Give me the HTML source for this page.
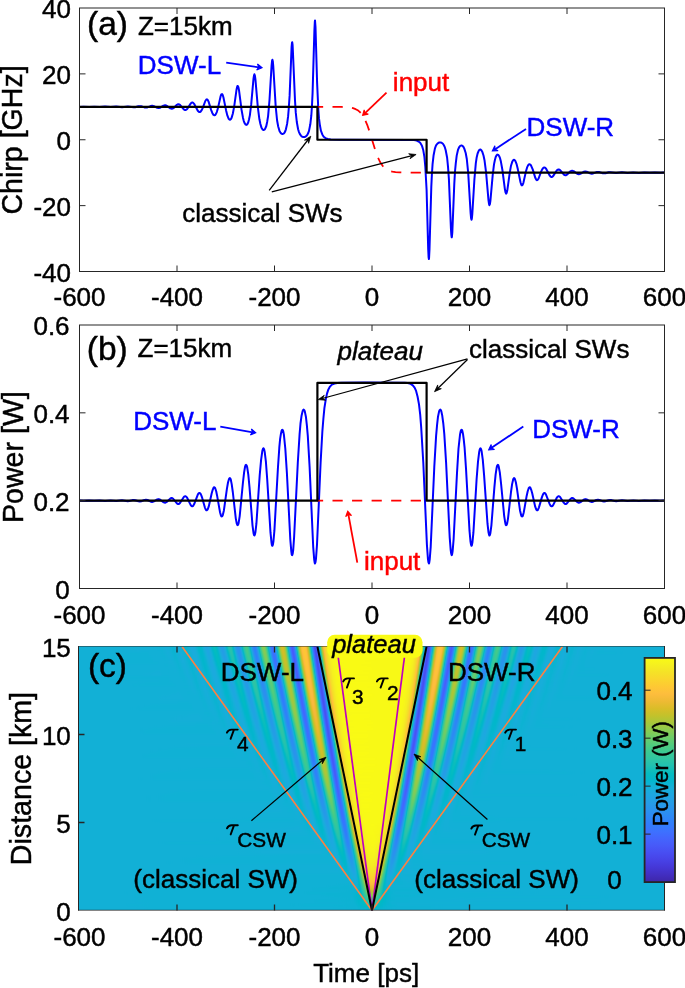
<!DOCTYPE html>
<html><head><meta charset="utf-8"><style>body{margin:0;background:#fff}
#pg{position:relative;width:685px;height:988px;overflow:hidden;background:#fff;font-family:"Liberation Sans",sans-serif}
#hmc{position:absolute;left:78px;top:646px;width:587px;height:264px;overflow:hidden}
#hm{position:absolute;left:-4px;top:-4px;width:595px;height:272px;filter:url(#pf)}
#hm i{position:absolute;left:0;width:595px;height:2px;display:block}
#sv{position:absolute;left:0;top:0}
text{font-family:"Liberation Sans",sans-serif;stroke:currentColor;stroke-width:0.45px}</style></head><body>
<svg width="0" height="0" style="position:absolute"><filter id="pf" color-interpolation-filters="sRGB" x="0" y="0" width="100%" height="100%">
<feColorMatrix type="matrix" values="0.93773 0.05861 0.00366 0 0 0.93773 0.05861 0.00366 0 0 0.93773 0.05861 0.00366 0 0 0 0 0 1 0"/>
<feComponentTransfer><feFuncR type="table" tableValues="0.242 0.244 0.246 0.248 0.250 0.252 0.254 0.256 0.258 0.259 0.261 0.263 0.265 0.266 0.268 0.269 0.270 0.272 0.273 0.274 0.275 0.276 0.277 0.277 0.278 0.279 0.279 0.280 0.280 0.281 0.281 0.281 0.281 0.281 0.281 0.281 0.281 0.281 0.281 0.280 0.280 0.279 0.278 0.278 0.277 0.275 0.274 0.273 0.271 0.269 0.267 0.265 0.262 0.259 0.256 0.252 0.247 0.242 0.237 0.231 0.225 0.219 0.213 0.207 0.201 0.195 0.190 0.187 0.185 0.183 0.182 0.181 0.179 0.178 0.178 0.177 0.177 0.176 0.175 0.174 0.172 0.169 0.165 0.161 0.157 0.154 0.151 0.149 0.147 0.146 0.145 0.143 0.141 0.138 0.135 0.132 0.129 0.125 0.122 0.118 0.115 0.112 0.108 0.105 0.101 0.096 0.091 0.086 0.079 0.071 0.063 0.053 0.043 0.033 0.023 0.015 0.009 0.005 0.002 0.001 0.002 0.005 0.009 0.016 0.025 0.037 0.050 0.064 0.077 0.090 0.102 0.114 0.125 0.135 0.145 0.153 0.161 0.168 0.174 0.180 0.185 0.191 0.195 0.200 0.206 0.212 0.218 0.224 0.232 0.240 0.249 0.259 0.270 0.281 0.293 0.305 0.318 0.330 0.342 0.355 0.367 0.380 0.392 0.405 0.418 0.432 0.446 0.461 0.475 0.490 0.504 0.519 0.533 0.547 0.561 0.575 0.589 0.602 0.616 0.630 0.643 0.657 0.670 0.683 0.696 0.709 0.722 0.734 0.747 0.759 0.771 0.783 0.794 0.806 0.817 0.828 0.839 0.850 0.860 0.870 0.880 0.890 0.900 0.909 0.918 0.927 0.936 0.944 0.952 0.961 0.969 0.977 0.984 0.990 0.995 0.997 0.997 0.997 0.997 0.997 0.997 0.996 0.996 0.995 0.994 0.992 0.991 0.989 0.986 0.984 0.981 0.978 0.975 0.972 0.969 0.967 0.965 0.963 0.962 0.961 0.960 0.960 0.960 0.960 0.960 0.961 0.962 0.963 0.964 0.966 0.967 0.969 0.971 0.973 0.975 0.977"/><feFuncG type="table" tableValues="0.150 0.153 0.157 0.161 0.165 0.169 0.173 0.177 0.181 0.185 0.189 0.193 0.197 0.201 0.205 0.209 0.214 0.218 0.223 0.228 0.233 0.238 0.243 0.249 0.254 0.260 0.265 0.271 0.276 0.282 0.287 0.293 0.298 0.304 0.309 0.315 0.320 0.326 0.331 0.337 0.342 0.347 0.353 0.358 0.364 0.369 0.375 0.380 0.386 0.392 0.397 0.403 0.409 0.414 0.420 0.426 0.432 0.438 0.444 0.450 0.456 0.462 0.468 0.474 0.480 0.486 0.492 0.497 0.503 0.508 0.514 0.519 0.524 0.530 0.535 0.540 0.545 0.550 0.555 0.560 0.566 0.571 0.576 0.581 0.585 0.590 0.595 0.600 0.604 0.609 0.614 0.618 0.623 0.627 0.632 0.636 0.641 0.645 0.650 0.654 0.658 0.663 0.667 0.671 0.675 0.679 0.683 0.686 0.690 0.694 0.697 0.701 0.704 0.707 0.710 0.713 0.716 0.719 0.722 0.725 0.728 0.730 0.733 0.735 0.738 0.740 0.742 0.745 0.747 0.749 0.751 0.753 0.755 0.757 0.759 0.761 0.763 0.766 0.768 0.770 0.772 0.774 0.776 0.779 0.781 0.783 0.785 0.787 0.789 0.790 0.792 0.794 0.795 0.796 0.797 0.798 0.799 0.800 0.801 0.802 0.802 0.803 0.803 0.803 0.803 0.803 0.802 0.802 0.801 0.800 0.799 0.798 0.797 0.796 0.794 0.793 0.791 0.790 0.788 0.786 0.784 0.782 0.780 0.777 0.775 0.773 0.770 0.768 0.765 0.763 0.760 0.758 0.755 0.753 0.750 0.748 0.746 0.744 0.741 0.739 0.737 0.735 0.734 0.732 0.731 0.730 0.729 0.729 0.728 0.729 0.729 0.730 0.733 0.737 0.741 0.746 0.751 0.757 0.763 0.768 0.774 0.780 0.786 0.791 0.797 0.803 0.809 0.816 0.822 0.828 0.834 0.840 0.847 0.853 0.859 0.865 0.872 0.878 0.884 0.890 0.896 0.902 0.908 0.914 0.920 0.926 0.932 0.938 0.944 0.949 0.955 0.961 0.967 0.972 0.978 0.984"/><feFuncB type="table" tableValues="0.660 0.673 0.685 0.696 0.707 0.718 0.729 0.739 0.750 0.761 0.772 0.783 0.794 0.804 0.815 0.825 0.835 0.844 0.853 0.861 0.869 0.877 0.884 0.891 0.897 0.903 0.909 0.915 0.920 0.925 0.930 0.935 0.940 0.944 0.948 0.952 0.956 0.960 0.964 0.967 0.970 0.973 0.976 0.979 0.982 0.984 0.986 0.988 0.990 0.991 0.992 0.994 0.995 0.996 0.997 0.997 0.998 0.999 1.000 1.000 0.999 0.997 0.995 0.993 0.991 0.989 0.987 0.984 0.982 0.979 0.977 0.974 0.971 0.968 0.964 0.960 0.956 0.952 0.947 0.943 0.939 0.936 0.932 0.929 0.925 0.922 0.918 0.915 0.911 0.908 0.905 0.902 0.900 0.897 0.895 0.893 0.891 0.889 0.886 0.883 0.880 0.877 0.873 0.870 0.865 0.861 0.856 0.851 0.846 0.841 0.836 0.830 0.824 0.818 0.812 0.806 0.800 0.794 0.788 0.781 0.775 0.769 0.762 0.756 0.749 0.743 0.736 0.729 0.722 0.716 0.709 0.702 0.695 0.688 0.681 0.674 0.667 0.660 0.653 0.645 0.638 0.630 0.623 0.615 0.607 0.598 0.590 0.581 0.573 0.564 0.555 0.545 0.536 0.527 0.517 0.507 0.497 0.488 0.477 0.467 0.456 0.445 0.434 0.423 0.412 0.401 0.390 0.380 0.369 0.359 0.348 0.337 0.327 0.316 0.305 0.294 0.283 0.273 0.262 0.252 0.242 0.233 0.224 0.215 0.207 0.200 0.192 0.185 0.178 0.172 0.166 0.161 0.157 0.155 0.153 0.154 0.155 0.156 0.159 0.162 0.165 0.170 0.175 0.181 0.189 0.197 0.206 0.215 0.224 0.231 0.237 0.242 0.245 0.243 0.239 0.235 0.231 0.227 0.222 0.218 0.214 0.209 0.205 0.201 0.197 0.194 0.191 0.188 0.185 0.182 0.179 0.176 0.173 0.170 0.167 0.164 0.161 0.158 0.156 0.153 0.151 0.148 0.145 0.142 0.138 0.134 0.130 0.126 0.122 0.117 0.112 0.106 0.100 0.094 0.087 0.081"/></feComponentTransfer><feGaussianBlur stdDeviation="0.6 0.8"/>
</filter></svg>
<div id="pg">
<div id="hmc"><div id="hm">
<i style="top:0px;background:linear-gradient(90deg,#6d7 0,#6ce 64px,#6d6 75px,#6d8 81px,#6ef 86px,#6b6 92px,#70c 98px,#699 105px,#731 111px,#6f2 114px,#668 118px,#6ba 121px,#771 125px,#751 127px,#622 132px,#637 134px,#7c4 139px,#7d9 141px,#74a 143px,#5f5 146px,#5af 147px,#59d 148px,#5c5 149px,#6a7 151px,#843 154px,#88a 155px,#899 156px,#86b 157px,#769 159px,#55f 162px,#501 163px,#4f4 164px,#53f 165px,#5d7 166px,#857 169px,#905 170px,#977 171px,#9a3 172px,#980 173px,#90e 174px,#856 175px,#55d 178px,#494 179px,#42b 180px,#43a 181px,#4c0 182px,#5a8 183px,#912 186px,#9f7 187px,#a96 188px,#ae5 189px,#adf 190px,#a81 191px,#9cd 192px,#8ca 193px,#4e5 196px,#3e3 197px,#35f 198px,#375 199px,#424 200px,#54b 201px,#98b 204px,#aaf 205px,#b8c 206px,#c1b 207px,#c5c 208px,#c4d 209px,#bec 210px,#b38 211px,#a31 212px,#8dd 213px,#42f 216px,#315 217px,#29c 218px,#2de 219px,#3ce 220px,#53d 221px,#89b 223px,#a22 224px,#b6b 225px,#c6d 226px,#d29 227px,#da5 228px,#de5 229px,#ded 230px,#dbd 231px,#d51 232px,#ca2 233px,#baa 234px,#a64 235px,#8d3 236px,#534 238px,#38e 239px,#264 240px,#1f4 241px,#258 242px,#37c 243px,#521 244px,#8d3 246px,#a76 247px,#bd4 248px,#cec 249px,#dc3 250px,#edb 252px,#f9e 255px,#ffe 261px,#fef 337px,#f99 341px,#ecf 344px,#dac 346px,#cce 347px,#bae 348px,#a47 349px,#6c3 351px,#4e9 352px,#350 353px,#241 354px,#1f6 355px,#27f 356px,#3bc 357px,#907 360px,#a8f 361px,#bcc 362px,#cbb 363px,#d61 364px,#dc6 365px,#def 366px,#de0 367px,#d99 368px,#d16 369px,#c51 370px,#b47 371px,#9f6 372px,#50c 375px,#3a9 376px,#2cc 377px,#2a1 378px,#330 379px,#459 380px,#909 383px,#a55 384px,#b53 385px,#bfc 386px,#c53 387px,#c58 388px,#c0e 389px,#b75 390px,#a90 391px,#964 392px,#523 395px,#408 396px,#36a 397px,#367 398px,#3fd 399px,#50a 400px,#8ed 403px,#9e7 404px,#a91 405px,#ae4 406px,#ae0 407px,#a87 408px,#9df 409px,#7d6 411px,#589 413px,#4aa 414px,#431 415px,#432 416px,#4a8 417px,#57a 418px,#870 421px,#920 422px,#988 423px,#9a1 424px,#96d 425px,#8f3 426px,#768 428px,#5c1 430px,#531 431px,#4f1 432px,#508 433px,#56f 434px,#812 438px,#874 439px,#89b 440px,#884 441px,#7be 443px,#615 446px,#5bd 447px,#59c 448px,#5b5 449px,#66e 451px,#7ac 454px,#7e1 456px,#779 458px,#632 462px,#625 464px,#756 469px,#76f 471px,#66c 477px,#69f 480px,#72e 484px,#707 487px,#698 491px,#70a 499px,#6b1 505px,#6f0 513px,#6c4 519px,#6e4 526px,#6dd 534px,#6d8 595px)"></i>
<i style="top:2px;background:linear-gradient(90deg,#6d7 0,#6ce 64px,#6d6 75px,#6d8 81px,#6ef 86px,#6b6 92px,#70c 98px,#699 105px,#731 111px,#6f2 114px,#668 118px,#6ba 121px,#771 125px,#751 127px,#622 132px,#637 134px,#7c4 139px,#7d9 141px,#74a 143px,#5f5 146px,#5af 147px,#59d 148px,#5c5 149px,#6a7 151px,#843 154px,#88a 155px,#899 156px,#86b 157px,#769 159px,#55f 162px,#501 163px,#4f4 164px,#53f 165px,#5d7 166px,#857 169px,#905 170px,#977 171px,#9a3 172px,#980 173px,#90e 174px,#856 175px,#55d 178px,#494 179px,#42b 180px,#43a 181px,#4c0 182px,#5a8 183px,#912 186px,#9f7 187px,#a96 188px,#ae5 189px,#adf 190px,#a81 191px,#9cd 192px,#8ca 193px,#4e5 196px,#3e3 197px,#35f 198px,#375 199px,#424 200px,#54b 201px,#98b 204px,#aaf 205px,#b8c 206px,#c1b 207px,#c5c 208px,#c4d 209px,#bec 210px,#b38 211px,#a31 212px,#8dd 213px,#42f 216px,#315 217px,#29c 218px,#2de 219px,#3ce 220px,#53d 221px,#89b 223px,#a22 224px,#b6b 225px,#c6d 226px,#d29 227px,#da5 228px,#de5 229px,#ded 230px,#dbd 231px,#d51 232px,#ca2 233px,#baa 234px,#a64 235px,#8d3 236px,#534 238px,#38e 239px,#264 240px,#1f4 241px,#258 242px,#37c 243px,#521 244px,#8d3 246px,#a76 247px,#bd4 248px,#cec 249px,#dc3 250px,#edb 252px,#f9e 255px,#ffe 261px,#fef 337px,#f99 341px,#ecf 344px,#dac 346px,#cce 347px,#bae 348px,#a47 349px,#6c3 351px,#4e9 352px,#350 353px,#241 354px,#1f6 355px,#27f 356px,#3bc 357px,#907 360px,#a8f 361px,#bcc 362px,#cbb 363px,#d61 364px,#dc6 365px,#def 366px,#de0 367px,#d99 368px,#d16 369px,#c51 370px,#b47 371px,#9f6 372px,#50c 375px,#3a9 376px,#2cc 377px,#2a1 378px,#330 379px,#459 380px,#909 383px,#a55 384px,#b53 385px,#bfc 386px,#c53 387px,#c58 388px,#c0e 389px,#b75 390px,#a90 391px,#964 392px,#523 395px,#408 396px,#36a 397px,#367 398px,#3fd 399px,#50a 400px,#8ed 403px,#9e7 404px,#a91 405px,#ae4 406px,#ae0 407px,#a87 408px,#9df 409px,#7d6 411px,#589 413px,#4aa 414px,#431 415px,#432 416px,#4a8 417px,#57a 418px,#870 421px,#920 422px,#988 423px,#9a1 424px,#96d 425px,#8f3 426px,#768 428px,#5c1 430px,#531 431px,#4f1 432px,#508 433px,#56f 434px,#812 438px,#874 439px,#89b 440px,#884 441px,#7be 443px,#615 446px,#5bd 447px,#59c 448px,#5b5 449px,#66e 451px,#7ac 454px,#7e1 456px,#779 458px,#632 462px,#625 464px,#756 469px,#76f 471px,#66c 477px,#69f 480px,#72e 484px,#707 487px,#698 491px,#70a 499px,#6b1 505px,#6f0 513px,#6c4 519px,#6e4 526px,#6dd 534px,#6d8 595px)"></i>
<i style="top:4px;background:linear-gradient(90deg,#6d7 0,#6cf 64px,#6d8 75px,#6d5 81px,#6f1 86px,#6b5 92px,#70c 98px,#698 105px,#730 111px,#6f7 114px,#66a 118px,#6b3 121px,#76d 125px,#756 127px,#627 132px,#632 134px,#7bc 139px,#7da 141px,#756 143px,#602 146px,#5b7 147px,#59e 148px,#5be 149px,#696 151px,#835 154px,#882 155px,#898 156px,#872 157px,#810 158px,#570 162px,#50a 163px,#4f3 164px,#534 165px,#5c3 166px,#83f 169px,#8f2 170px,#96b 171px,#99f 172px,#985 173px,#91c 174px,#86c 175px,#577 178px,#4a7 179px,#433 180px,#434 181px,#4ae 182px,#58d 183px,#8f6 186px,#9e0 187px,#a87 188px,#ade 189px,#ae1 190px,#a8c 191px,#9e0 192px,#8e6 193px,#503 196px,#3f9 197px,#367 198px,#36d 199px,#40e 200px,#52b 201px,#96b 204px,#a95 205px,#b79 206px,#c10 207px,#c57 208px,#c50 209px,#bf7 210px,#b4a 211px,#a4a 212px,#8fc 213px,#44d 216px,#329 217px,#2a0 218px,#2d1 219px,#3b4 220px,#51b 221px,#a03 224px,#b51 225px,#c59 226px,#d1b 227px,#d9c 228px,#de1 229px,#dee 230px,#dc2 231px,#d5a 232px,#cb1 233px,#bbf 234px,#a7f 235px,#8f3 236px,#3ab 239px,#275 240px,#1f5 241px,#24a 242px,#361 243px,#4fe 244px,#8b1 246px,#a59 247px,#bbd 248px,#cd9 249px,#db4 250px,#ed3 252px,#f9b 255px,#ffe 261px,#fee 337px,#f96 341px,#ec7 344px,#d9d 346px,#cba 347px,#b95 348px,#a29 349px,#69f 351px,#4c8 352px,#336 353px,#234 354px,#1f9 355px,#291 356px,#3da 357px,#927 360px,#aaa 361px,#be0 362px,#cc9 363px,#d6a 364px,#dca 365px,#def 366px,#ddc 367px,#d8f 368px,#d07 369px,#c3d 370px,#b2c 371px,#9d6 372px,#4eb 375px,#391 376px,#2c1 377px,#2a7 378px,#345 379px,#478 380px,#928 383px,#a6d 384px,#b64 385px,#c06 386px,#c55 387px,#c53 388px,#c02 389px,#b61 390px,#a75 391px,#943 392px,#504 395px,#3f3 396px,#364 397px,#370 398px,#413 399px,#529 400px,#908 403px,#9fa 404px,#a9b 405px,#ae5 406px,#ad8 407px,#a77 408px,#9c7 409px,#7b5 411px,#56e 413px,#49a 414px,#42d 415px,#43b 416px,#4bc 417px,#69a 419px,#884 421px,#92d 422px,#98c 423px,#99d 424px,#960 425px,#8df 426px,#5af 430px,#527 431px,#4f1 432px,#512 433px,#581 434px,#790 437px,#81f 438px,#87a 439px,#899 440px,#87b 441px,#7ab 443px,#608 446px,#5b7 447px,#59e 448px,#60e 450px,#7b3 454px,#7dd 456px,#76d 458px,#664 461px,#61a 463px,#65a 465px,#75a 469px,#76b 471px,#66b 477px,#6a5 480px,#72f 484px,#6e0 488px,#699 492px,#70c 498px,#6b1 505px,#6f6 512px,#6c5 519px,#6e3 526px,#6de 534px,#6d8 595px)"></i>
<i style="top:6px;background:linear-gradient(90deg,#6d7 0,#6ce 65px,#6d5 76px,#6da 82px,#6ec 87px,#6b9 93px,#708 99px,#699 105px,#72e 112px,#6ba 116px,#66c 119px,#6cb 122px,#75d 125px,#763 127px,#621 133px,#64e 135px,#7cb 140px,#7c2 142px,#71f 144px,#5dd 147px,#5aa 148px,#5ad 149px,#655 151px,#7f8 154px,#85a 155px,#88b 156px,#882 157px,#83d 158px,#71d 160px,#5ba 162px,#538 163px,#4fb 164px,#512 165px,#57e 166px,#701 168px,#89f 170px,#932 171px,#986 172px,#98f 173px,#94a 174px,#8b9 175px,#6ec 177px,#4fc 179px,#45e 180px,#42b 181px,#472 182px,#528 183px,#97e 187px,#a42 188px,#aba 189px,#ae0 190px,#aaf 191px,#a27 192px,#94b 193px,#6d9 195px,#458 197px,#393 198px,#35d 199px,#3c3 200px,#4b4 201px,#8e6 204px,#a26 205px,#b25 206px,#bd9 207px,#c3e 208px,#c54 209px,#c19 210px,#b8b 211px,#aa9 212px,#976 213px,#4cd 216px,#381 217px,#2bd 218px,#2ae 219px,#356 220px,#496 221px,#97f 224px,#ae4 225px,#c04 226px,#cdd 227px,#d74 228px,#dcc 229px,#deb 230px,#dd2 231px,#d7d 232px,#ce9 233px,#c0e 234px,#ae6 235px,#971 236px,#423 239px,#2c2 240px,#206 241px,#21b 242px,#2fc 243px,#479 244px,#9e0 247px,#b59 248px,#c8b 249px,#d79 250px,#eb3 252px,#f5b 254px,#fdf 258px,#fff 275px,#feb 337px,#f89 341px,#f0a 343px,#e1a 345px,#d5f 346px,#c6a 347px,#b30 348px,#9ae 349px,#445 352px,#2d8 353px,#20d 354px,#212 355px,#2e5 356px,#455 357px,#9a2 360px,#b0e 361px,#c2d 362px,#cff 363px,#d8b 364px,#dd8 365px,#dea 366px,#dc4 367px,#d65 368px,#cc7 369px,#be5 370px,#abd 371px,#950 372px,#469 375px,#339 376px,#2a5 377px,#2cc 378px,#3a3 379px,#4fb 380px,#82f 382px,#99f 383px,#ac8 384px,#ba1 385px,#c25 386px,#c56 387px,#c36 388px,#bc7 389px,#b0a 390px,#a03 391px,#74b 393px,#491 395px,#3af 396px,#35b 397px,#3a4 398px,#478 399px,#84f 402px,#96a 403px,#a3c 404px,#ab9 405px,#ae0 406px,#ab0 407px,#a2e 408px,#962 409px,#50d 413px,#463 414px,#42b 415px,#46c 416px,#515 417px,#804 420px,#8ce 421px,#956 422px,#992 423px,#980 424px,#924 425px,#7c2 427px,#614 429px,#56d 430px,#50b 431px,#4fe 432px,#544 433px,#67c 435px,#7d3 437px,#849 438px,#887 439px,#888 440px,#7e9 442px,#646 445px,#5df 446px,#5aa 447px,#5ae 448px,#646 450px,#78b 453px,#7db 455px,#78e 457px,#647 461px,#623 463px,#6c6 466px,#766 469px,#731 472px,#676 476px,#696 479px,#727 483px,#70d 486px,#699 491px,#70a 498px,#6b5 505px,#6f0 512px,#6cc 519px,#6dc 526px,#6d7 595px)"></i>
<i style="top:8px;background:linear-gradient(90deg,#6d8 0,#6cd 66px,#6dc 76px,#6d1 82px,#6e7 88px,#6bf 94px,#703 100px,#69b 106px,#72a 113px,#672 119px,#6af 122px,#763 126px,#751 128px,#632 133px,#639 135px,#7ae 140px,#7cd 142px,#751 144px,#60c 147px,#5ac 149px,#5cb 150px,#69a 152px,#828 155px,#871 156px,#884 157px,#85d 158px,#76b 160px,#573 163px,#515 164px,#504 165px,#549 166px,#5d9 167px,#844 170px,#8ed 171px,#95e 172px,#989 173px,#967 174px,#8f9 175px,#844 176px,#55d 179px,#49c 180px,#439 181px,#44c 182px,#4d3 183px,#5b9 184px,#912 187px,#9f0 188px,#a88 189px,#ad0 190px,#ac3 191px,#a5f 192px,#9a5 193px,#89e 194px,#4c6 197px,#3d5 198px,#364 199px,#38e 200px,#44c 201px,#57b 202px,#9ae 205px,#ac7 206px,#b97 207px,#c1a 208px,#c4d 209px,#c30 210px,#bc1 211px,#afd 212px,#9e6 213px,#886 214px,#555 216px,#3e9 217px,#2f1 218px,#2a0 219px,#30b 220px,#41c 221px,#74d 223px,#a6f 225px,#ba7 226px,#c98 227px,#d44 228px,#db1 229px,#de2 230px,#ddb 231px,#d9a 232px,#d1b 233px,#c56 234px,#b46 235px,#9e8 236px,#671 238px,#4a3 239px,#31e 240px,#22b 241px,#1ff 242px,#2a7 243px,#3fb 244px,#962 247px,#af0 248px,#c37 249px,#d38 250px,#dfc 251px,#efa 253px,#fa9 256px,#fff 262px,#fe7 337px,#f7b 341px,#eef 343px,#de7 345px,#d1c 346px,#c13 347px,#ac3 348px,#92d 349px,#3cb 352px,#288 353px,#1f9 354px,#23e 355px,#347 356px,#4d9 357px,#879 359px,#a16 360px,#b6b 361px,#c72 362px,#d2e 363px,#da5 364px,#ddf 365px,#ddf 366px,#da7 367px,#d33 368px,#c7f 369px,#b85 370px,#a45 371px,#719 373px,#56a 374px,#3f3 375px,#2f5 376px,#2a0 377px,#307 378px,#410 379px,#8b4 382px,#a0c 383px,#b19 384px,#bd2 385px,#c38 386px,#c4c 387px,#c0e 388px,#b82 389px,#aa8 390px,#988 391px,#552 394px,#42e 395px,#380 396px,#36a 397px,#3ec 398px,#4e9 399px,#8c1 402px,#9bf 403px,#a6f 404px,#ac9 405px,#acc 406px,#a7a 407px,#9d8 408px,#7dd 410px,#59a 412px,#4bd 413px,#443 414px,#43f 415px,#4af 416px,#579 417px,#85d 420px,#90a 421px,#970 422px,#988 423px,#954 424px,#8dc 425px,#75b 427px,#5c4 429px,#53c 430px,#502 431px,#51c 432px,#583 433px,#80a 437px,#865 438px,#885 439px,#86b 440px,#7a4 442px,#612 445px,#5c4 446px,#5ac 447px,#617 449px,#7a9 453px,#7cf 455px,#762 457px,#666 460px,#624 462px,#665 464px,#755 468px,#761 470px,#671 476px,#6ae 479px,#72a 483px,#69b 490px,#709 497px,#6b5 504px,#6f2 511px,#6c9 518px,#6df 525px,#6d7 595px)"></i>
<i style="top:10px;background:linear-gradient(90deg,#6d8 0,#6e1 72px,#6d5 83px,#6e2 89px,#6b9 94px,#707 100px,#6a0 107px,#728 113px,#6c2 117px,#672 120px,#6c5 123px,#764 127px,#707 130px,#62d 134px,#652 136px,#7bc 141px,#7b7 143px,#71d 145px,#5e9 148px,#5b8 149px,#5bb 150px,#65b 152px,#7ed 155px,#879 157px,#86e 158px,#829 159px,#70f 161px,#5ba 163px,#53f 164px,#509 165px,#526 166px,#593 167px,#70f 169px,#89e 171px,#929 172px,#974 173px,#975 174px,#929 175px,#893 176px,#6c7 178px,#4eb 180px,#45d 181px,#43c 182px,#492 183px,#551 184px,#89e 187px,#992 188px,#a48 189px,#ab2 190px,#ac8 191px,#a88 192px,#9f1 193px,#908 194px,#68c 196px,#53f 197px,#42a 198px,#384 199px,#370 200px,#3f6 201px,#4fe 202px,#92d 205px,#a5e 206px,#b4a 207px,#beb 208px,#c3c 209px,#c3c 210px,#beb 211px,#b46 212px,#a4d 213px,#905 214px,#45f 217px,#339 218px,#2aa 219px,#2d4 220px,#3af 221px,#510 222px,#9f2 225px,#b42 226px,#c4b 227px,#d0e 228px,#d8f 229px,#dd4 230px,#ddf 231px,#db1 232px,#d45 233px,#c97 234px,#b9f 235px,#a58 236px,#8c7 237px,#52a 239px,#388 240px,#262 241px,#1f7 242px,#261 243px,#387 244px,#52e 245px,#8de 247px,#a7f 248px,#bdc 249px,#cf1 250px,#dc7 251px,#edd 253px,#f9e 256px,#ffe 262px,#fef 336px,#f9a 340px,#ed1 343px,#db0 345px,#cd3 346px,#bb6 347px,#a50 348px,#6d0 350px,#4f7 351px,#35c 352px,#249 353px,#1f9 354px,#27c 355px,#3b5 356px,#8fb 359px,#a84 360px,#bc1 361px,#cb0 362px,#d56 363px,#dba 364px,#de1 365px,#dcf 366px,#d83 367px,#cfa 368px,#c2f 369px,#b1d 370px,#9c5 371px,#4e0 374px,#38d 375px,#2c5 376px,#2b2 377px,#355 378px,#48b 379px,#931 382px,#a6f 383px,#b5e 384px,#bf9 385px,#c41 386px,#c36 387px,#bdb 388px,#b32 389px,#a3c 390px,#79e 392px,#4d8 394px,#3df 395px,#36a 396px,#390 397px,#447 398px,#565 399px,#805 401px,#928 402px,#a07 403px,#a94 404px,#aca 405px,#aaa 406px,#a36 407px,#978 408px,#75c 410px,#536 412px,#481 413px,#43a 414px,#469 415px,#503 416px,#7dd 419px,#8a9 420px,#936 421px,#979 422px,#96f 423px,#91b 424px,#7ca 426px,#628 428px,#582 429px,#51e 430px,#50c 431px,#54b 432px,#674 434px,#7c1 436px,#834 437px,#872 438px,#876 439px,#7df 441px,#64d 444px,#5b8 446px,#5bb 447px,#64e 449px,#783 452px,#7cd 454px,#781 456px,#64c 460px,#62f 462px,#75f 468px,#726 471px,#679 475px,#69f 478px,#724 482px,#6e6 486px,#69e 490px,#705 497px,#6ba 504px,#6f3 510px,#6c8 517px,#6e1 524px,#6d8 595px)"></i>
<i style="top:12px;background:linear-gradient(90deg,#6d9 0,#6e3 73px,#6ce 83px,#6ea 89px,#6bd 95px,#703 101px,#69f 107px,#725 114px,#67a 120px,#6ac 123px,#758 127px,#724 130px,#63e 134px,#63f 136px,#79f 141px,#7c1 143px,#74c 145px,#616 148px,#5ba 150px,#5d7 151px,#69d 153px,#81a 156px,#860 157px,#871 158px,#849 159px,#75c 161px,#578 164px,#521 165px,#516 166px,#55d 167px,#6ac 169px,#846 171px,#8e7 172px,#950 173px,#972 174px,#94a 175px,#8d5 176px,#81d 177px,#548 180px,#495 181px,#443 182px,#466 183px,#4f9 184px,#700 186px,#92a 188px,#9fb 189px,#a85 190px,#abf 191px,#aa2 192px,#a2f 193px,#967 194px,#856 195px,#490 198px,#3ba 199px,#36a 200px,#3b5 201px,#48d 202px,#739 204px,#9eb 206px,#af2 207px,#bb0 208px,#c1f 209px,#c3d 210px,#c0a 211px,#b84 212px,#aa9 213px,#97d 214px,#673 216px,#4e0 217px,#393 218px,#2cb 219px,#2b3 220px,#354 221px,#48c 222px,#96e 225px,#ad4 226px,#bf5 227px,#ccf 228px,#d66 229px,#dbf 230px,#ddd 231px,#dc1 232px,#d6a 233px,#cd1 234px,#bf0 235px,#ac2 236px,#946 237px,#3fd 240px,#2aa 241px,#202 242px,#22c 243px,#31f 244px,#4a6 245px,#a09 248px,#b7a 249px,#ca5 250px,#d8c 251px,#ebd 253px,#f92 256px,#ff6 261px,#fec 336px,#f8d 340px,#f12 342px,#e29 344px,#d74 345px,#c84 346px,#b52 347px,#9d7 348px,#472 351px,#2f8 352px,#21c 353px,#20b 354px,#2cb 355px,#42e 356px,#978 359px,#aea 360px,#c10 361px,#ce7 362px,#d78 363px,#dc8 364px,#ddc 365px,#db7 366px,#d57 367px,#cb9 368px,#bd6 369px,#aac 370px,#93f 371px,#460 374px,#337 375px,#2ac 376px,#2da 377px,#3b5 378px,#50f 379px,#83c 381px,#9a5 382px,#ac8 383px,#b99 384px,#c15 385px,#c3e 386px,#c15 387px,#b9d 388px,#ad6 389px,#9c7 390px,#5a1 393px,#46d 394px,#3a4 395px,#36c 396px,#3cd 397px,#4b1 398px,#87a 401px,#983 402px,#a41 403px,#aaa 404px,#abc 405px,#a79 406px,#9e6 407px,#90d 408px,#5c4 411px,#4e2 412px,#45b 413px,#447 414px,#4a6 415px,#562 416px,#837 419px,#8e7 420px,#953 421px,#972 422px,#947 423px,#8d7 424px,#766 426px,#5d8 428px,#550 429px,#513 430px,#528 431px,#587 432px,#7f7 436px,#851 437px,#872 438px,#85a 439px,#79c 441px,#61b 444px,#5d1 445px,#5ba 446px,#621 448px,#79f 452px,#7c0 454px,#703 457px,#63b 460px,#642 462px,#751 467px,#737 470px,#685 474px,#693 477px,#726 482px,#69f 489px,#705 496px,#6b9 503px,#6ee 510px,#6ce 517px,#6db 524px,#6d8 595px)"></i>
<i style="top:14px;background:linear-gradient(90deg,#6da 0,#6e4 74px,#6d2 84px,#6e6 90px,#6c2 96px,#6fe 102px,#6a2 108px,#722 114px,#6c9 118px,#679 121px,#6c0 124px,#75a 128px,#709 131px,#638 135px,#656 137px,#7ae 142px,#7ac 144px,#71b 146px,#5f5 149px,#5c6 150px,#5c8 151px,#661 153px,#7e1 156px,#866 158px,#85a 159px,#816 160px,#703 162px,#5bb 164px,#549 165px,#519 166px,#539 167px,#5a7 168px,#89b 172px,#91e 173px,#961 174px,#95a 175px,#908 176px,#86f 177px,#4df 181px,#460 182px,#44f 183px,#4b3 184px,#57a 185px,#8ba 188px,#9a3 189px,#a4b 190px,#aa6 191px,#aae 192px,#a5e 193px,#9b9 194px,#8c5 195px,#502 198px,#404 199px,#37d 200px,#38b 201px,#42e 202px,#548 203px,#96f 206px,#a90 207px,#b6a 208px,#bf6 209px,#c33 210px,#c1f 211px,#bb7 212px,#afb 213px,#9ec 214px,#892 215px,#569 217px,#3fd 218px,#301 219px,#2a9 220px,#30b 221px,#414 222px,#58f 223px,#8e3 225px,#a5e 226px,#b97 227px,#c89 228px,#d36 229px,#da3 230px,#dd4 231px,#dcc 232px,#d88 233px,#d04 234px,#c3a 235px,#b24 236px,#9c0 237px,#47b 240px,#302 241px,#220 242px,#20a 243px,#2c4 244px,#426 245px,#98c 248px,#b13 249px,#c52 250px,#d4d 251px,#e9a 253px,#f4e 255px,#fdc 259px,#fff 272px,#fe8 336px,#f7f 340px,#ef8 342px,#df8 344px,#d32 345px,#c2f 346px,#ae7 347px,#958 348px,#3f4 351px,#2a4 352px,#202 353px,#231 354px,#328 355px,#4af 356px,#84d 358px,#9ef 359px,#b4a 360px,#c57 361px,#d18 362px,#d93 363px,#dd0 364px,#dd2 365px,#d99 366px,#d25 367px,#c70 368px,#b75 369px,#a33 370px,#708 372px,#55d 373px,#3ed 374px,#2f6 375px,#2aa 376px,#317 377px,#424 378px,#8bf 381px,#a11 382px,#b16 383px,#bc8 384px,#c25 385px,#c30 386px,#be9 387px,#b53 388px,#a70 389px,#949 390px,#521 393px,#413 394px,#381 395px,#385 396px,#41d 397px,#526 398px,#8e6 401px,#9d1 402px,#a6c 403px,#ab1 404px,#aa0 405px,#a3b 406px,#98a 407px,#782 409px,#55d 411px,#4a1 412px,#44b 413px,#46a 414px,#4f4 415px,#885 419px,#916 420px,#95f 421px,#95c 422px,#911 423px,#7d0 425px,#63a 427px,#596 428px,#531 429px,#51b 430px,#553 431px,#66d 433px,#7b0 435px,#821 436px,#85f 437px,#863 438px,#7d4 440px,#653 443px,#5c5 445px,#5fe 447px,#77b 451px,#7c0 453px,#774 455px,#651 459px,#63a 461px,#758 467px,#71c 470px,#67d 474px,#6a8 477px,#721 481px,#6df 485px,#6a3 489px,#704 495px,#6bf 503px,#6ef 509px,#6cc 516px,#6d5 524px,#6d9 595px)"></i>
<i style="top:16px;background:linear-gradient(90deg,#6da 0,#6e5 75px,#6d5 85px,#6e1 91px,#6c8 97px,#701 102px,#6a7 109px,#721 115px,#67c 122px,#705 126px,#757 129px,#6ee 132px,#649 135px,#646 137px,#791 142px,#7b4 144px,#748 146px,#5df 150px,#5c7 151px,#62e 153px,#80c 157px,#84e 158px,#85d 159px,#835 160px,#74e 162px,#57e 165px,#52e 166px,#528 167px,#571 168px,#6bb 170px,#846 172px,#8df 173px,#940 174px,#95b 175px,#92c 176px,#8b2 177px,#711 179px,#536 181px,#492 182px,#450 183px,#481 184px,#51e 185px,#726 187px,#93f 189px,#a03 190px,#a7f 191px,#aaa 192px,#a7f 193px,#9fd 194px,#928 195px,#6c9 197px,#460 199px,#3a6 200px,#378 201px,#3e2 202px,#4d1 203px,#8ec 206px,#a23 207px,#b18 208px,#bc2 209px,#c1d 210px,#c27 211px,#bdf 212px,#b42 213px,#a50 214px,#910 215px,#475 218px,#34b 219px,#2b6 220px,#2d7 221px,#3aa 222px,#503 223px,#9e0 226px,#b30 227px,#c3b 228px,#cff 229px,#d81 230px,#dc6 231px,#dd0 232px,#d9f 233px,#d30 234px,#c7d 235px,#b7f 236px,#a32 237px,#89c 238px,#500 240px,#367 241px,#252 242px,#1fc 243px,#279 244px,#3ae 245px,#73a 247px,#909 248px,#aa4 249px,#bf9 250px,#d08 251px,#dd8 252px,#ee6 254px,#fa2 257px,#fff 263px,#ff0 335px,#f9d 339px,#eda 342px,#dc2 344px,#ceb 345px,#bd4 346px,#a76 347px,#8d4 348px,#525 350px,#381 351px,#25f 352px,#1fb 353px,#26a 354px,#393 355px,#70b 357px,#8d0 358px,#a5e 359px,#ba2 360px,#c97 361px,#d41 362px,#da8 363px,#dd2 364px,#dc1 365px,#d75 366px,#ceb 367px,#c1f 368px,#b0b 369px,#9b3 370px,#4d4 373px,#388 374px,#2c9 375px,#2be 376px,#368 377px,#4a0 378px,#93a 381px,#a72 382px,#b59 383px,#bec 384px,#c2a 385px,#c17 386px,#bb2 387px,#afe 388px,#a00 389px,#75c 391px,#4af 393px,#3ce 394px,#376 395px,#3b6 396px,#47f 397px,#834 400px,#946 401px,#a11 402px,#a89 403px,#aa9 404px,#a74 405px,#9ef 406px,#923 407px,#5ed 410px,#506 411px,#475 412px,#452 413px,#4a1 414px,#54e 415px,#812 418px,#8c5 419px,#935 420px,#95c 421px,#938 422px,#8d0 423px,#76e 425px,#5eb 427px,#564 428px,#524 429px,#534 430px,#58c 431px,#7e5 435px,#83d 436px,#85e 437px,#849 438px,#794 440px,#623 443px,#5c7 445px,#62b 447px,#795 451px,#7b2 453px,#6fb 456px,#642 459px,#64d 461px,#74c 466px,#72c 469px,#687 473px,#69c 476px,#71a 480px,#6ea 484px,#6a3 488px,#701 495px,#6bd 502px,#6e9 509px,#6d2 516px,#6da 595px)"></i>
<i style="top:18px;background:linear-gradient(90deg,#6d9 0,#6e1 75px,#6d9 86px,#6dd 92px,#6c0 97px,#6fe 103px,#6a5 109px,#71c 116px,#680 122px,#6bb 125px,#751 129px,#70b 132px,#643 136px,#65a 138px,#7a0 143px,#7a1 145px,#71a 147px,#601 150px,#5d5 152px,#665 154px,#7d5 157px,#853 159px,#847 160px,#790 162px,#5bf 165px,#553 166px,#529 167px,#54c 168px,#5ba 169px,#896 173px,#911 174px,#94c 175px,#93f 176px,#8e8 177px,#84b 178px,#597 181px,#4d5 182px,#467 183px,#465 184px,#4d4 185px,#5a1 186px,#8d3 189px,#9af 190px,#a4a 191px,#a97 192px,#a90 193px,#a32 194px,#97f 195px,#881 196px,#4cb 199px,#3e6 200px,#37e 201px,#3ac 202px,#46a 203px,#594 204px,#9ac 207px,#abc 208px,#b83 209px,#bfc 210px,#c24 211px,#bfb 212px,#b7d 213px,#aaa 214px,#986 215px,#687 217px,#4f6 218px,#3a7 219px,#2d9 220px,#2b9 221px,#351 222px,#481 223px,#95a 226px,#ac1 227px,#be4 228px,#cc0 229px,#d58 230px,#db1 231px,#dce 232px,#db0 233px,#d56 234px,#cb9 235px,#bd2 236px,#a9e 237px,#91d 238px,#3d9 241px,#294 242px,#201 243px,#23f 244px,#342 245px,#4d3 246px,#882 248px,#a2f 249px,#b9a 250px,#cbd 251px,#d9f 252px,#ec7 254px,#f96 257px,#ffd 263px,#fed 335px,#f91 339px,#eba 342px,#d87 344px,#c9e 345px,#b72 346px,#9fe 347px,#49d 350px,#31a 351px,#22c 352px,#207 353px,#2b3 354px,#409 355px,#94f 358px,#ac7 359px,#bf2 360px,#ccf 361px,#d64 362px,#db7 363px,#dcd 364px,#da9 365px,#d49 366px,#ca9 367px,#bc5 368px,#a99 369px,#92b 370px,#456 373px,#336 374px,#2b3 375px,#2e9 376px,#3ca 377px,#525 378px,#84a 380px,#9ad 381px,#ac8 382px,#b91 383px,#c04 384px,#c24 385px,#bf2 386px,#b6f 387px,#a9f 388px,#987 389px,#56c 392px,#44c 393px,#39e 394px,#383 395px,#3fc 396px,#4ed 397px,#8a4 400px,#999 401px,#a42 402px,#a96 403px,#a92 404px,#a3b 405px,#998 406px,#7a5 408px,#584 410px,#4c1 411px,#45f 412px,#46f 413px,#4e9 414px,#6a3 416px,#861 418px,#8f6 419px,#945 420px,#949 421px,#905 422px,#7d4 424px,#5a9 427px,#544 428px,#52a 429px,#55d 430px,#668 432px,#7a0 434px,#80e 435px,#84b 436px,#851 437px,#7c8 439px,#658 442px,#5d2 444px,#60a 446px,#774 450px,#7b2 452px,#767 454px,#655 458px,#645 460px,#73c 465px,#738 468px,#681 473px,#6d5 477px,#71b 481px,#6a5 487px,#701 494px,#6bc 501px,#6eb 508px,#6d0 515px,#6d3 523px,#6da 595px)"></i>
<i style="top:20px;background:linear-gradient(90deg,#6d9 0,#6e6 77px,#6dc 87px,#6d8 93px,#6c5 98px,#6f9 104px,#6a9 110px,#71c 116px,#682 123px,#6fc 127px,#74f 130px,#6f2 133px,#655 136px,#64c 138px,#7a7 144px,#786 146px,#5ec 151px,#5ee 153px,#6a1 155px,#7fe 158px,#84a 160px,#823 161px,#741 163px,#586 166px,#53c 167px,#539 168px,#584 169px,#6c7 171px,#844 173px,#8d6 174px,#92f 175px,#943 176px,#90d 177px,#890 178px,#6f0 180px,#527 182px,#492 183px,#460 184px,#49d 185px,#542 186px,#950 190px,#a08 191px,#a76 192px,#a92 193px,#a58 194px,#9c9 195px,#8e9 196px,#541 199px,#438 200px,#39c 201px,#38d 202px,#414 203px,#517 204px,#92d 207px,#a55 208px,#b38 209px,#bcf 210px,#c16 211px,#c0b 212px,#bad 213px,#af9 214px,#9f2 215px,#89f 216px,#413 219px,#312 220px,#2b2 221px,#30b 222px,#40b 223px,#57f 224px,#8ce 226px,#a4a 227px,#b85 228px,#c79 229px,#d27 230px,#d95 231px,#dc6 232px,#dbb 233px,#d75 234px,#ced 235px,#c1e 236px,#b02 237px,#998 238px,#454 241px,#2e7 242px,#219 243px,#217 244px,#2e2 245px,#450 246px,#9b4 249px,#b34 250px,#c6c 251px,#d61 252px,#ea5 254px,#f54 256px,#fdd 260px,#fff 274px,#fe9 335px,#f84 339px,#f00 341px,#e07 343px,#d47 344px,#c4a 345px,#b09 346px,#981 347px,#41d 350px,#2c0 351px,#20c 352px,#228 353px,#30c 354px,#488 355px,#821 357px,#9c8 358px,#b29 359px,#c3b 360px,#d01 361px,#d81 362px,#dc0 363px,#dc3 364px,#d8b 365px,#d16 366px,#c5f 367px,#b62 368px,#a1f 369px,#6f4 371px,#54e 372px,#3e4 373px,#2f7 374px,#2b4 375px,#32a 376px,#43b 377px,#8cb 380px,#a16 381px,#b13 382px,#bbd 383px,#c11 384px,#c12 385px,#bc1 386px,#b20 387px,#a34 388px,#7a8 390px,#4f3 392px,#3fc 393px,#387 394px,#3a7 395px,#454 396px,#566 397px,#7ee 399px,#908 400px,#9df 401px,#a64 402px,#a93 403px,#a6d 404px,#9f5 405px,#936 406px,#614 409px,#52a 410px,#490 411px,#460 412px,#49f 413px,#53e 414px,#7ef 417px,#8a3 418px,#918 419px,#944 420px,#927 421px,#8c7 422px,#775 424px,#5fc 426px,#577 427px,#536 428px,#541 429px,#593 430px,#7d4 434px,#82a 435px,#84c 436px,#7f3 438px,#62b 442px,#5d5 444px,#636 446px,#78c 450px,#7a4 452px,#649 458px,#659 460px,#747 465px,#721 468px,#68a 472px,#6a5 475px,#718 479px,#6e3 483px,#6a8 487px,#6fc 494px,#6c2 501px,#6e5 508px,#6d6 515px,#6d9 595px)"></i>
<i style="top:22px;background:linear-gradient(90deg,#6d8 0,#6d3 82px,#6e1 93px,#6ca 99px,#6f4 105px,#6ae 111px,#719 117px,#687 124px,#747 130px,#70e 133px,#64d 137px,#65e 139px,#792 144px,#797 146px,#6bb 149px,#60e 151px,#5e1 153px,#66a 155px,#7c9 158px,#841 160px,#834 161px,#782 163px,#5c3 166px,#55e 167px,#539 168px,#55f 169px,#5cc 170px,#890 174px,#903 175px,#937 176px,#924 177px,#8c8 178px,#829 179px,#584 182px,#4d0 183px,#470 184px,#47c 185px,#4f5 186px,#5c7 187px,#8e7 190px,#9b8 191px,#a46 192px,#a85 193px,#a70 194px,#a04 195px,#945 196px,#83e 197px,#49b 200px,#3d0 201px,#387 202px,#3d3 203px,#4a8 204px,#744 206px,#9e3 208px,#ae2 209px,#b96 210px,#bfc 211px,#c10 212px,#bd1 213px,#b3d 214px,#a54 215px,#91b 216px,#48c 219px,#35f 220px,#2c3 221px,#2db 222px,#3a3 223px,#4f4 224px,#9ca 227px,#b1c 228px,#c29 229px,#cef 230px,#d72 231px,#db7 232px,#dc0 233px,#d8d 234px,#d1b 235px,#c63 236px,#b5f 237px,#a0d 238px,#6a6 240px,#4d8 241px,#349 242px,#244 243px,#202 244px,#292 245px,#3d5 246px,#933 249px,#ac7 250px,#c15 251px,#d1e 252px,#de8 253px,#eef 255px,#fa5 258px,#fff 264px,#fe6 335px,#f75 339px,#ee3 341px,#dd2 343px,#d01 344px,#bf1 345px,#a9a 346px,#8fe 347px,#552 349px,#3a7 350px,#276 351px,#1ff 352px,#25a 353px,#373 354px,#50e 355px,#8a7 357px,#a3a 358px,#b83 359px,#c7d 360px,#d2c 361px,#d96 362px,#dc2 363px,#db2 364px,#d65 365px,#cda 366px,#c0c 367px,#af7 368px,#99d 369px,#4c6 372px,#383 373px,#2ce 374px,#2cc 375px,#37d 376px,#4b7 377px,#945 380px,#a74 381px,#b53 382px,#bdd 383px,#c12 384px,#bf4 385px,#b85 386px,#ac7 387px,#9c0 388px,#5b6 391px,#488 392px,#3c2 393px,#388 394px,#3e2 395px,#4bb 396px,#861 399px,#960 400px,#a15 401px,#a77 402px,#a82 403px,#a39 404px,#9a2 405px,#7c5 407px,#5aa 409px,#4e1 410px,#474 411px,#476 412px,#4e2 413px,#686 415px,#83f 417px,#8d7 418px,#92a 419px,#934 420px,#8f8 421px,#7d6 423px,#5bb 426px,#556 427px,#53a 428px,#567 429px,#665 431px,#791 433px,#838 435px,#83f 436px,#7bc 438px,#65d 441px,#5df 443px,#616 445px,#76e 449px,#7a5 451px,#75a 453px,#65a 457px,#650 459px,#739 464px,#72e 467px,#686 472px,#719 479px,#6a8 486px,#6fd 493px,#6c0 500px,#6e7 507px,#6d4 514px,#6d9 595px)"></i>
<i style="top:24px;background:linear-gradient(90deg,#6d8 0,#6d1 83px,#6dd 94px,#6cf 100px,#6f9 105px,#6ab 111px,#714 118px,#688 124px,#6c9 127px,#747 131px,#6f6 134px,#64c 138px,#675 140px,#799 145px,#77e 147px,#5f9 152px,#5f9 154px,#6a1 156px,#7ef 159px,#838 161px,#811 162px,#736 164px,#58f 167px,#54a 168px,#54b 169px,#596 170px,#6d2 172px,#841 174px,#8cb 175px,#91c 176px,#92a 177px,#8f0 178px,#870 179px,#6d2 181px,#51c 183px,#495 184px,#471 185px,#4ba 186px,#566 187px,#95e 191px,#a08 192px,#a69 193px,#a77 194px,#a30 195px,#994 196px,#8aa 197px,#50b 200px,#418 201px,#398 202px,#3a8 203px,#44a 204px,#55e 205px,#969 208px,#a81 209px,#b52 210px,#bd6 211px,#c09 212px,#be9 213px,#b75 214px,#aab 215px,#98f 216px,#69d 218px,#50f 219px,#3be 220px,#2ea 221px,#2c0 222px,#34d 223px,#474 224px,#944 227px,#aac 228px,#bd1 229px,#cae 230px,#d48 231px,#da1 232px,#dbe 233px,#d9f 234px,#d41 235px,#ca0 236px,#bb4 237px,#a7a 238px,#8f4 239px,#3b7 242px,#282 243px,#201 244px,#252 245px,#365 246px,#4ff 247px,#8ac 249px,#a53 250px,#bb7 251px,#cd4 252px,#db0 253px,#ed1 255px,#f99 258px,#ffe 264px,#fee 334px,#f95 338px,#ec4 341px,#d99 343px,#cb5 344px,#b90 345px,#a24 346px,#69d 348px,#4c9 349px,#33b 350px,#23e 351px,#206 352px,#29f 353px,#3e6 354px,#927 357px,#aa4 358px,#bd5 359px,#cb7 360px,#d50 361px,#da6 362px,#dbe 363px,#d9a 364px,#d39 365px,#c97 366px,#bb1 367px,#a84 368px,#775 370px,#44a 372px,#333 373px,#2bc 374px,#2fb 375px,#3e1 376px,#53d 377px,#85a 379px,#9b5 380px,#ac8 381px,#b87 382px,#bf1 383px,#c07 384px,#bca 385px,#b3d 386px,#a62 387px,#943 388px,#538 391px,#42f 392px,#39f 393px,#3a0 394px,#430 395px,#52e 396px,#8ca 399px,#9ab 400px,#a3d 401px,#a7a 402px,#a62 403px,#9f7 404px,#945 405px,#54d 409px,#4ac 410px,#46f 411px,#4a1 412px,#532 413px,#7cd 416px,#882 417px,#8fb 418px,#92c 419px,#916 420px,#8bd 421px,#77a 423px,#60c 425px,#589 426px,#547 427px,#54f 428px,#59b 429px,#7c5 433px,#818 434px,#839 435px,#7e5 437px,#632 441px,#5e3 443px,#641 445px,#784 449px,#796 451px,#650 457px,#664 459px,#742 464px,#717 467px,#68c 471px,#6ce 475px,#716 479px,#6ad 486px,#6f7 493px,#6bf 499px,#6e9 506px,#6da 514px,#6d8 595px)"></i>
<i style="top:26px;background:linear-gradient(90deg,#6d8 0,#6cf 84px,#6d9 95px,#6d4 101px,#6f5 106px,#6af 112px,#715 118px,#68b 125px,#73e 131px,#70f 134px,#658 138px,#662 140px,#784 145px,#78d 147px,#6c0 150px,#61b 152px,#5ee 154px,#66d 156px,#7bc 159px,#82f 161px,#822 162px,#775 164px,#5c9 167px,#56a 168px,#54a 169px,#571 170px,#5dc 171px,#888 175px,#8f3 176px,#921 177px,#908 178px,#8a8 179px,#737 181px,#575 183px,#4cd 184px,#47c 185px,#494 186px,#516 187px,#6f1 189px,#8f9 191px,#9be 192px,#a3e 193px,#a70 194px,#a4d 195px,#9d4 196px,#90a 197px,#6c2 199px,#472 201px,#3c1 202px,#396 203px,#3ff 204px,#4e8 205px,#8e7 208px,#a15 209px,#b02 210px,#ba4 211px,#bf6 212px,#bf5 213px,#ba1 214px,#af7 215px,#9f9 216px,#8ae 217px,#42c 220px,#326 221px,#2bd 222px,#30b 223px,#400 224px,#56d 225px,#8b7 227px,#a33 228px,#b70 229px,#c66 230px,#d16 231px,#d85 232px,#db6 233px,#daa 234px,#d61 235px,#cd6 236px,#c02 237px,#ae1 238px,#971 239px,#430 242px,#2d0 243px,#214 244px,#225 245px,#301 246px,#479 247px,#9da 250px,#b53 251px,#c85 252px,#d74 253px,#eaf 255px,#f59 257px,#fdf 261px,#fff 277px,#fea 334px,#f87 338px,#f08 340px,#e16 342px,#d5a 343px,#c64 344px,#b29 345px,#9a8 346px,#446 349px,#2dd 350px,#217 351px,#220 352px,#2f4 353px,#463 354px,#9a1 357px,#b08 358px,#c20 359px,#cea 360px,#d6d 361px,#daf 362px,#db3 363px,#d7b 364px,#d05 365px,#c4c 366px,#b4d 367px,#a08 368px,#53c 371px,#3db 372px,#2f8 373px,#2c0 374px,#33e 375px,#454 376px,#8da 379px,#a1c 380px,#b10 381px,#bb0 382px,#bfa 383px,#bf0 384px,#b95 385px,#ae9 386px,#9f4 387px,#762 389px,#4c7 391px,#3eb 392px,#393 393px,#3cf 394px,#48f 395px,#820 398px,#927 399px,#9e7 400px,#a56 401px,#a6e 402px,#a33 403px,#9a9 404px,#7e1 406px,#5ce 408px,#501 409px,#48b 410px,#480 411px,#4de 412px,#66c 414px,#81e 416px,#8b8 417px,#90f 418px,#91f 419px,#8e9 420px,#7d7 422px,#5cc 425px,#568 426px,#54a 427px,#573 428px,#664 430px,#784 432px,#826 434px,#803 436px,#612 441px,#5f2 443px,#6cb 446px,#767 448px,#798 450px,#70b 453px,#65f 456px,#65b 458px,#736 463px,#723 466px,#68b 471px,#715 478px,#6ac 485px,#6f9 492px,#6c4 499px,#6e3 506px,#6df 514px,#6d8 595px)"></i>
<i style="top:28px;background:linear-gradient(90deg,#6d8 0,#6ce 85px,#6e0 95px,#6cb 101px,#6f0 107px,#6b3 113px,#711 119px,#68e 125px,#6c3 128px,#73f 132px,#6fa 135px,#655 139px,#677 141px,#78c 146px,#777 148px,#607 153px,#603 155px,#6a2 157px,#7e0 160px,#826 162px,#7a9 164px,#598 168px,#559 169px,#55d 170px,#5a7 171px,#6db 173px,#83c 175px,#8be 176px,#909 177px,#911 178px,#8d2 179px,#850 180px,#6b7 182px,#515 184px,#49b 185px,#484 186px,#4d8 187px,#589 188px,#88c 191px,#967 192px,#a06 193px,#a59 194px,#a5a 195px,#a06 196px,#95e 197px,#86b 198px,#4da 201px,#3ff 202px,#39b 203px,#3ca 204px,#482 205px,#5a4 206px,#9a0 209px,#aa7 210px,#b66 211px,#bd7 212px,#bf6 213px,#bc1 214px,#b37 215px,#a58 216px,#928 217px,#4a6 220px,#376 221px,#2d2 222px,#2de 223px,#39c 224px,#4e4 225px,#9b2 228px,#b06 229px,#c15 230px,#cdd 231px,#d61 232px,#da6 233px,#daf 234px,#d7a 235px,#d05 236px,#c49 237px,#b40 238px,#9e8 239px,#67c 241px,#4b2 242px,#32e 243px,#23a 244px,#20a 245px,#2ac 246px,#3fc 247px,#95a 250px,#ae8 251px,#c2f 252px,#d32 253px,#df7 254px,#ef7 256px,#fa8 259px,#fff 265px,#fe7 334px,#f79 338px,#eec 340px,#de2 342px,#d16 343px,#c0c 344px,#abb 345px,#926 346px,#3cc 349px,#28e 350px,#205 351px,#24d 352px,#357 353px,#4e7 354px,#87e 356px,#a15 357px,#b64 358px,#c63 359px,#d17 360px,#d84 361px,#db1 362px,#da1 363px,#d55 364px,#cc8 365px,#bf8 366px,#ae0 367px,#985 368px,#4b7 371px,#37c 372px,#2d3 373px,#2dc 374px,#394 375px,#4d2 376px,#951 379px,#a77 380px,#b4c 381px,#bcc 382px,#bf7 383px,#bcd 384px,#b53 385px,#a8b 386px,#97c 387px,#57d 390px,#466 391px,#3bc 392px,#3a0 393px,#413 394px,#4fb 395px,#88c 398px,#976 399px,#a14 400px,#a5f 401px,#a53 402px,#9f6 403px,#950 404px,#768 406px,#570 408px,#4c8 409px,#481 410px,#4a5 411px,#529 412px,#7ae 415px,#863 416px,#8dd 417px,#914 418px,#903 419px,#8b1 420px,#77d 422px,#61b 424px,#59b 425px,#559 426px,#55d 427px,#5a4 428px,#7b6 432px,#827 434px,#7d6 436px,#638 440px,#5f0 442px,#64c 444px,#77c 448px,#789 450px,#672 455px,#657 457px,#73c 463px,#70d 466px,#690 470px,#6d5 474px,#710 478px,#6ad 484px,#6f9 491px,#6c3 498px,#6e5 505px,#6dd 513px,#6d8 595px)"></i>
<i style="top:30px;background:linear-gradient(90deg,#6d9 0,#6cd 86px,#6dd 96px,#6d0 102px,#6eb 108px,#6b0 113px,#70c 120px,#690 126px,#73c 133px,#6e4 136px,#663 139px,#667 141px,#777 146px,#784 148px,#6c5 151px,#5fc 154px,#622 156px,#7fa 161px,#810 163px,#76a 165px,#5d1 168px,#577 169px,#55a 170px,#582 171px,#686 173px,#87e 176px,#8e3 177px,#90a 178px,#8ed 179px,#88a 180px,#71b 182px,#569 184px,#4ce 185px,#48a 186px,#4ad 187px,#536 188px,#710 190px,#907 192px,#9c0 193px,#a34 194px,#a58 195px,#a28 196px,#9a3 197px,#8cf 198px,#54e 201px,#44f 202px,#3b9 203px,#3ac 204px,#42f 205px,#52a 206px,#922 209px,#a41 210px,#b1d 211px,#bac 212px,#bea 213px,#bd5 214px,#b6c 215px,#aac 216px,#999 217px,#6b6 219px,#52a 220px,#3d7 221px,#2fc 222px,#2c8 223px,#349 224px,#466 225px,#92a 228px,#a94 229px,#bbb 230px,#c9b 231px,#d36 232px,#d90 233px,#dad 234px,#d8d 235px,#d2c 236px,#c87 237px,#b97 238px,#a57 239px,#8cd 240px,#53a 242px,#399 243px,#272 244px,#203 245px,#268 246px,#388 247px,#52a 248px,#8d5 250px,#a76 251px,#bd3 252px,#cea 253px,#dc1 254px,#ed9 256px,#f9d 259px,#ffe 265px,#fef 333px,#f98 337px,#ecd 340px,#daa 342px,#ccc 343px,#bad 344px,#a47 345px,#6c9 347px,#4f3 348px,#35d 349px,#251 350px,#206 351px,#28d 352px,#3c6 353px,#900 356px,#a82 357px,#bb8 358px,#c9f 359px,#d3c 360px,#d94 361px,#dad 362px,#d89 363px,#d27 364px,#c84 365px,#b9b 366px,#a6b 367px,#75c 369px,#43d 371px,#331 372px,#2c5 373px,#30e 374px,#3fb 375px,#6e6 377px,#86c 378px,#9bf 379px,#ac8 380px,#b7d 381px,#bdc 382px,#be7 383px,#b9f 384px,#b06 385px,#a22 386px,#7a8 388px,#506 390px,#418 391px,#3a5 392px,#3c4 393px,#46a 394px,#6a9 396px,#8ed 398px,#9b7 399px,#a32 400px,#a58 401px,#a2a 402px,#9ad 403px,#8ec 404px,#5f0 407px,#521 408px,#4a4 409px,#48c 410px,#4dd 411px,#580 412px,#7ff 415px,#899 416px,#8f4 417px,#909 418px,#8da 419px,#7d5 421px,#5dc 424px,#57a 425px,#55a 426px,#57f 427px,#663 429px,#778 431px,#814 433px,#7f3 435px,#61b 440px,#600 442px,#6cf 445px,#786 448px,#773 450px,#664 455px,#688 458px,#732 462px,#719 465px,#697 469px,#6c9 473px,#710 477px,#6b1 484px,#6f4 491px,#6c9 498px,#6de 505px,#6d8 595px)"></i>
<i style="top:32px;background:linear-gradient(90deg,#6d9 0,#6cc 87px,#6da 97px,#6d4 103px,#6f1 108px,#6b4 114px,#70e 120px,#694 127px,#737 133px,#6fe 136px,#65f 140px,#6a8 143px,#77f 147px,#76f 149px,#614 154px,#60d 156px,#6a2 158px,#7d1 161px,#814 163px,#79c 165px,#5a3 169px,#568 170px,#56e 171px,#5b8 172px,#6e2 174px,#835 176px,#8b0 177px,#8f5 178px,#8f8 179px,#8b5 180px,#831 181px,#510 185px,#4a4 186px,#499 187px,#4f5 188px,#5ab 189px,#89e 192px,#96e 193px,#a00 194px,#a46 195px,#a3b 196px,#9da 197px,#927 198px,#82d 199px,#4b0 202px,#3ec 203px,#3a6 204px,#3ef 205px,#4bd 206px,#744 208px,#9d1 210px,#ac8 211px,#b75 212px,#bd2 213px,#bdd 214px,#b94 215px,#af4 216px,#a00 217px,#8be 218px,#447 221px,#33c 222px,#2ca 223px,#30b 224px,#3f5 225px,#558 226px,#89c 228px,#a19 229px,#b58 230px,#c51 231px,#d03 232px,#d73 233px,#da5 234px,#d98 235px,#d4d 236px,#cbf 237px,#be6 238px,#ac0 239px,#94b 240px,#40f 243px,#2bc 244px,#211 245px,#235 246px,#321 247px,#4a2 248px,#9fe 251px,#b70 252px,#c9c 253px,#d85 254px,#eb9 256px,#f90 259px,#ff6 264px,#feb 333px,#f8b 337px,#f0f 339px,#e23 341px,#d6c 342px,#c7c 343px,#b47 344px,#9cc 345px,#46e 348px,#2fb 349px,#225 350px,#21b 351px,#2dd 352px,#440 353px,#97c 356px,#ae7 357px,#c05 358px,#cd3 359px,#d5a 360px,#d9d 361px,#da2 362px,#d69 363px,#cf1 364px,#c37 365px,#b35 366px,#9ee 367px,#529 370px,#3d1 371px,#2fa 372px,#2ce 373px,#355 374px,#46f 375px,#8e9 378px,#a22 379px,#b0c 380px,#ba1 381px,#be1 382px,#bcb 383px,#b64 384px,#aae 385px,#9af 386px,#5c2 389px,#49e 390px,#3df 391px,#3a7 392px,#3fe 393px,#4cf 394px,#84e 397px,#941 398px,#9ea 399px,#a41 400px,#a42 401px,#9f2 402px,#958 403px,#784 405px,#591 407px,#4e5 408px,#495 409px,#4ac 410px,#523 411px,#844 415px,#8c1 416px,#8fb 417px,#8f0 418px,#8a4 419px,#77e 421px,#629 423px,#5ac 424px,#56a 425px,#56c 426px,#620 428px,#7a9 431px,#815 433px,#7c8 435px,#63f 439px,#5fd 441px,#657 443px,#774 447px,#77c 449px,#674 454px,#67a 457px,#737 462px,#6de 466px,#693 469px,#70e 476px,#6b1 483px,#6f5 490px,#6c7 497px,#6e1 504px,#6d9 595px)"></i>
<i style="top:34px;background:linear-gradient(90deg,#6d9 0,#6e3 93px,#6cd 103px,#6ed 109px,#6b8 115px,#70a 121px,#695 127px,#6f1 131px,#735 134px,#6ea 137px,#660 141px,#6c3 144px,#76a 147px,#77a 149px,#6ca 152px,#60a 155px,#62a 157px,#7e9 162px,#7ff 164px,#760 166px,#5d9 169px,#585 170px,#56b 171px,#593 172px,#690 174px,#873 177px,#8d1 178px,#8f3 179px,#8d1 180px,#86c 181px,#701 183px,#560 185px,#4d1 186px,#499 187px,#4c7 188px,#556 189px,#72d 191px,#911 193px,#9bf 194px,#a26 195px,#a3e 196px,#a01 197px,#971 198px,#894 199px,#51e 202px,#434 203px,#3b8 204px,#3c7 205px,#461 206px,#56b 207px,#958 210px,#a68 211px,#b32 212px,#bae 213px,#bd9 214px,#bb0 215px,#b31 216px,#a5c 217px,#936 218px,#4c3 221px,#38f 222px,#2e2 223px,#2e3 224px,#394 225px,#4d2 226px,#997 229px,#aed 230px,#bfe 231px,#cc9 232px,#d4f 233px,#d95 234px,#d9d 235px,#d67 236px,#cee 237px,#c2e 238px,#b20 239px,#9c3 240px,#654 242px,#48e 243px,#315 244px,#231 245px,#215 246px,#2c7 247px,#422 248px,#97f 251px,#b07 252px,#c48 253px,#d44 254px,#e95 256px,#f4b 258px,#fdb 262px,#fff 274px,#fe8 333px,#f7d 337px,#ef3 339px,#df1 341px,#d29 342px,#c25 343px,#adb 344px,#94c 345px,#3f1 348px,#2a8 349px,#20d 350px,#243 351px,#33c 352px,#4c3 353px,#856 355px,#9f1 356px,#b45 357px,#c49 358px,#d01 359px,#d71 360px,#da0 361px,#d90 362px,#d42 363px,#cb4 364px,#be1 365px,#ac7 366px,#969 367px,#4a6 370px,#376 371px,#2d9 372px,#2ee 373px,#3ae 374px,#4ef 375px,#7fc 377px,#95d 378px,#a7a 379px,#b45 380px,#bb9 381px,#bd8 382px,#ba3 383px,#b1d 384px,#a4a 385px,#933 386px,#547 389px,#448 390px,#3be 391px,#3c0 392px,#44b 393px,#53f 394px,#8b3 397px,#987 398px,#a0d 399px,#a3f 400px,#a1d 401px,#9ad 402px,#8f8 403px,#611 406px,#540 407px,#4bc 408px,#49b 409px,#4de 410px,#576 411px,#7e2 414px,#87c 415px,#8d9 416px,#8f2 417px,#8c9 418px,#7d2 420px,#5eb 423px,#58b 424px,#56b 425px,#58c 426px,#665 428px,#7ce 431px,#809 433px,#796 435px,#623 439px,#60d 441px,#75c 446px,#77f 448px,#6bc 452px,#660 455px,#72f 461px,#70f 464px,#699 468px,#6d1 472px,#70b 476px,#6b6 483px,#6ef 490px,#6ce 497px,#6da 504px,#6d9 595px)"></i>
<i style="top:36px;background:linear-gradient(90deg,#6d9 0,#6e5 94px,#6d0 104px,#6e8 110px,#6be 116px,#705 122px,#698 128px,#731 135px,#668 141px,#6a5 144px,#772 148px,#768 150px,#621 155px,#617 157px,#6a1 159px,#7c2 162px,#803 164px,#791 166px,#5af 170px,#578 171px,#57f 172px,#5c8 173px,#6e8 175px,#82d 177px,#8a1 178px,#8e0 179px,#8de 180px,#899 181px,#814 182px,#50f 186px,#4af 187px,#4ae 188px,#512 189px,#5cb 190px,#8ac 193px,#971 194px,#9f7 195px,#a31 196px,#a19 197px,#9ac 198px,#8f0 199px,#6c5 201px,#48c 203px,#3e1 204px,#3b6 205px,#419 206px,#4f9 207px,#8d7 210px,#9fd 211px,#ae3 212px,#b7e 213px,#bc8 214px,#bbf 215px,#b61 216px,#aac 217px,#9a4 218px,#6d1 220px,#548 221px,#3f3 222px,#311 223px,#2d1 224px,#345 225px,#456 226px,#774 228px,#a79 230px,#ba3 231px,#c85 232px,#d23 233px,#d7e 234px,#d9b 235px,#d7a 236px,#d17 237px,#c6e 238px,#b79 239px,#a35 240px,#8a6 241px,#515 243px,#37d 244px,#265 245px,#208 246px,#27e 247px,#3ab 248px,#553 249px,#8fb 251px,#a96 252px,#bed 253px,#cfe 254px,#dd0 255px,#ee1 257px,#f9f 260px,#ffe 266px,#fef 332px,#f9b 336px,#ed5 339px,#db9 341px,#ce1 342px,#bc8 343px,#a68 344px,#6f3 346px,#51c 347px,#37f 348px,#265 349px,#208 350px,#27d 351px,#3a9 352px,#71b 354px,#8da 355px,#a60 356px,#b9b 357px,#c87 358px,#d27 359px,#d81 360px,#d9b 361px,#d77 362px,#d13 363px,#c6e 364px,#b82 365px,#a50 366px,#741 368px,#59e 369px,#42e 370px,#32e 371px,#2cf 372px,#324 373px,#418 374px,#700 376px,#87e 377px,#9c8 378px,#ac7 379px,#b71 380px,#bc5 381px,#bc4 382px,#b6f 383px,#acb 384px,#9dd 385px,#75d 387px,#4d8 389px,#406 390px,#3b4 391px,#3ef 392px,#4a8 393px,#812 396px,#90b 397px,#9be 398px,#a20 399px,#a2e 400px,#9eb 401px,#95c 402px,#79c 404px,#5b1 406px,#501 407px,#4a9 408px,#4b6 409px,#520 410px,#827 414px,#8a5 415px,#8e2 416px,#8dc 417px,#896 418px,#77e 420px,#635 422px,#5bc 423px,#57b 424px,#57b 425px,#625 427px,#79c 430px,#804 432px,#7b9 434px,#644 438px,#60a 440px,#662 442px,#76c 446px,#76f 448px,#677 453px,#685 456px,#724 460px,#719 463px,#698 468px,#70a 475px,#6b5 482px,#6f1 489px,#6cb 496px,#6dd 503px,#6d9 595px)"></i>
<i style="top:38px;background:linear-gradient(90deg,#6d9 0,#6df 94px,#6d4 105px,#6e3 111px,#6b8 116px,#708 122px,#69d 129px,#72e 135px,#6ef 138px,#668 142px,#6be 145px,#775 149px,#752 151px,#617 156px,#631 158px,#7d9 163px,#7ef 165px,#757 167px,#5e2 170px,#593 171px,#57b 172px,#5a4 173px,#698 175px,#867 178px,#8bf 179px,#8dc 180px,#8b6 181px,#850 182px,#6e9 184px,#55a 186px,#4d7 187px,#4ab 188px,#4e1 189px,#575 190px,#918 194px,#9ba 195px,#a16 196px,#a21 197px,#9d9 198px,#93e 199px,#85a 200px,#4f3 203px,#41f 204px,#3bd 205px,#3e7 206px,#496 207px,#5ac 208px,#989 211px,#a89 212px,#b41 213px,#bab 214px,#bc2 215px,#b85 216px,#af1 217px,#a07 218px,#8d0 219px,#466 222px,#355 223px,#2d7 224px,#30c 225px,#3e9 226px,#542 227px,#9fc 230px,#b3e 231px,#c3a 232px,#cef 233px,#d60 234px,#d92 235px,#d86 236px,#d39 237px,#ca7 238px,#bca 239px,#a9f 240px,#926 241px,#3f0 244px,#2aa 245px,#210 246px,#246 247px,#340 248px,#4ca 249px,#872 251px,#a20 252px,#b8c 253px,#cb1 254px,#d95 255px,#ec2 257px,#f93 260px,#ff6 265px,#fec 332px,#f8e 336px,#eb4 339px,#d7d 341px,#c92 342px,#b64 343px,#9ef 344px,#495 347px,#319 348px,#234 349px,#218 350px,#2c9 351px,#420 352px,#957 355px,#ac7 356px,#be9 357px,#cbc 358px,#d45 359px,#d8a 360px,#d90 361px,#d56 362px,#cdc 363px,#c1f 364px,#b1b 365px,#9d1 366px,#514 369px,#3c6 370px,#2fc 371px,#2dd 372px,#36f 373px,#48e 374px,#8f9 377px,#a28 378px,#b07 379px,#b91 380px,#bc4 381px,#ba3 382px,#b2f 383px,#a6d 384px,#966 385px,#587 388px,#47b 389px,#3da 390px,#3c2 391px,#433 392px,#512 393px,#879 396px,#955 397px,#9e6 398px,#a24 399px,#a0f 400px,#9aa 401px,#901 402px,#55f 406px,#4d5 407px,#4ab 408px,#4e3 409px,#56e 410px,#7c6 413px,#85f 414px,#8be 415px,#8dc 416px,#8b7 417px,#7ce 419px,#5f9 422px,#59c 423px,#57b 424px,#59a 425px,#667 427px,#7c0 430px,#7f8 432px,#789 434px,#62b 438px,#61a 440px,#757 445px,#773 447px,#66e 453px,#69d 456px,#72b 460px,#6e5 464px,#69b 468px,#708 474px,#6bb 482px,#6f2 488px,#6ca 495px,#6d7 503px,#6d9 595px)"></i>
<i style="top:40px;background:linear-gradient(90deg,#6d8 0,#6e1 95px,#6d8 106px,#6de 112px,#6bd 117px,#704 123px,#69c 129px,#72b 136px,#66c 143px,#6d7 146px,#766 149px,#762 151px,#62e 156px,#621 158px,#6a0 160px,#7b3 163px,#7f2 165px,#786 167px,#5bb 171px,#587 172px,#590 173px,#5d6 174px,#6ec 176px,#823 178px,#892 179px,#8cb 180px,#8c5 181px,#87d 182px,#744 184px,#5af 186px,#510 187px,#4bc 188px,#4c5 189px,#52f 190px,#5e9 191px,#8b7 194px,#971 195px,#9eb 196px,#a19 197px,#9f5 198px,#97e 199px,#8b9 200px,#564 203px,#46f 204px,#3dc 205px,#3cc 206px,#446 207px,#536 208px,#90c 211px,#a23 212px,#af9 213px,#b81 214px,#bb9 215px,#b9c 216px,#b29 217px,#a60 218px,#944 219px,#4e3 222px,#3ab 223px,#2f5 224px,#2e8 225px,#38c 226px,#4be 227px,#978 230px,#ad1 231px,#be5 232px,#cb2 233px,#d3b 234px,#d82 235px,#d8a 236px,#d53 237px,#cd8 238px,#c14 239px,#b01 240px,#9a0 241px,#46d 244px,#2ff 245px,#22b 246px,#220 247px,#2e2 248px,#447 249px,#9a3 252px,#b24 253px,#c5f 254px,#d56 255px,#e9e 257px,#f50 259px,#fdc 263px,#fff 276px,#fe9 332px,#f80 336px,#efb 338px,#dfe 340px,#d3b 341px,#c3c 342px,#af9 343px,#970 344px,#415 347px,#2c1 348px,#216 349px,#23b 350px,#325 351px,#4a1 352px,#830 354px,#9cf 355px,#b27 356px,#c30 357px,#cea 358px,#d5d 359px,#d8d 360px,#d7d 361px,#d2e 362px,#c9d 363px,#bc7 364px,#aaa 365px,#94b 366px,#493 369px,#36f 370px,#2e0 371px,#302 372px,#3cb 373px,#50f 374px,#813 376px,#96a 377px,#a7c 378px,#b3b 379px,#ba4 380px,#bb6 381px,#b75 382px,#ae3 383px,#a05 384px,#79d 386px,#514 388px,#430 389px,#3c6 390px,#3e7 391px,#488 392px,#6b0 394px,#8d5 396px,#991 397px,#9fe 398px,#a18 399px,#9e0 400px,#95e 401px,#7b1 403px,#5cf 405px,#51d 406px,#4be 407px,#4c1 408px,#520 409px,#690 411px,#80c 413px,#889 414px,#8c9 415px,#8c7 416px,#887 417px,#77d 419px,#640 421px,#5cb 422px,#58c 423px,#58b 424px,#62b 426px,#791 429px,#7f3 431px,#7aa 433px,#64a 437px,#616 439px,#6b6 442px,#765 445px,#763 447px,#67a 452px,#68f 455px,#722 459px,#710 462px,#69c 467px,#706 474px,#6b9 481px,#6ec 488px,#6d0 495px,#6d2 503px,#6d9 595px)"></i>
<i style="top:42px;background:linear-gradient(90deg,#6d8 0,#6e2 96px,#6db 107px,#6d9 113px,#6c1 118px,#6ff 124px,#6a0 130px,#727 136px,#6f3 139px,#671 143px,#6b9 146px,#769 150px,#74d 152px,#624 157px,#638 159px,#7c9 164px,#7df 166px,#74f 168px,#5ed 171px,#5a2 172px,#58c 173px,#5b4 174px,#69f 176px,#85a 179px,#8ac 180px,#8c4 181px,#89c 182px,#835 183px,#6d5 185px,#557 187px,#4e0 188px,#4bd 189px,#4fc 190px,#592 191px,#91c 195px,#9b3 196px,#a02 197px,#a02 198px,#9af 199px,#90c 200px,#822 201px,#4ce 204px,#410 205px,#3c9 206px,#40b 207px,#4cd 208px,#73a 210px,#9b4 212px,#aa4 213px,#b4b 214px,#ba2 215px,#ba6 216px,#b54 217px,#aac 218px,#9af 219px,#868 220px,#569 222px,#412 223px,#328 224px,#2dc 225px,#342 226px,#445 227px,#755 229px,#a5a 231px,#b87 232px,#c6d 233px,#d0e 234px,#d6b 235px,#d88 236px,#d66 237px,#d01 238px,#c55 239px,#b5c 240px,#a13 241px,#881 242px,#4f2 244px,#363 245px,#25a 246px,#20f 247px,#294 248px,#3cd 249px,#920 252px,#ab5 253px,#c06 254px,#d11 255px,#dde 256px,#ee9 258px,#fa2 261px,#fff 267px,#ff0 331px,#f9e 335px,#edd 338px,#dc8 340px,#cf4 341px,#be1 342px,#a88 343px,#8eb 344px,#544 346px,#3a0 347px,#27a 348px,#20d 349px,#270 350px,#38e 351px,#528 352px,#8b5 354px,#a3f 355px,#b7e 356px,#c6e 357px,#d11 358px,#d6d 359px,#d88 360px,#d63 361px,#cfe 362px,#c55 363px,#b67 364px,#a32 365px,#722 367px,#585 368px,#41f 369px,#32d 370px,#2dc 371px,#33d 372px,#437 373px,#893 376px,#9d2 377px,#ac5 378px,#b63 379px,#baa 380px,#b9c 381px,#b3b 382px,#a8b 383px,#993 384px,#5c6 387px,#4b0 388px,#3fc 389px,#3ca 390px,#421 391px,#4ec 392px,#841 395px,#923 396px,#9be 397px,#a07 398px,#9fd 399px,#9a4 400px,#906 401px,#57c 405px,#4ef 406px,#4bc 407px,#4ea 408px,#56a 409px,#7ac 412px,#844 413px,#8a4 414px,#8c4 415px,#8a5 416px,#7c8 418px,#606 421px,#5ac 422px,#58b 423px,#5a8 424px,#66b 426px,#7b3 429px,#7e7 431px,#77c 433px,#633 437px,#627 439px,#752 444px,#768 446px,#673 452px,#6a7 455px,#726 459px,#6de 463px,#6a1 467px,#705 473px,#6b9 480px,#6ee 487px,#6ce 494px,#6d4 502px,#6d8 595px)"></i>
<i style="top:44px;background:linear-gradient(90deg,#6d8 0,#6d3 102px,#6e2 113px,#6c7 119px,#702 124px,#6a5 131px,#726 137px,#6ba 141px,#673 144px,#6d0 147px,#75a 150px,#75b 152px,#63b 157px,#62a 159px,#69f 161px,#7a4 164px,#7e1 166px,#77c 168px,#5c8 172px,#597 173px,#5a0 174px,#5e4 175px,#819 179px,#881 180px,#8b5 181px,#8ac 182px,#863 183px,#72e 185px,#5a8 187px,#514 188px,#4ca 189px,#4dc 190px,#54b 191px,#6ed 193px,#8bf 195px,#96e 196px,#9dd 197px,#9ff 198px,#9d1 199px,#950 200px,#883 201px,#53a 204px,#458 205px,#3dd 206px,#3e6 207px,#476 208px,#572 209px,#93c 212px,#a44 213px,#b09 214px,#b7f 215px,#ba4 216px,#b73 217px,#aec 218px,#a0e 219px,#8e2 220px,#487 223px,#370 224px,#2e8 225px,#30e 226px,#3dc 227px,#52a 228px,#9dc 231px,#b21 232px,#c20 233px,#cd8 234px,#d4c 235px,#d7f 236px,#d72 237px,#d23 238px,#c8f 239px,#baf 240px,#a7f 241px,#902 242px,#3d4 245px,#29a 246px,#211 247px,#257 248px,#35f 249px,#4f0 250px,#897 252px,#a3f 253px,#ba6 254px,#cc6 255px,#da5 256px,#eca 258px,#f96 261px,#ffd 267px,#fed 331px,#f91 335px,#ebd 338px,#d8d 340px,#ca6 341px,#b7e 342px,#a10 343px,#4bb 346px,#336 347px,#244 348px,#217 349px,#2b8 350px,#403 351px,#934 354px,#aa8 355px,#bce 356px,#ca5 357px,#d31 358px,#d77 359px,#d7c 360px,#d41 361px,#cc5 362px,#c05 363px,#afd 364px,#9b1 365px,#4fd 368px,#3bb 369px,#300 370px,#2ef 371px,#38b 372px,#4b0 373px,#90a 376px,#a2e 377px,#b01 378px,#b7e 379px,#ba4 380px,#b75 381px,#af5 382px,#a28 383px,#7d9 385px,#54f 387px,#45e 388px,#3de 389px,#3e5 390px,#46e 391px,#55a 392px,#8a0 395px,#963 396px,#9db 397px,#a00 398px,#9d3 399px,#95c 400px,#7c4 402px,#5ec 404px,#539 405px,#4d5 406px,#4ce 407px,#523 408px,#67f 410px,#7f1 412px,#86f 413px,#8b0 414px,#8b2 415px,#877 416px,#77a 418px,#64a 420px,#5d9 421px,#59c 422px,#59a 423px,#632 425px,#786 428px,#7e2 430px,#79b 432px,#64f 436px,#623 438px,#6bd 441px,#75e 444px,#731 447px,#67e 451px,#699 454px,#71f 458px,#6ea 462px,#6a1 466px,#701 473px,#6be 480px,#6e8 487px,#6d4 494px,#6d8 595px)"></i>
<i style="top:46px;background:linear-gradient(90deg,#6d9 0,#6d1 103px,#6de 114px,#6c0 119px,#6ff 125px,#6a3 131px,#721 138px,#679 144px,#6b5 147px,#75e 151px,#749 153px,#631 158px,#63f 160px,#7b9 165px,#7d0 167px,#748 169px,#5f7 172px,#5b0 173px,#59c 174px,#5c3 175px,#6a5 177px,#84b 180px,#898 181px,#8ad 182px,#882 183px,#81b 184px,#557 188px,#4ea 189px,#4d1 190px,#516 191px,#5ae 192px,#91e 196px,#9a9 197px,#9ed 198px,#9e2 199px,#985 200px,#8d9 201px,#6d0 203px,#4b0 205px,#408 206px,#3d9 207px,#432 208px,#504 209px,#9da 213px,#aba 214px,#b50 215px,#b94 216px,#b85 217px,#b1f 218px,#a62 219px,#953 220px,#681 222px,#506 223px,#3ca 224px,#30a 225px,#2f0 226px,#383 227px,#4a9 228px,#957 231px,#ab1 232px,#bc9 233px,#c9a 234px,#d25 235px,#d6e 236px,#d77 237px,#d3e 238px,#cc1 239px,#bf9 240px,#ae3 241px,#97e 242px,#44f 245px,#2ec 246px,#227 247px,#22d 248px,#2fd 249px,#46c 250px,#9c4 253px,#b3f 254px,#c74 255px,#d66 256px,#ea7 258px,#f55 260px,#fdd 264px,#fff 278px,#fe9 331px,#f84 335px,#f01 337px,#e0b 339px,#d4c 340px,#c53 341px,#b15 342px,#991 343px,#439 346px,#2db 347px,#221 348px,#235 349px,#310 350px,#481 351px,#9ad 354px,#b09 355px,#c16 356px,#cd4 357px,#d49 358px,#d79 359px,#d69 360px,#d18 361px,#c84 362px,#bab 363px,#a8b 364px,#797 366px,#47f 368px,#369 369px,#2e9 370px,#319 371px,#3eb 372px,#532 373px,#82b 375px,#978 376px,#a7e 377px,#b30 378px,#b8b 379px,#b91 380px,#b42 381px,#aa3 382px,#9bb 383px,#74e 385px,#4e5 387px,#421 388px,#3d7 389px,#416 390px,#4cb 391px,#80a 394px,#8f1 395px,#994 396px,#9e8 397px,#9e9 398px,#99c 399px,#909 400px,#598 404px,#508 405px,#4cf 406px,#4f3 407px,#569 408px,#794 411px,#82a 412px,#88b 413px,#8ad 414px,#892 415px,#7c1 417px,#612 420px,#5bb 421px,#59c 422px,#5b6 423px,#66f 425px,#7a7 428px,#7d7 430px,#76f 432px,#63b 436px,#634 438px,#74d 443px,#75c 445px,#679 451px,#6b0 454px,#722 458px,#6a3 465px,#701 472px,#6bd 479px,#6ea 486px,#6d2 493px,#6d8 595px)"></i>
<i style="top:48px;background:linear-gradient(90deg,#6d9 0,#6cf 104px,#6da 115px,#6c4 120px,#6fa 126px,#6a7 132px,#720 138px,#6c3 142px,#67a 145px,#6ca 148px,#75d 152px,#6fd 155px,#648 158px,#633 160px,#6f3 163px,#7c5 166px,#7b6 168px,#711 170px,#5d5 173px,#5a7 174px,#5b0 175px,#662 177px,#80d 180px,#86f 181px,#89f 182px,#893 183px,#849 184px,#71a 186px,#5a4 188px,#51a 189px,#4da 190px,#4f4 191px,#566 192px,#703 194px,#8c3 196px,#968 197px,#9cc 198px,#9e4 199px,#9aa 200px,#921 201px,#84e 202px,#515 205px,#446 206px,#3e4 207px,#405 208px,#4a7 209px,#5ad 210px,#967 213px,#a60 214px,#b13 215px,#b78 216px,#b8a 217px,#b45 218px,#aaa 219px,#9ba 220px,#87e 221px,#435 224px,#342 225px,#2e9 226px,#33f 227px,#434 228px,#599 229px,#8ca 231px,#a39 232px,#b69 233px,#c53 234px,#cf6 235px,#d56 236px,#d74 237px,#d51 238px,#ceb 239px,#c3c 240px,#b3f 241px,#9f2 242px,#698 244px,#4d2 245px,#34d 246px,#251 247px,#217 248px,#2ab 249px,#3ef 250px,#942 253px,#ad1 254px,#c1c 255px,#d22 256px,#deb 257px,#ef0 259px,#fa5 262px,#fff 268px,#fe5 331px,#f75 335px,#ee4 337px,#dd5 339px,#d06 340px,#bf8 341px,#aa5 342px,#90d 343px,#56a 345px,#3c1 346px,#28f 347px,#212 348px,#266 349px,#376 350px,#507 351px,#891 353px,#a1f 354px,#b62 355px,#c55 356px,#cfb 357px,#d59 358px,#d74 359px,#d4e 360px,#ce6 361px,#c3a 362px,#b48 363px,#a10 364px,#56a 367px,#40f 368px,#32c 369px,#2eb 370px,#358 371px,#45a 372px,#8a8 375px,#9db 376px,#ac1 377px,#b52 378px,#b8c 379px,#b70 380px,#b02 381px,#a46 382px,#945 383px,#58a 386px,#48d 387px,#3fa 388px,#3e9 389px,#45a 390px,#533 391px,#86b 394px,#935 395px,#9b6 396px,#9e5 397px,#9c4 398px,#957 399px,#7d3 401px,#606 403px,#554 404px,#4ec 405px,#4dd 406px,#528 407px,#671 409px,#7d9 411px,#855 412px,#898 413px,#89c 414px,#866 415px,#775 417px,#653 419px,#5ac 421px,#5aa 422px,#63a 424px,#77d 427px,#7d2 429px,#78d 431px,#654 435px,#62f 437px,#757 443px,#726 446px,#681 450px,#6a3 453px,#71c 457px,#6e2 461px,#6a7 465px,#6fc 472px,#6c3 479px,#6e3 486px,#6d8 493px,#6d9 595px)"></i>
<i style="top:50px;background:linear-gradient(90deg,#6d9 0,#6ce 105px,#6e2 115px,#6c9 121px,#6f4 127px,#6ac 133px,#71d 139px,#67f 146px,#753 152px,#71a 155px,#63d 159px,#646 161px,#7a9 166px,#7c2 168px,#742 170px,#603 173px,#5ac 175px,#5d1 176px,#6a9 178px,#83c 181px,#884 182px,#895 183px,#869 184px,#802 185px,#559 189px,#4f6 190px,#4e6 191px,#52f 192px,#5c9 193px,#861 196px,#91c 197px,#99c 198px,#9d6 199px,#9c0 200px,#95a 201px,#8a7 202px,#69d 204px,#497 206px,#405 207px,#3ee 208px,#45c 209px,#53b 210px,#8eb 213px,#9fb 214px,#acb 215px,#b4f 216px,#b81 217px,#b5f 218px,#ae5 219px,#a15 220px,#8f5 221px,#4ab 224px,#38f 225px,#2fa 226px,#310 227px,#3cf 228px,#511 229px,#9b9 232px,#b00 233px,#c03 234px,#cbf 235px,#d35 236px,#d6a 237px,#d5d 238px,#d0e 239px,#c77 240px,#b93 241px,#a60 242px,#8e0 243px,#3ba 246px,#28e 247px,#214 248px,#26a 249px,#37d 250px,#515 251px,#8ba 253px,#a5d 254px,#bbe 255px,#cd8 256px,#db2 257px,#ed1 259px,#f99 262px,#ffd 268px,#fee 330px,#f94 334px,#ec4 337px,#d9b 339px,#cba 340px,#b97 341px,#a2e 342px,#6b0 344px,#4df 345px,#354 346px,#255 347px,#218 348px,#2a9 349px,#3e8 350px,#912 353px,#a89 354px,#bb3 355px,#c8d 356px,#d1b 357px,#d62 358px,#d67 359px,#d2b 360px,#cac 361px,#be8 362px,#adc 363px,#98d 364px,#4e5 367px,#3b0 368px,#304 369px,#304 370px,#3ab 371px,#4d4 372px,#91c 375px,#a33 376px,#af8 377px,#b68 378px,#b80 379px,#b43 380px,#ab6 381px,#9de 382px,#787 384px,#51c 386px,#448 387px,#3ea 388px,#410 389px,#4af 390px,#7d5 393px,#8c0 394px,#96a 395px,#9c7 396px,#9d3 397px,#990 398px,#908 399px,#5b3 403px,#522 404px,#4e3 405px,#4fe 406px,#56a 407px,#812 411px,#872 412px,#896 413px,#87e 414px,#7b9 416px,#61d 419px,#5ca 420px,#5ac 421px,#60e 423px,#79b 427px,#7c6 429px,#762 431px,#642 435px,#641 437px,#748 442px,#734 445px,#68d 449px,#698 452px,#71d 457px,#6a7 464px,#6fd 471px,#6c1 478px,#6e5 485px,#6d6 492px,#6d9 595px)"></i>
<i style="top:52px;background:linear-gradient(90deg,#6d9 0,#6cd 106px,#6de 116px,#6ce 122px,#6fa 127px,#6a9 133px,#718 140px,#682 146px,#6c5 149px,#753 153px,#700 156px,#639 160px,#65f 162px,#7b5 167px,#7a9 169px,#70e 171px,#5e3 174px,#5b7 175px,#5bf 176px,#669 178px,#800 181px,#85e 182px,#889 183px,#87b 184px,#831 185px,#708 187px,#5a2 189px,#523 190px,#4eb 191px,#50b 192px,#580 193px,#717 195px,#8c5 197px,#960 198px,#9b9 199px,#9c6 200px,#983 201px,#8f2 202px,#81b 203px,#4f6 206px,#43b 207px,#3f0 208px,#426 209px,#4d9 210px,#726 212px,#98d 214px,#a77 215px,#b19 216px,#b6c 217px,#b6b 218px,#b13 219px,#a64 220px,#962 221px,#6a3 223px,#52c 224px,#3ed 225px,#322 226px,#2f9 227px,#37c 228px,#493 229px,#931 232px,#a8e 233px,#baa 234px,#c7f 235px,#d0d 236px,#d58 237px,#d62 238px,#d29 239px,#caa 240px,#bdf 241px,#ac5 242px,#95d 243px,#433 246px,#2db 247px,#225 248px,#23b 249px,#319 250px,#48f 251px,#9e2 254px,#b58 255px,#c88 256px,#d75 257px,#eaf 259px,#f59 261px,#fde 265px,#fff 280px,#fea 330px,#f87 334px,#f07 336px,#e16 338px,#d5c 339px,#c67 340px,#b2f 341px,#9b1 342px,#45c 345px,#2f5 346px,#22d 347px,#231 348px,#2fd 349px,#464 350px,#98c 353px,#aec 354px,#bfc 355px,#cbd 356px,#d33 357px,#d64 358px,#d53 359px,#cff 360px,#c69 361px,#b8b 362px,#a68 363px,#773 365px,#46b 367px,#363 368px,#2f4 369px,#333 370px,#40e 371px,#6d1 373px,#985 375px,#a7e 376px,#b22 377px,#b6f 378px,#b66 379px,#b09 380px,#a5e 381px,#96c 382px,#5c3 385px,#4bd 386px,#419 387px,#3f2 388px,#44c 389px,#512 390px,#838 393px,#907 394px,#990 395px,#9c9 396px,#9b2 397px,#950 398px,#7e0 400px,#61f 402px,#56e 403px,#502 404px,#4ee 405px,#52f 406px,#665 408px,#7c2 410px,#83d 411px,#880 412px,#887 413px,#7f3 415px,#65b 418px,#5bb 420px,#5ba 421px,#643 423px,#774 426px,#7c3 428px,#77e 430px,#659 434px,#63b 436px,#74f 442px,#71b 445px,#685 449px,#6ac 452px,#719 456px,#6ac 464px,#6fc 470px,#6c0 477px,#6e7 484px,#6db 492px,#6d9 595px)"></i>
<i style="top:54px;background:linear-gradient(90deg,#6d9 0,#6cc 107px,#6da 117px,#6d3 123px,#6f5 128px,#6ad 134px,#718 140px,#685 147px,#705 151px,#74f 154px,#6e5 157px,#64a 160px,#64d 162px,#799 167px,#7b4 169px,#73d 171px,#60f 174px,#5bc 176px,#5df 177px,#6ad 179px,#82c 182px,#870 183px,#87e 184px,#851 185px,#757 187px,#55e 190px,#504 191px,#4fa 192px,#548 193px,#5e2 194px,#867 197px,#917 198px,#98d 199px,#9bd 200px,#99d 201px,#92f 202px,#876 203px,#55f 206px,#484 207px,#408 208px,#408 209px,#487 210px,#572 211px,#915 214px,#a17 215px,#ad6 216px,#b49 217px,#b69 218px,#b34 219px,#aa7 220px,#9c4 221px,#895 222px,#45a 225px,#360 226px,#2f9 227px,#33d 228px,#422 229px,#57b 230px,#a14 233px,#b48 234px,#c36 235px,#cdc 236px,#d3e 237px,#d5e 238px,#d3c 239px,#cd4 240px,#c23 241px,#b23 242px,#9d3 243px,#676 245px,#4b4 246px,#339 247px,#24b 248px,#220 249px,#2c3 250px,#410 251px,#961 254px,#aec 255px,#c31 256px,#d32 257px,#df6 258px,#ef6 260px,#fa7 263px,#fff 269px,#fe6 330px,#f78 334px,#eeb 336px,#de2 338px,#d16 339px,#c0e 340px,#ac0 341px,#92e 342px,#3e1 345px,#2a5 346px,#21a 347px,#25e 348px,#360 349px,#4e8 350px,#86f 352px,#9ff 353px,#b46 354px,#c3d 355px,#ce5 356px,#d44 357px,#d5e 358px,#d36 359px,#ccc 360px,#c1d 361px,#b26 362px,#9ea 363px,#54d 366px,#3ff 367px,#32c 368px,#2fc 369px,#377 370px,#480 371px,#8bd 374px,#9e4 375px,#abc 376px,#b3f 377px,#b6a 378px,#b40 379px,#ac3 380px,#9fb 381px,#7bd 383px,#551 385px,#472 386px,#401 387px,#410 388px,#49a 389px,#690 391px,#890 393px,#940 394px,#9a5 395px,#9bb 396px,#983 397px,#904 398px,#775 400px,#5cc 402px,#53a 403px,#4f7 404px,#50b 405px,#56d 406px,#7fa 410px,#85a 411px,#87f 412px,#86b 413px,#7af 415px,#627 418px,#5d8 419px,#5bc 420px,#619 422px,#790 426px,#7b7 428px,#707 431px,#649 434px,#64d 436px,#743 441px,#729 444px,#68f 448px,#6a2 451px,#718 456px,#6ac 463px,#6f8 470px,#6c6 477px,#6e1 484px,#6d9 595px)"></i>
<i style="top:56px;background:linear-gradient(90deg,#6d8 0,#6cc 108px,#6d7 118px,#6d8 124px,#6f0 129px,#6b2 135px,#714 141px,#689 147px,#6c0 150px,#749 154px,#703 157px,#645 161px,#663 163px,#7a5 168px,#79d 170px,#6a6 173px,#5f1 175px,#5c7 176px,#5ce 177px,#66f 179px,#7f3 182px,#873 184px,#863 185px,#819 186px,#6f9 188px,#5a3 190px,#52d 191px,#4fd 192px,#522 193px,#599 194px,#8c4 198px,#955 199px,#9a4 200px,#9a7 201px,#95c 202px,#8c4 203px,#6e2 205px,#4dc 207px,#435 208px,#400 209px,#44b 210px,#50b 211px,#75c 213px,#9ad 215px,#a88 216px,#b1a 217px,#b5b 218px,#b47 219px,#adc 220px,#a1b 221px,#908 222px,#4d3 225px,#3b1 226px,#310 227px,#315 228px,#3c2 229px,#4f6 230px,#992 233px,#adc 234px,#be3 235px,#ca3 236px,#d1d 237px,#d53 238px,#d47 239px,#cf7 240px,#c5f 241px,#b78 242px,#a41 243px,#8bf 244px,#53c 246px,#3a3 247px,#283 248px,#218 249px,#27d 250px,#39b 251px,#539 252px,#8db 254px,#a79 255px,#bd4 256px,#ce9 257px,#dbf 258px,#ed8 260px,#f9b 263px,#ffe 269px,#fee 329px,#f97 333px,#ecb 336px,#da8 338px,#ccb 339px,#bae 340px,#a4a 341px,#6d4 343px,#502 344px,#371 345px,#266 346px,#21a 347px,#29d 348px,#3d0 349px,#8f1 352px,#a6b 353px,#b98 354px,#c75 355px,#d05 356px,#d4c 357px,#d50 358px,#d12 359px,#c8f 360px,#bc7 361px,#ab8 362px,#966 363px,#4cb 366px,#3a5 367px,#30b 368px,#31b 369px,#3ce 370px,#4fc 371px,#92d 374px,#a37 375px,#aee 376px,#b4e 377px,#b57 378px,#b0c 379px,#a71 380px,#98e 381px,#5fb 384px,#4ee 385px,#43b 386px,#400 387px,#444 388px,#4f6 389px,#807 392px,#8da 393px,#969 394px,#9ab 395px,#99e 396px,#946 397px,#7e9 399px,#636 401px,#587 402px,#519 403px,#4ff 404px,#538 405px,#65c 407px,#7ad 409px,#825 410px,#868 411px,#871 412px,#7e6 414px,#5ff 418px,#5cb 419px,#5f9 421px,#76c 425px,#7b4 427px,#770 429px,#65e 433px,#647 435px,#748 441px,#710 444px,#68a 448px,#6d6 452px,#712 456px,#6ad 462px,#6f9 469px,#6c4 476px,#6e3 483px,#6e2 492px,#6d9 595px)"></i>
<i style="top:58px;background:linear-gradient(90deg,#6d8 0,#6dd 113px,#6cf 124px,#6eb 130px,#6af 135px,#70f 142px,#68b 148px,#6fb 152px,#747 155px,#6ea 158px,#656 161px,#654 163px,#78a 168px,#7a6 170px,#739 172px,#61b 175px,#5cc 177px,#63c 179px,#81c 183px,#85c 184px,#867 185px,#83a 186px,#745 188px,#564 191px,#513 192px,#510 193px,#560 194px,#6c2 196px,#869 198px,#910 199px,#97c 200px,#9a2 201px,#97a 202px,#904 203px,#846 204px,#540 207px,#476 208px,#40f 209px,#424 210px,#4b4 211px,#5a8 212px,#93a 215px,#a2e 216px,#add 217px,#b3e 218px,#b4c 219px,#b04 220px,#a65 221px,#971 222px,#6c8 224px,#555 225px,#413 226px,#33e 227px,#304 228px,#375 229px,#47c 230px,#77c 232px,#a68 234px,#b88 235px,#c61 236px,#cf3 237px,#d40 238px,#d4b 239px,#d12 240px,#c92 241px,#bc5 242px,#aa8 243px,#93d 244px,#41a 247px,#2cd 248px,#225 249px,#24a 250px,#333 251px,#4b0 252px,#9ff 255px,#b6f 256px,#c9a 257px,#d82 258px,#eb6 260px,#f8f 263px,#ff5 268px,#feb 329px,#f89 333px,#f0c 335px,#e20 337px,#d6a 338px,#c79 339px,#b47 340px,#9ce 341px,#47d 344px,#30e 345px,#23b 346px,#22f 347px,#2ee 348px,#44a 349px,#96c 352px,#acf 353px,#be2 354px,#ca5 355px,#d1d 356px,#d4e 357px,#d3b 358px,#ce5 359px,#c4a 360px,#b69 361px,#a41 362px,#74b 364px,#5b8 365px,#455 366px,#35f 367px,#302 368px,#350 369px,#435 370px,#85e 373px,#992 374px,#a7c 375px,#b12 376px,#b4f 377px,#b37 378px,#acc 379px,#a14 380px,#7ee 382px,#587 384px,#49d 385px,#41b 386px,#416 387px,#48a 388px,#55d 389px,#860 392px,#916 393px,#983 394px,#9a1 395px,#973 396px,#8fe 397px,#782 399px,#5e3 401px,#552 402px,#50c 403px,#519 404px,#572 405px,#7e5 409px,#842 410px,#869 411px,#856 412px,#7a5 414px,#630 417px,#5cb 419px,#625 421px,#786 425px,#7a7 427px,#6fe 430px,#651 433px,#65a 435px,#73e 440px,#71e 443px,#692 447px,#6ab 450px,#712 455px,#6b1 462px,#6f3 469px,#6cb 476px,#6dc 483px,#6d8 595px)"></i>
<i style="top:60px;background:linear-gradient(90deg,#6d9 0,#6df 114px,#6d3 125px,#6e6 131px,#6b3 136px,#710 142px,#68f 149px,#740 155px,#705 158px,#651 162px,#667 164px,#796 169px,#792 171px,#6ab 174px,#5ff 176px,#5dd 178px,#675 180px,#7e5 183px,#85d 185px,#84c 186px,#803 187px,#6ec 189px,#5a6 191px,#539 192px,#510 193px,#539 194px,#5b0 195px,#8c1 199px,#947 200px,#98d 201px,#987 202px,#934 203px,#896 204px,#6b5 206px,#4c7 208px,#435 209px,#414 210px,#471 211px,#53d 212px,#8c0 215px,#9c9 216px,#a94 217px,#b15 218px,#b44 219px,#b1e 220px,#aa1 221px,#9ce 222px,#8ac 223px,#483 226px,#381 227px,#30b 228px,#33d 229px,#410 230px,#55b 231px,#9eb 234px,#b23 235px,#c15 236px,#cc0 237px,#d25 238px,#d47 239px,#d25 240px,#cbd 241px,#c0a 242px,#b07 243px,#9b4 244px,#657 246px,#499 247px,#327 248px,#246 249px,#22a 250px,#2da 251px,#42f 252px,#97f 255px,#b04 256px,#c44 257px,#d40 258px,#e91 260px,#f49 262px,#fda 266px,#fff 277px,#fe7 329px,#f7b 333px,#ef0 335px,#ded 337px,#d25 338px,#c21 339px,#ad9 340px,#94c 341px,#3ff 344px,#2bb 345px,#223 346px,#258 347px,#34d 348px,#4cd 349px,#84f 351px,#9e1 352px,#b2b 353px,#c24 354px,#cce 355px,#d2d 356px,#d47 357px,#d1d 358px,#caf 359px,#bfc 360px,#b01 361px,#9c2 362px,#52f 365px,#3ef 366px,#32e 367px,#310 368px,#39a 369px,#4a9 370px,#8d3 373px,#9ec 374px,#ab5 375px,#b28 376px,#b43 377px,#b0a 378px,#a7f 379px,#9ac 380px,#768 382px,#520 384px,#45f 385px,#411 386px,#441 387px,#4df 388px,#7d7 391px,#8ad 392px,#942 393px,#98c 394px,#988 395px,#93a 396px,#7f0 398px,#64b 400px,#59e 401px,#530 402px,#511 403px,#542 404px,#655 406px,#79a 408px,#80f 409px,#851 410px,#85c 411px,#7d9 413px,#60b 417px,#5d9 418px,#606 420px,#765 424px,#7a5 426px,#762 428px,#663 432px,#653 434px,#730 439px,#729 442px,#68e 447px,#710 454px,#6b1 461px,#6f4 468px,#6c9 475px,#6de 482px,#6d8 595px)"></i>
<i style="top:62px;background:linear-gradient(90deg,#6d9 0,#6e1 115px,#6d7 126px,#6ed 131px,#6b8 137px,#70c 143px,#691 149px,#6f2 153px,#73e 156px,#6ef 159px,#651 163px,#67f 165px,#77b 169px,#79a 171px,#735 173px,#5ed 177px,#5f9 179px,#6b1 181px,#80b 184px,#847 185px,#851 186px,#824 187px,#736 189px,#56c 192px,#523 193px,#525 194px,#578 195px,#6d2 197px,#869 199px,#906 200px,#969 201px,#985 202px,#955 203px,#8d9 204px,#818 205px,#525 208px,#46e 209px,#41b 210px,#443 211px,#4e2 212px,#5dc 213px,#95a 216px,#a3f 217px,#ade 218px,#b2f 219px,#b2b 220px,#ad0 221px,#a1f 222px,#91b 223px,#4fe 226px,#3d7 227px,#329 228px,#31c 229px,#3b6 230px,#4da 231px,#967 234px,#ab5 235px,#bc0 236px,#c84 237px,#d02 238px,#d3b 239px,#d30 240px,#ce0 241px,#c46 242px,#b5e 243px,#a24 244px,#89f 245px,#520 247px,#38f 248px,#27b 249px,#21f 250px,#291 251px,#3b8 252px,#55a 253px,#8f9 255px,#a92 256px,#be8 257px,#cf8 258px,#dcb 259px,#ede 261px,#f9d 264px,#ffe 270px,#fef 328px,#f99 332px,#ed1 335px,#db4 337px,#cdb 338px,#bc2 339px,#a64 340px,#6f6 342px,#524 343px,#38d 344px,#278 345px,#21f 346px,#293 347px,#3ba 348px,#8d2 351px,#a4e 352px,#b7e 353px,#c5d 354px,#cee 355px,#d35 356px,#d38 357px,#cf6 358px,#c70 359px,#ba4 360px,#a90 361px,#7b6 363px,#4b1 365px,#39b 366px,#315 367px,#336 368px,#3f5 369px,#527 370px,#7fe 372px,#93e 373px,#a39 374px,#ae0 375px,#b30 376px,#b29 377px,#acf 378px,#a27 379px,#93a 380px,#5ba 383px,#4c9 384px,#438 385px,#41f 386px,#47f 387px,#541 388px,#832 391px,#8ec 392px,#95f 393px,#986 394px,#961 395px,#8f6 396px,#78c 398px,#5f9 400px,#56a 401px,#521 402px,#528 403px,#57a 404px,#7d0 408px,#82c 409px,#853 410px,#801 412px,#639 416px,#5db 418px,#631 420px,#77d 424px,#798 426px,#658 432px,#68e 435px,#738 439px,#713 442px,#695 446px,#6d1 450px,#70c 454px,#6b6 461px,#6f5 467px,#6c7 474px,#6d9 482px,#6d9 595px)"></i>
<i style="top:64px;background:linear-gradient(90deg,#6d9 0,#6e2 116px,#6d0 126px,#6e9 132px,#6bd 138px,#707 144px,#694 150px,#739 157px,#6a6 161px,#657 164px,#6d8 167px,#787 170px,#787 172px,#6b0 175px,#60d 177px,#5eb 179px,#679 181px,#7d6 184px,#848 186px,#836 187px,#778 189px,#5ab 192px,#546 193px,#524 194px,#550 195px,#5c7 196px,#8bb 200px,#938 201px,#974 202px,#967 203px,#90c 204px,#86a 205px,#4b8 209px,#439 210px,#42c 211px,#499 212px,#56e 213px,#8e4 216px,#9df 217px,#a9b 218px,#b0b 219px,#b2a 220px,#af2 221px,#a62 222px,#97e 223px,#850 224px,#43d 227px,#35d 228px,#313 229px,#370 230px,#464 231px,#751 233px,#a3e 235px,#b62 236px,#c3f 237px,#cd6 238px,#d27 239px,#d33 240px,#cfb 241px,#c7a 242px,#bac 243px,#a8c 244px,#91e 245px,#403 248px,#2c1 249px,#228 250px,#25a 251px,#34d 252px,#4d1 253px,#a19 256px,#b84 257px,#caa 258px,#d8f 259px,#ebd 261px,#f91 264px,#ff6 269px,#feb 328px,#f8c 332px,#eaf 335px,#d76 337px,#c8a 338px,#b5c 339px,#9e9 340px,#49d 343px,#327 344px,#249 345px,#230 346px,#2e0 347px,#433 348px,#94e 351px,#ab3 352px,#bc9 353px,#c8e 354px,#d06 355px,#d36 356px,#d21 357px,#cc7 358px,#c28 359px,#b42 360px,#a16 361px,#595 364px,#440 365px,#35c 366px,#313 367px,#371 368px,#460 369px,#878 372px,#99e 373px,#a78 374px,#afd 375px,#b2b 376px,#b02 377px,#a88 378px,#9c4 379px,#797 381px,#550 383px,#486 384px,#427 385px,#442 386px,#4ce 387px,#881 391px,#91b 392px,#96c 393px,#971 394px,#92c 395px,#7f4 397px,#5b5 400px,#546 401px,#524 402px,#54f 403px,#651 405px,#789 407px,#83b 409px,#846 410px,#7cb 412px,#615 416px,#5e8 418px,#660 420px,#75e 423px,#797 425px,#714 428px,#668 431px,#65f 433px,#72c 438px,#71e 441px,#694 446px,#70c 453px,#6b5 460px,#6ef 467px,#6cd 474px,#6d4 482px,#6d9 595px)"></i>
<i style="top:66px;background:linear-gradient(90deg,#6d9 0,#6e3 117px,#6d3 127px,#6e4 133px,#6b8 138px,#709 144px,#699 151px,#736 157px,#6f3 160px,#65b 164px,#6b5 167px,#78c 171px,#76e 173px,#5fc 178px,#605 180px,#6b1 182px,#7fa 185px,#83b 187px,#80f 188px,#729 190px,#576 193px,#534 194px,#53b 195px,#58e 196px,#6e0 198px,#867 200px,#8fa 201px,#954 202px,#968 203px,#931 204px,#8af 205px,#6fa 207px,#510 209px,#46a 210px,#42b 211px,#465 212px,#50f 213px,#739 215px,#975 217px,#a4c 218px,#adb 219px,#b1a 220px,#b05 221px,#a99 222px,#9d6 223px,#8c4 224px,#4b0 227px,#3a6 228px,#321 229px,#33f 230px,#3ff 231px,#53a 232px,#9bf 235px,#afa 236px,#bf1 237px,#ca1 238px,#d0a 239px,#d2e 240px,#d0e 241px,#ca6 242px,#bf1 243px,#aec 244px,#997 245px,#481 248px,#318 249px,#245 250px,#236 251px,#2f1 252px,#44e 253px,#99a 256px,#b1a 257px,#c55 258px,#d4d 259px,#e98 261px,#f4c 263px,#fdb 267px,#fff 279px,#fe7 328px,#f7d 332px,#ef6 334px,#df7 336px,#d33 337px,#c33 338px,#aef 339px,#967 340px,#41d 343px,#2d0 344px,#22d 345px,#254 346px,#33d 347px,#4b4 348px,#831 350px,#9c4 351px,#b10 352px,#c0b 353px,#cb6 354px,#d15 355px,#d2e 356px,#d01 357px,#c8f 358px,#bd7 359px,#ad7 360px,#995 361px,#50f 364px,#3e0 365px,#333 366px,#328 367px,#3c0 368px,#4d6 369px,#8e9 372px,#9f2 373px,#aaa 374px,#b0c 375px,#b17 376px,#ace 377px,#a35 378px,#957 379px,#5ec 382px,#4f5 383px,#457 384px,#42d 385px,#479 386px,#52a 387px,#806 390px,#8c2 391px,#93b 392px,#96a 393px,#94d 394px,#8eb 395px,#793 397px,#60e 399px,#580 400px,#536 401px,#538 402px,#583 403px,#7be 407px,#817 408px,#83d 409px,#7f1 411px,#640 415px,#5ea 417px,#63d 419px,#774 423px,#789 425px,#65f 431px,#699 434px,#733 438px,#709 441px,#698 445px,#706 453px,#6b5 459px,#6f1 466px,#6cc 473px,#6d5 481px,#6d9 595px)"></i>
<i style="top:68px;background:linear-gradient(90deg,#6d9 0,#6d1 123px,#6df 134px,#6bc 139px,#705 145px,#699 151px,#733 158px,#6b0 162px,#65f 165px,#6d1 168px,#778 171px,#77d 173px,#6b6 176px,#61b 178px,#5f8 180px,#67d 182px,#7c8 185px,#833 187px,#821 188px,#769 190px,#5b2 193px,#554 194px,#537 195px,#566 196px,#5db 197px,#8b2 201px,#926 202px,#95a 203px,#945 204px,#8e5 205px,#83f 206px,#573 209px,#4ae 210px,#441 211px,#447 212px,#4c1 213px,#59e 214px,#903 217px,#9f1 218px,#a9d 219px,#afd 220px,#b0b 221px,#ac1 222px,#a20 223px,#92d 224px,#690 226px,#52c 227px,#400 228px,#346 229px,#326 230px,#3ab 231px,#4bd 232px,#938 235px,#a89 236px,#b99 237px,#c62 238px,#ce4 239px,#d21 240px,#d18 241px,#cc8 242px,#c2e 243px,#b43 244px,#a08 245px,#882 246px,#507 248px,#37e 249px,#275 250px,#226 251px,#2a4 252px,#3d4 253px,#74e 255px,#915 256px,#aa9 257px,#bfa 258px,#d06 259px,#dd5 260px,#ee3 262px,#f9f 265px,#ffe 271px,#fef 327px,#f9b 331px,#ed7 334px,#dbf 336px,#ce9 337px,#bd5 338px,#a7c 339px,#715 341px,#543 342px,#3a8 343px,#28b 344px,#225 345px,#28c 346px,#3a8 347px,#6ff 349px,#8b4 350px,#a32 351px,#b64 352px,#c44 353px,#cd6 354px,#d1d 355px,#d1d 356px,#cd9 357px,#c4e 358px,#b7c 359px,#a64 360px,#788 362px,#496 364px,#393 365px,#321 366px,#355 367px,#420 368px,#6bc 370px,#94f 372px,#a38 373px,#acf 374px,#b0e 375px,#af6 376px,#a8c 377px,#9d7 378px,#7c2 380px,#57f 382px,#4ad 383px,#43f 384px,#449 385px,#4c2 386px,#686 388px,#857 390px,#8f5 391px,#94c 392px,#958 393px,#91c 394px,#7f6 396px,#5ca 399px,#55c 400px,#537 401px,#55c 402px,#64f 404px,#779 406px,#826 408px,#831 409px,#7bc 411px,#620 415px,#5f8 417px,#6c1 420px,#780 423px,#774 425px,#66d 430px,#689 433px,#729 437px,#713 440px,#699 445px,#707 452px,#6ba 459px,#6eb 466px,#6d2 473px,#6d9 595px)"></i>
<i style="top:70px;background:linear-gradient(90deg,#6d9 0,#6cf 124px,#6e7 134px,#6c1 140px,#700 146px,#69d 152px,#72e 158px,#6f7 161px,#665 165px,#6b2 168px,#77e 172px,#766 174px,#60b 179px,#610 181px,#6b2 183px,#7e9 186px,#826 188px,#79f 190px,#582 194px,#545 195px,#550 196px,#5a3 197px,#6ec 199px,#862 201px,#8ed 202px,#93e 203px,#94a 204px,#90c 205px,#886 206px,#6d4 208px,#500 210px,#46c 211px,#43f 212px,#488 213px,#53c 214px,#98b 218px,#a53 219px,#ad3 220px,#b02 221px,#adb 222px,#a5e 223px,#98b 224px,#86c 225px,#46a 228px,#381 229px,#324 230px,#36c 231px,#44d 232px,#59d 233px,#a10 236px,#b38 237px,#c1b 238px,#cb6 239px,#d0b 240px,#d1a 241px,#ce3 242px,#c62 243px,#b92 244px,#a71 245px,#901 246px,#3f0 249px,#2b8 250px,#22b 251px,#269 252px,#367 253px,#4ef 254px,#88b 256px,#a31 257px,#b98 258px,#cb9 259px,#d9a 260px,#ec2 262px,#f93 265px,#ff6 270px,#fec 327px,#f8e 331px,#eb5 334px,#d82 336px,#c99 337px,#b70 338px,#a01 339px,#4bb 342px,#340 343px,#257 344px,#232 345px,#2d6 346px,#41e 347px,#932 350px,#a98 351px,#baf 352px,#c75 353px,#ced 354px,#d1c 355px,#d04 356px,#ca7 357px,#c03 358px,#b18 359px,#9e7 360px,#570 363px,#42b 364px,#35b 365px,#327 366px,#396 367px,#48d 368px,#892 371px,#9a9 372px,#a71 373px,#ae5 374px,#b01 375px,#ac8 376px,#a3f 377px,#96f 378px,#61c 381px,#521 382px,#479 383px,#43e 384px,#478 385px,#517 386px,#7dc 389px,#89a 390px,#917 391px,#94c 392px,#937 393px,#8df 394px,#798 396px,#620 398px,#595 399px,#54a 400px,#549 401px,#58d 402px,#7ac 406px,#827 408px,#7e0 410px,#647 414px,#5f8 416px,#64a 418px,#76b 422px,#77b 424px,#666 430px,#6a4 433px,#72d 437px,#6dd 441px,#69f 445px,#706 451px,#6b9 458px,#6ec 465px,#6d0 472px,#6d9 595px)"></i>
<i style="top:72px;background:linear-gradient(90deg,#6d9 0,#6cd 125px,#6e3 135px,#6c6 141px,#703 146px,#6a2 153px,#72c 159px,#6b9 163px,#668 166px,#6cc 169px,#76a 172px,#773 174px,#6bc 177px,#604 180px,#630 182px,#7ff 187px,#80c 189px,#75c 191px,#5ba 194px,#563 195px,#54b 196px,#57b 197px,#5ef 198px,#8a8 202px,#914 203px,#93f 204px,#923 205px,#8bf 206px,#817 207px,#55d 210px,#4a8 211px,#44d 212px,#463 213px,#4ea 214px,#5cc 215px,#91d 218px,#9fd 219px,#a9b 220px,#aeb 221px,#ae7 222px,#a8d 223px,#9dc 224px,#8da 225px,#4df 228px,#3cf 229px,#33a 230px,#344 231px,#3ee 232px,#519 233px,#98e 236px,#acd 237px,#bc9 238px,#c7e 239px,#cec 240px,#d14 241px,#cf5 242px,#c8d 243px,#bd8 244px,#ad1 245px,#97b 246px,#46c 249px,#30c 250px,#245 251px,#242 252px,#307 253px,#46b 254px,#9b2 257px,#b2e 258px,#c65 259px,#d59 260px,#e9e 262px,#f4f 264px,#fdb 268px,#fff 280px,#fe8 327px,#f7f 331px,#efa 333px,#dff 335px,#d3f 336px,#c43 337px,#b04 338px,#980 339px,#439 342px,#2e6 343px,#237 344px,#253 345px,#330 346px,#49e 347px,#814 349px,#9a8 350px,#af5 351px,#bf2 352px,#c9d 353px,#cfc 354px,#d13 355px,#ce2 356px,#c6c 357px,#baf 358px,#aaa 359px,#964 360px,#4f0 363px,#3d2 364px,#33a 365px,#344 366px,#3ea 367px,#506 368px,#8fd 371px,#9f6 372px,#a9c 373px,#aec 374px,#ae6 375px,#a8c 376px,#9e6 377px,#7e9 379px,#5ad 381px,#4d4 382px,#45a 383px,#453 384px,#4ba 385px,#664 387px,#82e 389px,#8ce 390px,#92b 391px,#93e 392px,#90a 393px,#7f6 395px,#5de 398px,#572 399px,#54a 400px,#56b 401px,#64e 403px,#76b 405px,#811 407px,#7f9 409px,#629 414px,#607 416px,#6c6 419px,#776 422px,#766 424px,#672 429px,#694 432px,#725 436px,#709 439px,#6a1 443px,#701 451px,#6bf 458px,#6e6 465px,#6d6 472px,#6d9 595px)"></i>
<i style="top:74px;background:linear-gradient(90deg,#6d9 0,#6cc 126px,#6df 136px,#6cc 142px,#6ff 147px,#6a1 153px,#727 160px,#66f 166px,#6ae 169px,#770 173px,#75f 175px,#61a 180px,#61b 182px,#6b1 184px,#7d7 187px,#811 189px,#790 191px,#58e 195px,#557 196px,#564 197px,#5b7 198px,#6f6 200px,#85b 202px,#8dd 203px,#926 204px,#92b 205px,#8e8 206px,#85f 207px,#6b1 209px,#4f4 211px,#471 212px,#455 213px,#4ab 214px,#567 215px,#99d 219px,#a56 220px,#ac6 221px,#ae5 222px,#aae 223px,#a20 224px,#93e 225px,#6bc 227px,#42e 229px,#367 230px,#333 231px,#3a3 232px,#4a0 233px,#906 236px,#a59 237px,#b6e 238px,#c3d 239px,#cc4 240px,#d04 241px,#cfe 242px,#cb0 243px,#c15 244px,#b29 245px,#9ec 246px,#866 247px,#4f0 249px,#36f 250px,#272 251px,#22f 252px,#2b8 253px,#3ef 254px,#92e 257px,#abe 258px,#c0a 259px,#d12 260px,#dde 261px,#ee8 263px,#fa1 266px,#ffe 272px,#fef 326px,#f9c 330px,#edc 333px,#dc8 335px,#cf6 336px,#be6 337px,#a91 338px,#732 340px,#561 341px,#3c2 342px,#29d 343px,#22c 344px,#287 345px,#398 346px,#524 347px,#898 349px,#a17 350px,#b4a 351px,#c2c 352px,#cbd 353px,#d03 354px,#d00 355px,#cb8 356px,#c28 357px,#b51 358px,#a33 359px,#757 361px,#47c 363px,#38d 364px,#331 365px,#378 366px,#44e 367px,#83c 370px,#95d 371px,#a35 372px,#ab9 373px,#ae6 374px,#abd 375px,#a43 376px,#982 377px,#54c 381px,#49b 382px,#452 383px,#47c 384px,#50a 385px,#7b5 388px,#873 389px,#8f4 390px,#92e 391px,#921 392px,#8d0 393px,#79b 395px,#631 397px,#5aa 398px,#55f 399px,#55b 400px,#599 401px,#79d 405px,#813 407px,#7cf 409px,#64e 413px,#607 415px,#656 417px,#763 421px,#76d 423px,#681 428px,#688 431px,#728 436px,#6a1 443px,#701 450px,#6be 457px,#6e8 464px,#6d4 471px,#6d9 595px)"></i>
<i style="top:76px;background:linear-gradient(90deg,#6d9 0,#6cc 127px,#6db 137px,#6c4 142px,#6fa 148px,#6a5 154px,#724 160px,#6c2 164px,#671 167px,#6c6 170px,#770 174px,#747 176px,#638 180px,#612 182px,#682 184px,#7ec 188px,#7f9 190px,#750 192px,#5c4 195px,#573 196px,#55f 197px,#590 198px,#6a0 200px,#89c 203px,#8ff 204px,#923 205px,#902 206px,#899 207px,#717 209px,#54c 211px,#4a7 212px,#45d 213px,#482 214px,#513 215px,#70e 217px,#933 219px,#a05 220px,#a94 221px,#ad4 222px,#ac0 223px,#a55 224px,#995 225px,#887 226px,#49b 229px,#3a8 230px,#33a 231px,#36c 232px,#437 233px,#576 234px,#9dd 237px,#b0a 238px,#bf2 239px,#c93 240px,#cec 241px,#cff 242px,#cc9 243px,#c49 244px,#b79 245px,#a56 246px,#8e6 247px,#3df 250px,#2b2 251px,#230 252px,#27a 253px,#37f 254px,#50b 255px,#8a4 257px,#a46 258px,#ba8 259px,#cc6 260px,#da3 261px,#ec7 263px,#f94 266px,#ffc 272px,#fec 326px,#f90 330px,#eba 333px,#d8b 335px,#ca7 336px,#b81 337px,#a17 338px,#4d7 341px,#357 342px,#266 343px,#235 344px,#2ce 345px,#40c 346px,#916 349px,#a7e 350px,#b96 351px,#c5c 352px,#cd4 353px,#d00 354px,#ce5 355px,#c83 356px,#bda 357px,#ae9 358px,#9b4 359px,#54b 362px,#418 363px,#35e 364px,#33f 365px,#3bf 366px,#4bf 367px,#8ab 370px,#9b1 371px,#a67 372px,#ac7 373px,#ad1 374px,#a87 375px,#9ef 376px,#80c 378px,#5d9 380px,#4fc 381px,#477 382px,#460 383px,#4b7 384px,#565 385px,#807 388px,#8a9 389px,#90a 390px,#923 391px,#8f6 392px,#7f3 394px,#5f0 397px,#586 398px,#55e 399px,#57a 400px,#650 402px,#7c3 405px,#808 407px,#79e 409px,#632 413px,#616 415px,#74c 420px,#76f 422px,#677 428px,#69f 431px,#721 435px,#6e2 439px,#6a5 443px,#700 449px,#6c5 457px,#6e1 464px,#6e0 472px,#6d9 595px)"></i>
<i style="top:78px;background:linear-gradient(90deg,#6d9 0,#6cb 128px,#6e2 137px,#6c9 143px,#6f5 149px,#6aa 155px,#721 161px,#676 168px,#6dd 171px,#762 174px,#758 176px,#629 181px,#626 183px,#6b0 185px,#7c6 188px,#7fd 190px,#782 192px,#59c 196px,#56a 197px,#579 198px,#5ca 199px,#6fe 201px,#852 203px,#8cc 204px,#90d 205px,#90c 206px,#8c4 207px,#839 208px,#4ed 212px,#47a 213px,#46e 214px,#4d0 215px,#592 216px,#8c1 219px,#9aa 220px,#a55 221px,#ab5 222px,#ac4 223px,#a7d 224px,#9df 225px,#8f0 226px,#513 229px,#3fc 230px,#358 231px,#34d 232px,#3e0 233px,#4f7 234px,#959 237px,#a9c 238px,#b9e 239px,#c58 240px,#ccb 241px,#cf7 242px,#cda 243px,#c74 244px,#bbf 245px,#ab8 246px,#960 247px,#45a 250px,#303 251px,#246 252px,#24f 253px,#31d 254px,#485 255px,#9c8 258px,#b40 259px,#c72 260px,#d63 261px,#ea3 263px,#f52 265px,#fdc 269px,#fff 282px,#fe8 326px,#f81 330px,#efe 332px,#e07 334px,#d49 335px,#c51 336px,#b16 337px,#997 338px,#454 341px,#2fb 342px,#243 343px,#253 344px,#325 345px,#48b 346px,#98e 349px,#adc 350px,#bd9 351px,#c84 352px,#ce2 353px,#cf5 354px,#cc1 355px,#c46 356px,#b82 357px,#a78 358px,#7b7 360px,#4cf 362px,#3c6 363px,#346 364px,#364 365px,#419 366px,#53a 367px,#7e6 369px,#911 370px,#9f6 371px,#a8a 372px,#ac7 373px,#aae 374px,#a44 375px,#991 376px,#78e 378px,#576 380px,#4be 381px,#469 382px,#483 383px,#501 384px,#84d 388px,#8d1 389px,#910 390px,#909 391px,#8c0 392px,#79c 394px,#640 396px,#5bd 397px,#574 398px,#56d 399px,#610 401px,#78e 404px,#7ff 406px,#7be 408px,#654 412px,#615 414px,#663 416px,#75b 420px,#760 422px,#684 427px,#693 430px,#722 435px,#6a6 442px,#6fc 449px,#6c3 456px,#6e3 463px,#6de 471px,#6d9 595px)"></i>
<i style="top:80px;background:linear-gradient(90deg,#6d9 0,#6dd 133px,#6c9 140px,#6eb 146px,#6dd 151px,#6b1 156px,#71c 162px,#679 168px,#6c1 171px,#763 175px,#742 177px,#621 182px,#641 184px,#7da 189px,#7e6 191px,#745 193px,#5cf 196px,#584 197px,#573 198px,#5a3 199px,#6ab 201px,#88e 204px,#8e9 205px,#907 206px,#8e0 207px,#874 208px,#6f6 210px,#540 212px,#4aa 213px,#470 214px,#4a1 215px,#53a 216px,#734 218px,#944 220px,#a09 221px,#a88 222px,#ab9 223px,#a95 224px,#a1b 225px,#94c 226px,#835 227px,#460 230px,#38c 231px,#345 232px,#39d 233px,#485 234px,#752 236px,#a25 238px,#b3f 239px,#c14 240px,#ca1 241px,#ce6 242px,#ce2 243px,#c96 244px,#bfc 245px,#b10 246px,#9d2 247px,#695 249px,#4dd 250px,#364 251px,#270 252px,#239 253px,#2cb 254px,#408 255px,#944 258px,#ad0 259px,#c18 260px,#d1d 261px,#de5 262px,#eeb 264px,#fa2 267px,#ffe 273px,#ff0 325px,#f9e 329px,#ee0 332px,#dd0 334px,#d01 335px,#bf4 336px,#aa4 337px,#911 338px,#57c 340px,#3db 341px,#2af 342px,#234 343px,#284 344px,#38b 345px,#510 346px,#87e 348px,#9fd 349px,#b31 350px,#c12 351px,#ca3 352px,#ce7 353px,#ce1 354px,#c93 355px,#bfe 356px,#b21 357px,#9ff 358px,#5a7 361px,#462 362px,#38a 363px,#345 364px,#39f 365px,#481 366px,#85a 369px,#96a 370px,#a2e 371px,#a9e 372px,#ab8 373px,#a7d 374px,#9f5 375px,#928 376px,#603 379px,#523 380px,#496 381px,#471 382px,#4b8 383px,#557 384px,#7e2 387px,#885 388px,#8e9 389px,#907 390px,#8e1 391px,#7ef 393px,#601 396px,#59a 397px,#571 398px,#58a 399px,#653 401px,#7b3 404px,#7f5 406px,#78f 408px,#63b 412px,#624 414px,#747 419px,#762 421px,#67d 427px,#6a9 430px,#71d 434px,#6ab 442px,#6fc 448px,#6c2 455px,#6e5 462px,#6dd 470px,#6d9 595px)"></i>
<i style="top:82px;background:linear-gradient(90deg,#6d9 0,#6df 134px,#6d2 145px,#6f5 150px,#6ac 156px,#71b 162px,#67d 169px,#6d6 172px,#755 175px,#750 177px,#637 182px,#630 184px,#70b 187px,#7b5 189px,#7ea 191px,#776 193px,#5ab 197px,#57d 198px,#58d 199px,#5dc 200px,#847 204px,#8b9 205px,#8f4 206px,#8ed 207px,#8a1 208px,#815 209px,#59c 212px,#4ea 213px,#486 214px,#488 215px,#4f4 216px,#5ba 217px,#8d7 220px,#9b2 221px,#a4e 222px,#aa0 223px,#a9f 224px,#a49 225px,#99c 226px,#8a2 227px,#4d0 230px,#3d5 231px,#355 232px,#370 233px,#423 234px,#54e 235px,#9a6 238px,#ad7 239px,#bc6 240px,#c6c 241px,#ccb 242px,#ce1 243px,#caf 244px,#c2f 245px,#b5f 246px,#a3d 247px,#8cd 248px,#3d2 251px,#2ad 252px,#237 253px,#28a 254px,#397 255px,#525 256px,#8bb 258px,#a59 259px,#bb7 260px,#cd1 261px,#dab 262px,#ecb 264px,#f96 267px,#ffd 273px,#fec 325px,#f91 329px,#ebe 332px,#d94 334px,#cb2 335px,#b91 336px,#a2a 337px,#6b8 339px,#4f0 340px,#36e 341px,#276 342px,#23b 343px,#2c8 344px,#3fe 345px,#8fd 348px,#a64 349px,#b7d 350px,#c43 351px,#cb9 352px,#ce3 353px,#cc3 354px,#c5c 355px,#bad 356px,#ab6 357px,#97d 358px,#525 361px,#406 362px,#364 363px,#35c 364px,#3ed 365px,#4f5 366px,#8c3 369px,#9b5 370px,#a58 371px,#aa4 372px,#a9b 373px,#a3f 374px,#99a 375px,#7af 377px,#59f 379px,#4e2 380px,#482 381px,#48d 382px,#4fc 383px,#829 387px,#8ae 388px,#8f1 389px,#8f0 390px,#8ae 391px,#79a 393px,#64e 395px,#5cf 396px,#587 397px,#57f 398px,#618 400px,#781 403px,#7eb 405px,#7ad 407px,#65a 411px,#623 413px,#6b2 416px,#754 419px,#731 422px,#687 426px,#69e 429px,#716 433px,#6e5 437px,#6ab 441px,#6f7 448px,#6c8 455px,#6df 462px,#6d9 595px)"></i>
<i style="top:84px;background:linear-gradient(90deg,#6d9 0,#6e1 135px,#6d7 146px,#6f1 151px,#6b1 157px,#717 163px,#682 169px,#6bd 172px,#757 176px,#70e 179px,#630 183px,#649 185px,#7c7 190px,#7d4 192px,#73d 194px,#5db 197px,#595 198px,#586 199px,#5b6 200px,#6b3 202px,#87e 205px,#8d2 206px,#8ea 207px,#8bf 208px,#851 209px,#6d9 211px,#538 213px,#4b1 214px,#485 215px,#4c2 216px,#561 217px,#756 219px,#951 221px,#a08 222px,#a79 223px,#a9b 224px,#a68 225px,#9de 226px,#903 227px,#698 229px,#54a 230px,#42e 231px,#37c 232px,#35a 233px,#3d4 234px,#4d5 235px,#920 238px,#a66 239px,#b6d 240px,#c2e 241px,#ca7 242px,#cd7 243px,#cbe 244px,#c5a 245px,#ba5 246px,#a9e 247px,#947 248px,#44b 251px,#2fc 252px,#24a 253px,#25d 254px,#332 255px,#49e 256px,#9dc 259px,#b4f 260px,#c7e 261px,#d6b 262px,#ea8 264px,#f54 266px,#fdc 270px,#fff 283px,#fe8 325px,#f83 329px,#f01 331px,#e0d 333px,#d52 334px,#c5d 335px,#b26 336px,#9aa 337px,#46c 340px,#30f 341px,#250 342px,#255 343px,#31d 344px,#47b 345px,#975 348px,#ac3 349px,#bbf 350px,#c6a 351px,#cc5 352px,#cd5 353px,#c9c 354px,#c1b 355px,#b51 356px,#a42 357px,#77f 359px,#4b0 361px,#3bd 362px,#355 363px,#38a 364px,#44c 365px,#6c1 367px,#922 369px,#9f3 370px,#a72 371px,#a9b 372px,#a6f 373px,#9f5 374px,#937 375px,#62a 378px,#549 379px,#4b5 380px,#484 381px,#4bd 382px,#54d 383px,#7c0 386px,#862 387px,#8c8 388px,#8eb 389px,#8cb 390px,#7e8 392px,#610 395px,#5ad 396px,#585 397px,#59b 398px,#657 400px,#7a4 403px,#7e1 405px,#780 407px,#643 411px,#632 413px,#742 418px,#73d 421px,#682 426px,#6d6 430px,#715 434px,#6ac 440px,#6f8 447px,#6c6 454px,#6e0 461px,#6d9 595px)"></i>
<i style="top:86px;background:linear-gradient(90deg,#6d9 0,#6e3 136px,#6ce 146px,#6eb 152px,#6af 157px,#712 164px,#684 170px,#6d0 173px,#755 177px,#6f2 180px,#645 183px,#63a 185px,#703 188px,#7d0 191px,#7b5 193px,#701 195px,#5ba 198px,#590 199px,#5a0 200px,#5ed 201px,#83b 205px,#8a5 206px,#8d9 207px,#8ce 208px,#87f 209px,#736 211px,#58f 213px,#4eb 214px,#496 215px,#4a4 216px,#518 217px,#5e1 218px,#8e7 221px,#9b6 222px,#a44 223px,#a87 224px,#a78 225px,#a12 226px,#958 227px,#854 228px,#496 231px,#3b7 232px,#35c 233px,#39a 234px,#46a 235px,#5a6 236px,#9ec 239px,#b0b 240px,#be7 241px,#c7a 242px,#cc4 243px,#cc5 244px,#c7b 245px,#be2 246px,#af7 247px,#9ba 248px,#680 250px,#4cd 251px,#35b 252px,#271 253px,#243 254px,#2de 255px,#420 256px,#958 259px,#ae0 260px,#c24 261px,#d26 262px,#dec 263px,#eee 265px,#fa3 268px,#ffe 274px,#ff0 324px,#f9e 328px,#ee3 331px,#dd7 333px,#d0a 334px,#c01 335px,#ab4 336px,#925 337px,#594 339px,#3f2 340px,#2c1 341px,#23e 342px,#284 343px,#381 344px,#4ff 345px,#867 347px,#9e4 348px,#b18 349px,#bf9 350px,#c88 351px,#cc8 352px,#cbf 353px,#c6c 354px,#bd0 355px,#aec 356px,#9c5 357px,#57c 360px,#44a 361px,#38a 362px,#35f 363px,#3cc 364px,#4b8 365px,#877 368px,#973 369px,#a23 370px,#a7e 371px,#a84 372px,#a37 373px,#9a0 374px,#7cc 376px,#5c5 378px,#505 379px,#49d 380px,#49b 381px,#4fc 382px,#679 384px,#807 386px,#88c 387px,#8d3 388px,#8d6 389px,#89b 390px,#797 392px,#65a 394px,#5e1 395px,#59b 396px,#592 397px,#620 399px,#775 402px,#7d9 404px,#79c 406px,#65f 410px,#631 412px,#6ba 415px,#74c 418px,#725 421px,#68b 425px,#6a8 428px,#713 432px,#6b1 440px,#6f2 447px,#6cd 454px,#6da 461px,#6d9 595px)"></i>
<i style="top:88px;background:linear-gradient(90deg,#6d9 0,#6e4 137px,#6d2 147px,#6e6 153px,#6b3 158px,#713 164px,#689 171px,#74c 177px,#70f 180px,#63e 184px,#650 186px,#7b5 191px,#7c3 193px,#735 195px,#5e8 198px,#5a7 199px,#59a 200px,#5c8 201px,#6ba 203px,#86d 206px,#8bb 207px,#8cd 208px,#89f 209px,#830 210px,#6bf 212px,#534 214px,#4bb 215px,#49c 216px,#4e2 217px,#586 218px,#959 222px,#a03 223px,#a66 224px,#a79 225px,#a37 226px,#9a0 227px,#8ba 228px,#509 231px,#406 232px,#375 233px,#377 234px,#411 235px,#527 236px,#96a 239px,#aa0 240px,#b95 241px,#c42 242px,#ca6 243px,#cc2 244px,#c92 245px,#c15 246px,#b46 247px,#a24 248px,#8b6 249px,#3c7 252px,#2ac 253px,#23f 254px,#29a 255px,#3ac 256px,#53d 257px,#8ce 259px,#a69 260px,#bc3 261px,#cda 262px,#db2 263px,#ece 265px,#f97 268px,#ffd 274px,#fec 324px,#f92 328px,#ec2 331px,#d9b 333px,#cbc 334px,#b9d 335px,#a3b 336px,#6cf 338px,#508 339px,#383 340px,#285 341px,#242 342px,#2c6 343px,#3f2 344px,#8e5 347px,#a4c 348px,#b64 349px,#c28 350px,#c9c 351px,#cc2 352px,#c9e 353px,#c31 354px,#b7b 355px,#a7e 356px,#7d6 358px,#500 360px,#3f7 361px,#36f 362px,#37f 363px,#420 364px,#52e 365px,#7b9 367px,#8d9 368px,#9b7 369px,#a43 370px,#a7b 371px,#a5e 372px,#9f2 373px,#940 374px,#56e 378px,#4d4 379px,#49a 380px,#4c5 381px,#547 382px,#7a0 385px,#841 386px,#8a8 387px,#8cf 388px,#8b5 389px,#7e0 391px,#61f 394px,#5c0 395px,#598 396px,#5ac 397px,#65d 399px,#796 402px,#7ce 404px,#771 406px,#64b 410px,#641 412px,#73c 417px,#731 420px,#688 425px,#713 432px,#6b1 439px,#6f3 446px,#6cb 453px,#6d5 461px,#6d9 595px)"></i>
<i style="top:90px;background:linear-gradient(90deg,#6d9 0,#6e4 138px,#6d6 148px,#6e1 154px,#6b7 159px,#70e 165px,#68c 171px,#6ca 174px,#74a 178px,#6f5 181px,#63d 185px,#66b 187px,#792 191px,#7c6 193px,#760 195px,#5ca 199px,#5a2 200px,#5b3 201px,#675 203px,#82d 206px,#890 207px,#8bf 208px,#8af 209px,#85f 210px,#71a 212px,#586 214px,#4f0 215px,#4a8 216px,#4c1 217px,#53b 218px,#6fe 220px,#8f4 222px,#9b5 223px,#a36 224px,#a6b 225px,#a4d 226px,#9d9 227px,#914 228px,#6ca 230px,#465 232px,#3a4 233px,#36c 234px,#3cc 235px,#4b5 236px,#772 238px,#a2b 240px,#b39 241px,#c00 242px,#c7f 243px,#cb5 244px,#ca0 245px,#c3e 246px,#b8c 247px,#a86 248px,#930 249px,#43f 252px,#2f8 253px,#24f 254px,#26a 255px,#346 256px,#4b5 257px,#9ec 260px,#b5b 261px,#c87 262px,#d72 263px,#eab 265px,#f89 268px,#ff4 273px,#fe9 324px,#f84 328px,#f03 330px,#e12 332px,#d59 333px,#c67 334px,#b33 335px,#9bb 336px,#483 339px,#322 340px,#25c 341px,#25a 342px,#319 343px,#46e 344px,#95d 347px,#aaa 348px,#ba6 349px,#c4e 350px,#ca7 351px,#cb2 352px,#c74 353px,#bec 354px,#b1c 355px,#a06 356px,#5d2 359px,#493 360px,#3b8 361px,#36a 362px,#3b5 363px,#484 364px,#82a 367px,#930 368px,#9ec 369px,#a55 370px,#a69 371px,#a2a 372px,#9a1 373px,#7e5 375px,#5ea 377px,#528 378px,#4b8 379px,#4ac 380px,#4ff 381px,#664 383px,#7e7 385px,#86c 386px,#8b4 387px,#8bc 388px,#887 389px,#792 391px,#5f1 394px,#5ae 395px,#5a4 396px,#62a 398px,#76b 401px,#7c7 403px,#78b 405px,#664 409px,#63e 411px,#745 417px,#719 420px,#68f 424px,#6d0 428px,#70e 432px,#6b2 438px,#6ec 446px,#6d2 453px,#6d9 595px)"></i>
<i style="top:92px;background:linear-gradient(90deg,#6d9 0,#6cf 144px,#6e9 154px,#6bd 160px,#709 166px,#68f 172px,#745 179px,#6dc 182px,#64b 185px,#657 187px,#7a3 192px,#7b3 194px,#72f 196px,#5f6 199px,#5b8 200px,#5ad 201px,#5d9 202px,#6c0 204px,#85b 207px,#8a3 208px,#8b1 209px,#87f 210px,#810 211px,#534 215px,#4c7 216px,#4b4 217px,#503 218px,#5aa 219px,#95d 223px,#9f9 224px,#a4e 225px,#a53 226px,#a04 227px,#960 228px,#871 229px,#4d0 232px,#3e8 233px,#378 234px,#39c 235px,#452 236px,#579 237px,#9ae 240px,#ad3 241px,#bb5 242px,#c4e 243px,#c9f 244px,#ca5 245px,#c5e 246px,#bc8 247px,#ade 248px,#9a3 249px,#66e 251px,#4c0 252px,#355 253px,#274 254px,#24f 255px,#2ef 256px,#435 257px,#968 260px,#aec 261px,#c2e 262px,#d2d 263px,#e84 265px,#f40 267px,#fd7 271px,#fff 281px,#fe4 324px,#f74 328px,#ee5 330px,#ddc 332px,#d11 333px,#c0b 334px,#ac1 335px,#935 336px,#407 339px,#2d2 340px,#249 341px,#286 342px,#37b 343px,#4f1 344px,#851 346px,#9cd 347px,#aff 348px,#bde 349px,#c6b 350px,#ca8 351px,#c99 352px,#c40 353px,#b9d 354px,#ab3 355px,#987 356px,#551 359px,#436 360px,#390 361px,#37e 362px,#3fe 363px,#4f3 364px,#891 367px,#978 368px,#a12 369px,#a57 370px,#a48 371px,#9ea 372px,#946 373px,#592 377px,#4f4 378px,#4b1 379px,#4d0 380px,#546 381px,#783 384px,#821 385px,#889 386px,#8b2 387px,#89d 388px,#7d6 390px,#62c 393px,#5d1 394px,#5ab 395px,#600 397px,#78a 401px,#7bc 403px,#762 405px,#653 409px,#64e 411px,#737 416px,#725 419px,#698 423px,#6a9 426px,#70d 431px,#6b6 438px,#6ee 445px,#6d0 452px,#6d9 595px)"></i>
<i style="top:94px;background:linear-gradient(90deg,#6d9 0,#6d5 144px,#6e4 155px,#6c3 161px,#70b 166px,#695 173px,#740 179px,#6f9 182px,#649 186px,#66f 188px,#7ac 193px,#798 195px,#690 198px,#5da 200px,#5b5 201px,#5c5 202px,#67d 204px,#81e 207px,#87b 208px,#8a4 209px,#891 210px,#840 211px,#702 213px,#582 215px,#4f8 216px,#4bc 217px,#4de 218px,#55e 219px,#71b 221px,#8fc 223px,#9b1 224px,#a24 225px,#a4b 226px,#a1f 227px,#99f 228px,#8cf 229px,#681 231px,#545 232px,#43d 233px,#39b 234px,#384 235px,#403 236px,#501 237px,#92a 240px,#a63 241px,#b5f 242px,#c13 243px,#c7e 244px,#c9f 245px,#c74 246px,#bfa 247px,#b2d 248px,#a0d 249px,#8a0 250px,#547 252px,#3c0 253px,#2ad 254px,#248 255px,#2aa 256px,#3c0 257px,#552 258px,#8df 260px,#a76 261px,#bcd 262px,#ce1 263px,#db7 264px,#ed0 266px,#f97 269px,#ffd 275px,#fec 323px,#f92 327px,#ec4 330px,#da0 332px,#cc3 333px,#ba7 334px,#a48 335px,#6e3 337px,#51d 338px,#397 339px,#294 340px,#24a 341px,#2c6 342px,#3ea 343px,#8d0 346px,#a34 347px,#b4a 348px,#c0d 349px,#c7d 350px,#c9f 351px,#c75 352px,#c01 353px,#b44 354px,#a41 355px,#798 357px,#4dd 359px,#3ec 360px,#37f 361px,#3a7 362px,#458 363px,#6a8 365px,#8ec 367px,#9b3 368px,#a29 369px,#a4b 370px,#a1a 371px,#99e 372px,#7f9 374px,#60c 376px,#54a 377px,#4d5 378px,#4be 379px,#505 380px,#653 382px,#7c9 384px,#84d 385px,#897 386px,#8a2 387px,#872 388px,#78c 390px,#600 393px,#5c0 394px,#5b7 395px,#634 397px,#761 400px,#7b5 402px,#77b 404px,#66a 408px,#64b 410px,#73d 416px,#70d 419px,#694 423px,#70b 430px,#6b6 437px,#6ef 444px,#6ce 451px,#6d9 595px)"></i>
<i style="top:96px;background:linear-gradient(90deg,#6d9 0,#6d3 145px,#6e0 156px,#6bc 161px,#706 167px,#695 173px,#73c 180px,#6e1 183px,#659 186px,#65e 188px,#792 193px,#7a3 195px,#72a 197px,#604 200px,#5bf 202px,#5e9 203px,#6c3 205px,#848 208px,#88a 209px,#894 210px,#861 211px,#753 213px,#537 216px,#4d7 217px,#4ce 218px,#523 219px,#5cb 220px,#894 223px,#95d 224px,#9ec 225px,#a34 226px,#a2b 227px,#9cf 228px,#920 229px,#829 230px,#4a0 233px,#3d3 234px,#384 235px,#3c8 236px,#497 237px,#5cb 238px,#9eb 241px,#afe 242px,#bcd 243px,#c54 244px,#c90 245px,#c80 246px,#c22 247px,#b72 248px,#a6f 249px,#91a 250px,#436 253px,#2f8 254px,#256 255px,#278 256px,#359 257px,#4c9 258px,#9f9 261px,#b65 262px,#c8e 263px,#d77 264px,#ead 266px,#f89 269px,#ff4 274px,#fe9 323px,#f84 327px,#f04 329px,#e16 331px,#d5e 332px,#c6e 333px,#b3d 334px,#9c9 335px,#497 338px,#335 339px,#26a 340px,#260 341px,#317 342px,#465 343px,#947 346px,#a92 347px,#b8c 348px,#c32 349px,#c86 350px,#c8c 351px,#c47 352px,#bb8 353px,#ae1 354px,#9c6 355px,#5a2 358px,#478 359px,#3b8 360px,#385 361px,#3e6 362px,#4c0 363px,#84a 366px,#939 367px,#9df 368px,#a31 369px,#a2f 370px,#9df 371px,#947 372px,#787 374px,#5b3 376px,#514 377px,#4ca 378px,#4de 379px,#547 380px,#803 384px,#86a 385px,#896 386px,#885 387px,#7cb 389px,#637 392px,#5e1 393px,#5be 394px,#60e 396px,#77e 400px,#7aa 402px,#70c 405px,#65b 408px,#65c 410px,#732 415px,#719 418px,#69b 422px,#6cd 426px,#707 430px,#6bb 437px,#6e9 444px,#6d4 451px,#6d9 595px)"></i>
<i style="top:98px;background:linear-gradient(90deg,#6d9 0,#6d1 146px,#6db 157px,#6c1 162px,#701 168px,#699 174px,#736 180px,#6fb 183px,#656 187px,#673 189px,#79a 194px,#78b 196px,#695 199px,#5ea 201px,#5c8 202px,#5d6 203px,#684 205px,#80e 208px,#864 209px,#889 210px,#874 211px,#822 212px,#6ec 214px,#580 216px,#502 217px,#4d1 218px,#4fc 219px,#57e 220px,#734 222px,#900 224px,#9a8 225px,#a0f 226px,#a28 227px,#9f0 228px,#964 229px,#88b 230px,#50f 233px,#41e 234px,#39a 235px,#3a4 236px,#43e 237px,#54d 238px,#96b 241px,#a95 242px,#b7d 243px,#c1f 244px,#c76 245px,#c82 246px,#c40 247px,#bad 248px,#ac6 249px,#98d 250px,#65f 252px,#4b6 253px,#353 254px,#279 255px,#25b 256px,#301 257px,#448 258px,#976 261px,#af6 262px,#c35 263px,#d32 264px,#e86 266px,#f41 268px,#fd7 272px,#fff 282px,#fe4 323px,#f74 327px,#ee6 329px,#ddf 331px,#d16 332px,#c12 333px,#acb 334px,#943 335px,#41a 338px,#2e3 339px,#254 340px,#28a 341px,#377 342px,#4e7 343px,#83e 345px,#9b7 346px,#ae7 347px,#bc3 348px,#c4c 349px,#c84 350px,#c6f 351px,#c0f 352px,#b65 353px,#a74 354px,#7e6 356px,#528 358px,#425 359px,#39b 360px,#3a3 361px,#436 362px,#531 363px,#8a9 366px,#979 367px,#9fb 368px,#a29 369px,#a06 370px,#997 371px,#80a 373px,#62b 375px,#56a 376px,#4f2 377px,#4d3 378px,#50e 379px,#645 381px,#7ae 383px,#82f 384px,#879 385px,#888 386px,#801 388px,#60e 392px,#5d2 393px,#5f2 395px,#759 399px,#7a5 401px,#76b 403px,#66e 407px,#658 409px,#736 415px,#6de 419px,#699 422px,#706 429px,#6ba 436px,#6ea 443px,#6d2 450px,#6d9 595px)"></i>
<i style="top:100px;background:linear-gradient(90deg,#6d9 0,#6d0 147px,#6e3 157px,#6c6 163px,#703 168px,#6a0 175px,#733 181px,#6e7 184px,#659 188px,#6c6 191px,#781 194px,#795 196px,#725 198px,#613 201px,#5d1 203px,#64e 205px,#835 209px,#871 210px,#878 211px,#844 212px,#73c 214px,#53d 217px,#4e8 218px,#4e8 219px,#542 220px,#5eb 221px,#89c 224px,#959 225px,#9dc 226px,#a16 227px,#a01 228px,#999 229px,#8e0 230px,#6b8 232px,#478 234px,#3c7 235px,#398 236px,#3fa 237px,#4dd 238px,#782 240px,#a22 242px,#b23 243px,#bdf 244px,#c52 245px,#c79 246px,#c54 247px,#bde 248px,#b14 249px,#9f7 250px,#88d 251px,#53c 253px,#3bc 254px,#2b0 255px,#252 256px,#2ba 257px,#3d3 258px,#564 259px,#8ec 261px,#a80 262px,#bd5 263px,#ce6 264px,#dba 265px,#ed2 267px,#f97 270px,#ffc 276px,#fec 322px,#f92 326px,#ec5 329px,#da3 331px,#cc8 332px,#baf 333px,#a53 334px,#6f4 336px,#530 337px,#3a9 338px,#2a4 339px,#253 340px,#2c8 341px,#3e6 342px,#8bc 345px,#a1e 346px,#b31 347px,#bf0 348px,#c5c 349px,#c79 350px,#c48 351px,#bcc 352px,#b08 353px,#9fe 354px,#5f1 357px,#4bc 358px,#3e6 359px,#396 360px,#3d6 361px,#495 362px,#804 365px,#8fa 366px,#9aa 367px,#a08 368px,#a13 369px,#9cf 370px,#945 371px,#79b 373px,#5d3 375px,#533 376px,#4e3 377px,#4ee 378px,#54c 379px,#7e7 383px,#84d 384px,#87a 385px,#86d 386px,#7bf 388px,#642 391px,#5d0 393px,#61c 395px,#773 399px,#799 401px,#702 404px,#662 407px,#68d 410px,#72d 414px,#70e 417px,#69e 421px,#701 429px,#6c1 436px,#6e4 443px,#6de 451px,#6d9 595px)"></i>
<i style="top:102px;background:linear-gradient(90deg,#6d9 0,#6cb 149px,#6df 158px,#6cc 164px,#6ff 169px,#69e 175px,#72e 182px,#662 188px,#678 190px,#789 195px,#77f 197px,#69c 200px,#5fb 202px,#5e7 204px,#68a 206px,#7fd 209px,#86e 211px,#857 212px,#806 213px,#6da 215px,#582 217px,#510 218px,#4e8 219px,#519 220px,#59e 221px,#900 225px,#99c 226px,#9f6 227px,#a03 228px,#9be 229px,#928 230px,#848 231px,#4e0 234px,#407 235px,#3a3 236px,#3cb 237px,#47c 238px,#59a 239px,#9a6 242px,#abf 243px,#b95 244px,#c23 245px,#c67 246px,#c5d 247px,#c04 248px,#b58 249px,#a58 250px,#907 251px,#431 254px,#2f9 255px,#25f 256px,#287 257px,#36a 258px,#4db 259px,#a03 262px,#b6d 263px,#c93 264px,#d7a 265px,#eae 267px,#f89 270px,#ff4 275px,#fe8 322px,#f84 326px,#f05 328px,#e18 330px,#d61 331px,#c73 332px,#b45 333px,#9d3 334px,#4a9 337px,#346 338px,#278 339px,#268 340px,#318 341px,#45f 342px,#933 345px,#a7b 346px,#b71 347px,#c13 348px,#c62 349px,#c62 350px,#c16 351px,#b7f 352px,#aa0 353px,#981 354px,#573 357px,#461 358px,#3be 359px,#3a7 360px,#41c 361px,#4ff 362px,#866 365px,#93e 366px,#9cb 367px,#a06 368px,#9ef 369px,#98d 370px,#817 372px,#648 374px,#58a 375px,#50f 376px,#4e9 377px,#51a 378px,#63b 380px,#795 382px,#813 383px,#85d 384px,#86d 385px,#7f1 387px,#61b 391px,#5db 393px,#64b 395px,#751 398px,#795 400px,#71f 403px,#674 406px,#67f 409px,#721 413px,#717 416px,#69e 421px,#701 428px,#6bf 435px,#6e5 442px,#6dd 450px,#6d9 595px)"></i>
<i style="top:104px;background:linear-gradient(90deg,#6d9 0,#6e0 154px,#6d1 165px,#6fa 170px,#6a3 176px,#72b 182px,#6ec 185px,#664 189px,#6c1 192px,#770 195px,#787 197px,#722 199px,#622 202px,#5e3 204px,#657 206px,#820 210px,#858 211px,#85c 212px,#828 213px,#728 215px,#546 218px,#4fb 219px,#503 220px,#561 221px,#6df 223px,#8a0 225px,#951 226px,#9c8 227px,#9f6 228px,#9d5 229px,#961 230px,#8a1 231px,#678 233px,#459 235px,#3c4 236px,#3b3 237px,#42f 238px,#524 239px,#924 242px,#a51 243px,#b41 244px,#bea 245px,#c49 246px,#c5c 247px,#c20 248px,#b91 249px,#aae 250px,#979 251px,#653 253px,#4b0 254px,#353 255px,#281 256px,#268 257px,#311 258px,#459 259px,#97f 262px,#afe 263px,#c3a 264px,#d34 265px,#e87 267px,#f41 269px,#fd6 273px,#fff 283px,#fe4 322px,#f74 326px,#ee7 328px,#de1 330px,#d19 331px,#c17 332px,#ad3 333px,#94d 334px,#42b 337px,#2f3 338px,#260 339px,#291 340px,#377 341px,#4e0 342px,#82d 344px,#9a2 345px,#ace 346px,#ba7 347px,#c2b 348px,#c5e 349px,#c42 350px,#bda 351px,#b27 352px,#a30 353px,#7a1 355px,#501 357px,#419 358px,#3ad 359px,#3cf 360px,#472 361px,#69c 363px,#8bc 365px,#974 366px,#9dd 367px,#9f4 368px,#9bd 369px,#93f 370px,#7ab 372px,#5f1 374px,#551 375px,#4fe 376px,#500 377px,#553 378px,#7cd 382px,#831 383px,#85f 384px,#854 385px,#7b2 387px,#64b 390px,#5e2 392px,#62a 394px,#769 398px,#789 400px,#66a 406px,#699 409px,#727 413px,#6e4 417px,#6a3 421px,#700 427px,#6c6 435px,#6df 442px,#6d9 595px)"></i>
<i style="top:106px;background:linear-gradient(90deg,#6d9 0,#6e2 155px,#6c9 165px,#6f5 171px,#6a9 177px,#727 183px,#6ae 187px,#669 190px,#6dd 193px,#779 196px,#773 198px,#6a3 201px,#60c 203px,#5f7 205px,#68e 207px,#7eb 210px,#854 212px,#83c 213px,#76c 215px,#587 218px,#51f 219px,#500 220px,#536 221px,#5bb 222px,#8fd 226px,#98d 227px,#9da 228px,#9db 229px,#98c 230px,#8ed 231px,#807 232px,#4b9 235px,#3fa 236px,#3b2 237px,#3f6 238px,#4bd 239px,#5e4 240px,#9db 243px,#ae2 244px,#ba6 245px,#c21 246px,#c50 247px,#c31 248px,#bc0 249px,#afb 250px,#9e2 251px,#87c 252px,#536 254px,#3bc 255px,#2b6 256px,#25e 257px,#2ca 258px,#3e3 259px,#573 260px,#8f6 262px,#a87 263px,#bd9 264px,#ce8 265px,#dbb 266px,#ed2 268px,#f97 271px,#ffc 277px,#fec 321px,#f92 325px,#ec5 328px,#da5 330px,#ccb 331px,#bb4 332px,#a5a 333px,#701 335px,#53f 336px,#3b9 337px,#2b3 338px,#25f 339px,#2cd 340px,#3e4 341px,#8ab 344px,#a08 345px,#b17 346px,#bd2 347px,#c39 348px,#c4e 349px,#c16 350px,#b92 351px,#ac6 352px,#9b7 353px,#5bd 356px,#49f 357px,#3e7 358px,#3b4 359px,#40b 360px,#4d6 361px,#826 364px,#904 365px,#99a 366px,#9e0 367px,#9d5 368px,#97f 369px,#820 371px,#5a7 374px,#52b 375px,#500 376px,#528 377px,#634 379px,#77e 381px,#7f9 382px,#842 383px,#853 384px,#7e0 386px,#627 390px,#5ed 392px,#657 394px,#74a 397px,#785 399px,#713 402px,#679 405px,#68c 408px,#71e 412px,#70c 415px,#6a4 420px,#6fc 427px,#6c5 434px,#6e1 441px,#6d9 595px)"></i>
<i style="top:108px;background:linear-gradient(90deg,#6d9 0,#6e3 156px,#6cd 166px,#6ef 172px,#6a7 177px,#721 184px,#66e 190px,#6bd 193px,#77b 197px,#75a 199px,#5ff 204px,#615 206px,#6c8 208px,#80c 211px,#83f 212px,#841 213px,#80e 214px,#716 216px,#551 219px,#510 220px,#51e 221px,#57e 222px,#6f3 224px,#8a0 226px,#946 227px,#9b1 228px,#9d3 229px,#9a7 230px,#92a 231px,#863 232px,#523 235px,#442 236px,#3c9 237px,#3d4 238px,#467 239px,#56a 240px,#95c 243px,#a7a 244px,#b58 245px,#bee 246px,#c39 247px,#c37 248px,#be4 249px,#b3d 250px,#a41 251px,#8f5 252px,#430 255px,#2fe 256px,#26a 257px,#295 258px,#37a 259px,#4e9 260px,#a0a 263px,#b71 264px,#c95 265px,#d7b 266px,#eae 268px,#f89 271px,#ff3 276px,#fe8 321px,#f83 325px,#f04 327px,#e18 329px,#d63 330px,#c76 331px,#b49 332px,#9da 333px,#4b8 336px,#355 337px,#286 338px,#272 339px,#31c 340px,#45d 341px,#921 344px,#a64 345px,#b56 346px,#bf2 347px,#c3b 348px,#c34 349px,#be0 350px,#b40 351px,#a5a 352px,#7e7 354px,#546 356px,#44f 357px,#3cb 358px,#3d1 359px,#458 360px,#543 361px,#87e 364px,#93d 365px,#9b0 366px,#9d3 367px,#9a7 368px,#935 369px,#7b7 371px,#60c 373px,#56e 374px,#518 375px,#514 376px,#55e 377px,#7b5 381px,#817 382px,#844 383px,#802 385px,#654 389px,#5f3 391px,#639 393px,#75f 397px,#779 399px,#672 405px,#6a4 408px,#722 412px,#6a7 419px,#6fb 426px,#6c4 433px,#6db 441px,#6d9 595px)"></i>
<i style="top:110px;background:linear-gradient(90deg,#6d9 0,#6e4 157px,#6d2 167px,#6f5 172px,#6ab 178px,#720 184px,#6b8 188px,#673 191px,#6d6 194px,#769 197px,#768 199px,#6aa 202px,#61c 204px,#607 206px,#692 208px,#7d9 211px,#83a 213px,#821 214px,#759 216px,#58e 219px,#530 220px,#519 221px,#552 222px,#5d7 223px,#8f6 227px,#97a 228px,#9bc 229px,#9b2 230px,#959 231px,#8b2 232px,#6b2 234px,#49a 236px,#3f4 237px,#3c9 238px,#426 239px,#4fe 240px,#784 242px,#a08 244px,#afe 245px,#bb0 246px,#c18 247px,#c32 248px,#bfd 249px,#b74 250px,#a97 251px,#966 252px,#64b 254px,#4ae 255px,#357 256px,#28b 257px,#276 258px,#320 259px,#468 260px,#986 263px,#b01 264px,#c3c 265px,#d35 266px,#e86 268px,#f40 270px,#fd6 274px,#fff 284px,#fe4 321px,#f73 325px,#ee6 327px,#de1 329px,#d1a 330px,#c19 331px,#ad7 332px,#954 333px,#43a 336px,#302 337px,#26e 338px,#29a 339px,#37b 340px,#4dd 341px,#81e 343px,#98f 344px,#ab6 345px,#b89 346px,#c08 347px,#c33 348px,#c0f 349px,#b9f 350px,#ae4 351px,#9e6 352px,#605 355px,#4de 356px,#414 357px,#3c7 358px,#402 359px,#4b4 360px,#7e7 363px,#8ca 364px,#968 365px,#9b8 366px,#9b8 367px,#96d 368px,#826 370px,#5c3 373px,#547 374px,#518 375px,#538 376px,#630 378px,#76a 380px,#827 382px,#83a 383px,#7ce 385px,#632 389px,#5ff 391px,#664 393px,#744 396px,#776 398px,#708 401px,#67e 404px,#697 407px,#71a 411px,#6e7 415px,#6aa 419px,#6f6 426px,#6ca 433px,#6dc 440px,#6d9 595px)"></i>
<i style="top:112px;background:linear-gradient(90deg,#6d9 0,#6e5 158px,#6d6 168px,#6f0 173px,#6b1 179px,#71b 185px,#679 191px,#6ba 194px,#76b 198px,#752 200px,#611 205px,#622 207px,#737 210px,#7f7 212px,#828 214px,#791 216px,#55f 220px,#526 221px,#539 222px,#59a 223px,#705 225px,#89d 227px,#938 228px,#997 229px,#9ae 230px,#978 231px,#8f3 232px,#826 233px,#4fd 236px,#433 237px,#3d5 238px,#3fa 239px,#4a2 240px,#5af 241px,#98e 244px,#a9b 245px,#b67 246px,#beb 247px,#c22 248px,#c0b 249px,#ba1 250px,#ae2 251px,#9ce 252px,#86d 253px,#533 255px,#3bf 256px,#2bf 257px,#26b 258px,#2d8 259px,#3f1 260px,#57f 261px,#8fc 263px,#a8a 264px,#bda 265px,#ce9 266px,#dbb 267px,#ed1 269px,#f96 272px,#ffc 278px,#feb 320px,#f91 324px,#ec4 327px,#da4 329px,#ccb 330px,#bb5 331px,#a5d 332px,#70a 334px,#54b 335px,#3c8 336px,#2c1 337px,#26b 338px,#2d6 339px,#3e7 340px,#89b 343px,#9f3 344px,#afd 345px,#bb2 346px,#c12 347px,#c20 348px,#bdf 349px,#b52 350px,#a7e 351px,#827 353px,#58b 355px,#487 356px,#3ee 357px,#3d9 358px,#447 359px,#51b 360px,#842 363px,#907 364px,#983 365px,#9af 366px,#98f 367px,#928 368px,#7c1 370px,#625 372px,#58a 373px,#533 374px,#529 375px,#56a 376px,#7a0 380px,#7fe 381px,#82a 382px,#7ee 384px,#65c 388px,#604 390px,#648 392px,#757 396px,#769 398px,#679 404px,#6af 407px,#71c 411px,#6ab 418px,#6f6 425px,#6c8 432px,#6d7 440px,#6d9 595px)"></i>
<i style="top:114px;background:linear-gradient(90deg,#6d9 0,#6e5 159px,#6ce 168px,#6eb 174px,#6af 179px,#714 186px,#67c 192px,#6d0 195px,#759 198px,#75e 200px,#62d 205px,#615 207px,#695 209px,#7c7 212px,#821 214px,#808 215px,#748 217px,#598 220px,#543 221px,#532 222px,#56e 223px,#5f0 224px,#8ec 228px,#964 229px,#99b 230px,#988 231px,#925 232px,#878 233px,#67c 235px,#483 237px,#3f6 238px,#3e5 239px,#459 240px,#53f 241px,#90e 244px,#a2f 245px,#b14 246px,#bb3 247px,#c08 248px,#c0d 249px,#bc2 250px,#b21 251px,#a2c 252px,#8e5 253px,#432 256px,#307 257px,#276 258px,#2a4 259px,#388 260px,#4f5 261px,#a0c 264px,#b72 265px,#c95 266px,#d7a 267px,#eac 269px,#f88 272px,#ff3 277px,#fe7 320px,#f82 324px,#f03 326px,#e16 328px,#d61 329px,#c75 330px,#b4a 331px,#9dd 332px,#4c4 335px,#364 336px,#294 337px,#27e 338px,#324 339px,#45e 340px,#910 343px,#a4e 344px,#b39 345px,#bcf 346px,#c11 347px,#c01 348px,#ba4 349px,#afc 350px,#a0f 351px,#79b 353px,#51e 355px,#444 356px,#3e0 357px,#401 358px,#49a 359px,#7ac 362px,#891 363px,#935 364px,#98e 365px,#999 366px,#959 367px,#828 369px,#5dd 372px,#563 373px,#530 374px,#54a 375px,#62f 377px,#7c9 380px,#80e 381px,#803 383px,#63c 388px,#610 390px,#6bb 393px,#760 396px,#72f 399px,#683 403px,#6a3 406px,#716 410px,#6b0 418px,#6f0 425px,#6cf 432px,#6cf 441px,#6d9 595px)"></i>
<i style="top:116px;background:linear-gradient(90deg,#6d9 0,#6d5 164px,#6e9 171px,#6d6 176px,#6bf 181px,#715 186px,#682 193px,#75d 199px,#74a 201px,#622 206px,#62e 208px,#72e 211px,#7e2 213px,#80e 215px,#77e 217px,#56e 221px,#53d 222px,#554 223px,#5b4 224px,#713 226px,#897 228px,#926 229px,#97a 230px,#988 231px,#948 232px,#8bc 233px,#6ec 235px,#4df 237px,#42c 238px,#3e7 239px,#424 240px,#4dd 241px,#5f2 242px,#9b9 245px,#ab6 246px,#b70 247px,#be1 248px,#c05 249px,#bd7 250px,#b56 251px,#a7f 252px,#954 253px,#646 255px,#4b0 256px,#35f 257px,#297 258px,#284 259px,#32e 260px,#474 261px,#988 264px,#b01 265px,#c3b 266px,#d33 267px,#e84 269px,#f3e 271px,#fd5 275px,#fff 285px,#fee 319px,#f9d 323px,#ee4 326px,#ddf 328px,#d18 329px,#c18 330px,#ad7 331px,#957 332px,#446 335px,#310 336px,#27c 337px,#2a6 338px,#382 339px,#4de 340px,#812 342px,#97c 343px,#a9d 344px,#b6a 345px,#be1 346px,#c05 347px,#bd8 348px,#b5e 349px,#a9b 350px,#997 351px,#5cd 354px,#4c1 355px,#416 356px,#3e9 357px,#43c 358px,#4fa 359px,#809 362px,#8d1 363px,#954 364px,#98a 365px,#974 366px,#918 367px,#7c6 369px,#63c 371px,#5a5 372px,#54d 373px,#53f 374px,#578 375px,#78c 379px,#811 381px,#7da 383px,#663 387px,#614 389px,#656 391px,#74e 395px,#75b 397px,#681 403px,#715 410px,#6b1 417px,#6f1 424px,#6cd 431px,#6d0 440px,#6d9 595px)"></i>
<i style="top:118px;background:linear-gradient(90deg,#6d9 0,#6d3 165px,#6e0 176px,#6b8 181px,#710 187px,#685 193px,#6ca 196px,#75b 200px,#6fd 203px,#63d 206px,#624 208px,#697 210px,#7b4 213px,#808 215px,#7a9 217px,#5a4 221px,#557 222px,#54b 223px,#588 224px,#6b7 226px,#8de 229px,#94c 230px,#979 231px,#95c 232px,#8f2 233px,#841 234px,#545 237px,#473 238px,#3ff 239px,#407 240px,#48d 241px,#57e 242px,#93d 245px,#a4e 246px,#b22 247px,#bb0 248px,#bf0 249px,#be1 250px,#b7f 251px,#ac7 252px,#9ba 253px,#860 254px,#533 256px,#3c6 257px,#2cb 258px,#27a 259px,#2e7 260px,#3fd 261px,#588 262px,#8fe 264px,#a8a 265px,#bd9 266px,#ce6 267px,#db8 268px,#ece 270px,#f94 273px,#ffb 279px,#feb 319px,#f8f 323px,#ec2 326px,#da1 328px,#cc9 329px,#bb4 330px,#a5d 331px,#70f 333px,#554 334px,#3d4 335px,#2d0 336px,#279 337px,#2e1 338px,#3ed 339px,#88d 342px,#9df 343px,#ae2 344px,#b90 345px,#be8 346px,#bed 347px,#ba2 348px,#b0c 349px,#a30 350px,#7d8 352px,#55d 354px,#477 355px,#3ff 356px,#407 357px,#488 358px,#66b 360px,#859 362px,#903 363px,#963 364px,#977 365px,#942 366px,#827 368px,#5f5 371px,#57d 372px,#549 373px,#55d 374px,#630 376px,#7b4 379px,#808 381px,#7aa 383px,#646 387px,#621 389px,#756 395px,#722 398px,#689 402px,#6ce 406px,#710 410px,#6b2 416px,#6ea 424px,#6d4 431px,#6d9 595px)"></i>
<i style="top:120px;background:linear-gradient(90deg,#6d9 0,#6d1 166px,#6e8 176px,#6be 182px,#70a 188px,#689 194px,#70b 198px,#755 201px,#6de 204px,#632 207px,#63a 209px,#724 212px,#7cd 214px,#7f6 216px,#76d 218px,#5e2 221px,#57f 222px,#554 223px,#56d 224px,#5cd 225px,#71f 227px,#88e 229px,#912 230px,#95c 231px,#960 232px,#919 233px,#887 234px,#6b9 236px,#4c8 238px,#42c 239px,#400 240px,#452 241px,#518 242px,#777 244px,#9de 246px,#aca 247px,#b73 248px,#bd1 249px,#be0 250px,#b9d 251px,#b04 252px,#a16 253px,#8d6 254px,#439 257px,#313 258px,#285 259px,#2b2 260px,#394 261px,#4fe 262px,#a0b 265px,#b6f 266px,#c92 267px,#d76 268px,#ea9 270px,#f86 273px,#ff2 278px,#fe7 319px,#f80 323px,#f00 325px,#e13 327px,#d5e 328px,#c72 329px,#b48 330px,#9dc 331px,#4cd 334px,#371 335px,#2a3 336px,#28c 337px,#32f 338px,#464 339px,#901 342px,#a37 343px,#b1b 344px,#ba9 345px,#be2 346px,#bc9 347px,#b62 348px,#ab1 349px,#9bd 350px,#60d 353px,#4fb 354px,#441 355px,#3fe 356px,#439 357px,#4e1 358px,#7d2 361px,#89d 362px,#925 363px,#963 364px,#957 365px,#905 366px,#7c9 368px,#650 370px,#5be 371px,#567 372px,#556 373px,#589 374px,#77a 378px,#7f9 380px,#7c5 382px,#669 386px,#624 388px,#6a4 391px,#746 394px,#72f 397px,#694 401px,#6a4 404px,#70f 409px,#6b6 416px,#6ec 423px,#6d2 430px,#6d9 595px)"></i>
<i style="top:122px;background:linear-gradient(90deg,#6d9 0,#6d0 167px,#6e4 177px,#6c4 183px,#70c 188px,#690 195px,#74e 201px,#6fe 204px,#62f 208px,#656 210px,#7db 215px,#7da 217px,#72d 219px,#5b2 222px,#56c 223px,#564 224px,#5a1 225px,#6c6 227px,#8ce 230px,#932 231px,#955 232px,#930 233px,#8c0 234px,#80b 235px,#528 238px,#46b 239px,#40f 240px,#42c 241px,#4c3 242px,#5bc 243px,#966 246px,#a67 247px,#b2a 248px,#ba5 249px,#bd2 250px,#bae 251px,#b36 252px,#a67 253px,#944 254px,#645 256px,#4b6 257px,#36b 258px,#2a5 259px,#293 260px,#33b 261px,#47d 262px,#986 265px,#afe 266px,#c36 267px,#d2f 268px,#e80 270px,#f3b 272px,#fd4 276px,#fff 286px,#fee 318px,#f9b 322px,#ee1 325px,#dda 327px,#d14 328px,#c14 329px,#ad4 330px,#7a6 332px,#450 334px,#31e 335px,#28b 336px,#2b4 337px,#38d 338px,#4e3 339px,#808 341px,#96b 342px,#a84 343px,#b49 344px,#bb7 345px,#bd1 346px,#b9a 347px,#b16 348px,#a4b 349px,#80e 351px,#59a 353px,#4ab 354px,#422 355px,#414 356px,#47d 357px,#544 358px,#824 361px,#8d1 362px,#938 363px,#955 364px,#929 365px,#823 367px,#60b 370px,#596 371px,#561 372px,#571 373px,#634 375px,#7a1 378px,#7f0 380px,#798 382px,#650 386px,#631 388px,#74c 394px,#715 397px,#68f 401px,#70c 408px,#6b7 415px,#6ed 422px,#6d8 430px,#6d9 595px)"></i>
<i style="top:124px;background:linear-gradient(90deg,#6d9 0,#6cf 168px,#6e0 178px,#6bd 183px,#707 189px,#691 195px,#700 199px,#749 202px,#6e3 205px,#643 208px,#645 210px,#71b 213px,#7b8 215px,#7e0 217px,#75f 219px,#591 223px,#56b 224px,#587 225px,#5e4 226px,#882 230px,#8fc 231px,#93c 232px,#937 233px,#8e9 234px,#854 235px,#68b 237px,#4b9 239px,#433 240px,#41c 241px,#481 242px,#552 243px,#9fc 247px,#ad7 248px,#b6e 249px,#bb9 250px,#bb4 251px,#b5b 252px,#aac 253px,#9a7 254px,#856 255px,#539 257px,#3d1 258px,#2da 259px,#28a 260px,#2f5 261px,#407 262px,#58d 263px,#8fb 265px,#a86 266px,#bd3 267px,#ce0 268px,#db2 269px,#eca 271px,#f92 274px,#ffb 280px,#fea 318px,#f8d 322px,#ebd 325px,#d9c 327px,#cc3 328px,#bae 329px,#a59 330px,#711 332px,#55a 333px,#3df 334px,#2de 335px,#289 336px,#2f0 337px,#3f8 338px,#882 341px,#9cb 342px,#ac6 343px,#b6b 344px,#bb9 345px,#bb4 346px,#b60 347px,#ac0 348px,#9dd 349px,#534 353px,#46f 354px,#419 355px,#43d 356px,#4cf 357px,#79f 360px,#86a 361px,#8f7 362px,#93c 363px,#938 364px,#8f0 365px,#7c9 367px,#662 369px,#5d5 370px,#580 371px,#56d 372px,#59a 373px,#76b 377px,#7e2 379px,#7b1 381px,#66f 385px,#634 387px,#6ad 390px,#73e 393px,#722 396px,#697 400px,#6cb 404px,#708 408px,#6bc 415px,#6e6 422px,#6dd 430px,#6d9 595px)"></i>
<i style="top:126px;background:linear-gradient(90deg,#6d9 0,#6e1 174px,#6cf 180px,#6d0 185px,#701 190px,#696 196px,#741 202px,#700 205px,#63f 209px,#65e 211px,#7c5 216px,#7c5 218px,#723 220px,#5c1 223px,#582 224px,#57d 225px,#5b9 226px,#6d2 228px,#8bc 231px,#916 232px,#930 233px,#904 234px,#88f 235px,#6f3 237px,#512 239px,#469 240px,#423 241px,#454 242px,#4f9 243px,#5f7 244px,#988 247px,#a7a 248px,#b2c 249px,#b94 250px,#bae 251px,#b75 252px,#ae6 253px,#a00 254px,#8ca 255px,#444 258px,#322 259px,#296 260px,#2c2 261px,#39f 262px,#504 263px,#a06 266px,#b69 267px,#c8b 268px,#d70 269px,#ea4 271px,#f83 274px,#ff1 279px,#fe5 318px,#f7d 322px,#efc 324px,#e0d 326px,#d57 327px,#c6b 328px,#b41 329px,#9d7 330px,#4d4 333px,#37c 334px,#2b2 335px,#29d 336px,#33e 337px,#46e 338px,#8f3 341px,#a20 342px,#afc 343px,#b80 344px,#baf 345px,#b8b 346px,#b1a 347px,#a60 348px,#83f 350px,#5d5 352px,#4df 353px,#448 354px,#426 355px,#479 356px,#52c 357px,#7f2 360px,#8a1 361px,#90d 362px,#931 363px,#90e 364px,#81c 366px,#61f 369px,#5af 370px,#57a 371px,#586 372px,#63a 374px,#78f 377px,#7d9 379px,#786 381px,#659 385px,#641 387px,#72e 392px,#72b 395px,#695 400px,#707 407px,#6bc 414px,#6e8 421px,#6db 429px,#6d9 595px)"></i>
<i style="top:128px;background:linear-gradient(90deg,#6d9 0,#6e2 175px,#6c7 185px,#703 190px,#69d 197px,#73e 203px,#6e8 206px,#653 209px,#650 211px,#711 214px,#7c9 217px,#7a1 219px,#66b 222px,#5a4 224px,#583 225px,#59f 226px,#5f9 227px,#873 231px,#8e3 232px,#91b 233px,#90e 234px,#8bb 235px,#823 236px,#574 239px,#4b0 240px,#43f 241px,#43d 242px,#4b2 243px,#58b 244px,#90d 247px,#a13 248px,#ade 249px,#b63 250px,#b9b 251px,#b82 252px,#b13 253px,#a4e 254px,#934 255px,#648 257px,#4c0 258px,#37a 259px,#2b7 260px,#2a4 261px,#348 262px,#483 263px,#980 266px,#af6 267px,#c2e 268px,#d27 269px,#e7a 271px,#f37 273px,#fd2 277px,#fff 287px,#fed 317px,#f98 321px,#edc 324px,#dd4 326px,#d0c 327px,#c0c 328px,#acc 329px,#7a3 331px,#457 333px,#32b 334px,#29c 335px,#2c6 336px,#39c 337px,#4ed 338px,#801 340px,#95b 341px,#a6a 342px,#b25 343px,#b89 344px,#b98 345px,#b57 346px,#ac9 347px,#9f6 348px,#7ba 350px,#56d 352px,#49e 353px,#437 354px,#447 355px,#4c4 356px,#839 360px,#8c9 361px,#914 362px,#917 363px,#8d9 364px,#7c6 366px,#5eb 369px,#598 370px,#584 371px,#605 373px,#75d 376px,#7cc 378px,#79d 380px,#675 384px,#643 386px,#737 392px,#715 395px,#69c 399px,#701 407px,#6c2 414px,#6e1 421px,#6d9 595px)"></i>
<i style="top:130px;background:linear-gradient(90deg,#6d9 0,#6e4 176px,#6cd 186px,#6ff 191px,#69c 197px,#737 204px,#69a 208px,#64b 211px,#6e4 214px,#7b0 217px,#7b1 219px,#71a 221px,#5d2 224px,#598 225px,#595 226px,#5d0 227px,#6db 229px,#8a7 232px,#8f8 233px,#90a 234px,#8d8 235px,#860 236px,#6c9 238px,#503 240px,#46e 241px,#43c 242px,#47f 243px,#52e 244px,#75c 246px,#9a3 248px,#a86 249px,#b26 250px,#b7c 251px,#b82 252px,#b34 253px,#a8f 254px,#995 255px,#84d 256px,#3e1 259px,#2ed 260px,#29c 261px,#302 262px,#40f 263px,#58f 264px,#8f4 266px,#a7d 267px,#bca 268px,#cd8 269px,#dab 270px,#ec4 272px,#f8f 275px,#ffa 281px,#fe9 317px,#f8a 321px,#eb7 324px,#d94 326px,#cba 327px,#ba5 328px,#a50 329px,#55c 332px,#3e7 333px,#2ec 334px,#29c 335px,#303 336px,#407 337px,#878 340px,#9b8 341px,#aa8 342px,#b42 343px,#b86 344px,#b76 345px,#b16 346px,#a6e 347px,#86a 349px,#60d 351px,#514 352px,#471 353px,#43c 354px,#47b 355px,#51b 356px,#7c3 359px,#872 360px,#8e2 361px,#90c 362px,#8f1 363px,#813 365px,#632 368px,#5c6 369px,#592 370px,#59c 371px,#641 373px,#77f 376px,#7c3 378px,#774 380px,#661 384px,#651 386px,#729 391px,#71e 394px,#69c 399px,#701 406px,#6c1 413px,#6e3 420px,#6d9 595px)"></i>
<i style="top:132px;background:linear-gradient(90deg,#6d9 0,#6e5 177px,#6d2 187px,#6f9 192px,#6a1 198px,#733 204px,#6ec 207px,#650 211px,#680 213px,#790 217px,#7b5 219px,#746 221px,#5b8 225px,#59b 226px,#5b7 227px,#691 229px,#862 232px,#8c9 233px,#8f8 234px,#8e6 235px,#88e 236px,#7f5 237px,#55f 240px,#4ae 241px,#451 242px,#461 243px,#4e3 244px,#5c2 245px,#92d 248px,#a23 249px,#ade 250px,#b51 251px,#b76 252px,#b49 253px,#ac5 254px,#9ea 255px,#8be 256px,#453 259px,#335 260px,#2a9 261px,#2d1 262px,#3a9 263px,#506 264px,#9fc 267px,#b5e 268px,#c81 269px,#d67 270px,#e9d 272px,#f7f 275px,#ff0 280px,#fef 316px,#f7a 321px,#ef6 323px,#e05 325px,#d4e 326px,#c61 327px,#b36 328px,#9cd 329px,#4d7 332px,#386 333px,#2c3 334px,#2b1 335px,#351 336px,#47d 337px,#8e6 340px,#a09 341px,#ad9 342px,#b53 343px,#b76 344px,#b47 345px,#acb 346px,#a09 347px,#7e8 349px,#5a3 351px,#4cd 352px,#459 353px,#456 354px,#4bf 355px,#65d 357px,#80a 359px,#89c 360px,#8eb 361px,#8f6 362px,#8bf 363px,#7c0 365px,#5ff 368px,#5b0 369px,#59b 370px,#611 372px,#751 375px,#7b7 377px,#789 379px,#67a 383px,#651 385px,#72f 391px,#709 394px,#6a0 398px,#6fa 406px,#6c1 412px,#6dd 420px,#6d9 595px)"></i>
<i style="top:134px;background:linear-gradient(90deg,#6d9 0,#6e5 178px,#6ca 187px,#6f4 193px,#6a2 198px,#72e 205px,#6a6 209px,#658 212px,#6de 215px,#79b 218px,#79e 220px,#713 222px,#5e3 225px,#5ae 226px,#5ad 227px,#5e5 228px,#6e2 230px,#890 233px,#8d9 234px,#8e4 235px,#8ad 236px,#833 237px,#6a4 239px,#4fb 241px,#479 242px,#45a 243px,#4ab 244px,#562 245px,#9b9 249px,#a8b 250px,#b1a 251px,#b5e 252px,#b50 253px,#aee 254px,#a34 255px,#926 256px,#64e 258px,#4cf 259px,#38e 260px,#2cd 261px,#2b6 262px,#353 263px,#487 264px,#975 267px,#aea 268px,#c22 269px,#d1c 270px,#e72 272px,#f32 274px,#fd0 278px,#fff 287px,#feb 316px,#f95 320px,#ed5 323px,#dca 325px,#d01 326px,#c00 327px,#ac0 328px,#79b 330px,#45c 332px,#337 333px,#2af 334px,#2dc 335px,#3b0 336px,#4fb 337px,#7fc 339px,#94b 340px,#a4f 341px,#afe 342px,#b56 343px,#b5a 344px,#b0c 345px,#a75 346px,#99b 347px,#642 350px,#547 351px,#49b 352px,#458 353px,#483 354px,#510 355px,#797 358px,#845 359px,#8b7 360px,#8e6 361px,#8d3 362px,#807 364px,#642 367px,#5db 368px,#5aa 369px,#5b2 370px,#64a 372px,#771 375px,#7ae 377px,#763 379px,#669 383px,#660 385px,#723 390px,#712 393px,#6a2 398px,#6fb 405px,#6c7 412px,#6de 419px,#6d9 595px)"></i>
<i style="top:136px;background:linear-gradient(90deg,#6d9 0,#6e6 179px,#6ce 188px,#6ed 194px,#6a6 199px,#729 205px,#6ef 208px,#65e 212px,#684 214px,#79f 219px,#780 221px,#5cd 226px,#5b2 227px,#5cd 228px,#69b 230px,#850 233px,#8ad 234px,#8d5 235px,#8bd 236px,#862 237px,#702 239px,#551 241px,#4b1 242px,#467 243px,#488 244px,#513 245px,#5f5 246px,#946 249px,#a2d 250px,#ad7 251px,#b39 252px,#b4b 253px,#b09 254px,#a71 255px,#982 256px,#846 257px,#3f5 260px,#304 261px,#2b0 262px,#310 263px,#415 264px,#58d 265px,#8e8 267px,#a6f 268px,#bbc 269px,#ccb 270px,#da0 271px,#ebd 273px,#f8b 276px,#ff2 281px,#fe7 316px,#f86 320px,#eb0 323px,#d89 325px,#cae 326px,#b97 327px,#a43 328px,#55b 331px,#3ee 332px,#2fb 333px,#2b0 334px,#319 335px,#41b 336px,#870 339px,#9a4 340px,#a88 341px,#b16 342px,#b4d 343px,#b31 344px,#ac6 345px,#a15 346px,#810 348px,#5d6 350px,#4fd 351px,#47e 352px,#46b 353px,#4c1 354px,#63f 356px,#7df 358px,#871 359px,#8c3 360px,#8d4 361px,#8a5 362px,#7b9 364px,#612 367px,#5c7 368px,#5b2 369px,#61f 371px,#746 374px,#7a3 376px,#776 378px,#67f 382px,#65f 384px,#727 390px,#6df 394px,#6a9 398px,#6fa 404px,#6c6 411px,#6d9 419px,#6d9 595px)"></i>
<i style="top:138px;background:linear-gradient(90deg,#6d9 0,#6d4 184px,#6df 190px,#6e7 195px,#6ab 200px,#725 206px,#6b1 210px,#664 213px,#6d8 216px,#787 219px,#78d 221px,#70e 223px,#5f5 226px,#5c4 228px,#65f 230px,#878 234px,#8b9 235px,#8be 236px,#883 237px,#808 238px,#4f8 242px,#488 243px,#47a 244px,#4d7 245px,#594 246px,#9c7 250px,#a89 251px,#b08 252px,#b39 253px,#b18 254px,#aa1 255px,#9d4 256px,#8b4 257px,#468 260px,#34d 261px,#2c0 262px,#2e2 263px,#3b1 264px,#506 265px,#9ed 268px,#b4f 269px,#c72 270px,#d5a 271px,#e94 273px,#f7b 276px,#fef 281px,#fee 315px,#f75 320px,#eef 322px,#dfa 324px,#d41 325px,#c52 326px,#b27 327px,#9be 328px,#4d7 331px,#390 332px,#2d4 333px,#2c8 334px,#369 335px,#491 336px,#8db 339px,#9f1 340px,#ab4 341px,#b21 342px,#b37 343px,#afc 344px,#a75 345px,#9ac 346px,#579 350px,#4c6 351px,#476 352px,#491 353px,#50b 354px,#76f 357px,#81a 358px,#88e 359px,#8c1 360px,#8b4 361px,#7f9 363px,#650 366px,#5f0 367px,#5c1 368px,#5fe 370px,#764 374px,#79a 376px,#712 379px,#671 382px,#68d 385px,#71e 389px,#6ea 393px,#6a9 397px,#6f4 404px,#6cc 411px,#6d4 419px,#6d9 595px)"></i>
<i style="top:140px;background:linear-gradient(90deg,#6d9 0,#6d2 185px,#6ee 192px,#6cf 197px,#6b2 201px,#71f 207px,#66c 213px,#6b7 216px,#78b 220px,#772 222px,#5e1 227px,#5c9 228px,#5e2 229px,#6a4 231px,#83b 234px,#891 235px,#8b2 236px,#895 237px,#839 238px,#6e0 240px,#549 242px,#4ba 243px,#481 244px,#4af 245px,#542 246px,#737 248px,#959 250px,#a31 251px,#aca 252px,#b1a 253px,#b1a 254px,#ac5 255px,#a18 256px,#917 257px,#659 259px,#4e2 260px,#3a7 261px,#2e5 262px,#2c9 263px,#35e 264px,#489 265px,#965 268px,#ad9 269px,#c12 270px,#d0e 271px,#e68 273px,#f2b 275px,#fb5 278px,#fff 285px,#fe9 315px,#f90 319px,#ecc 322px,#dbd 324px,#cf3 325px,#bf0 326px,#aaf 327px,#78f 329px,#45f 331px,#344 332px,#2c3 333px,#2f5 334px,#3c8 335px,#50e 336px,#7f9 338px,#93b 339px,#a32 340px,#ad4 341px,#b1e 342px,#b15 343px,#abc 344px,#a1a 345px,#832 347px,#607 349px,#52c 350px,#4a4 351px,#483 352px,#4c8 353px,#626 355px,#7b7 357px,#847 358px,#89c 359px,#8b1 360px,#889 361px,#7af 363px,#623 366px,#5dc 367px,#5c9 368px,#62d 370px,#73d 373px,#790 375px,#764 377px,#684 381px,#683 384px,#720 389px,#6ab 396px,#6f5 403px,#6cb 410px,#6d1 419px,#6d9 595px)"></i>
<i style="top:142px;background:linear-gradient(90deg,#6d9 0,#6d0 186px,#6e9 196px,#6af 201px,#71c 207px,#6bb 211px,#670 214px,#6d2 217px,#774 220px,#77c 222px,#70a 224px,#607 227px,#5da 229px,#66b 231px,#85f 235px,#898 236px,#899 237px,#85b 238px,#7e1 239px,#4fb 243px,#49c 244px,#49c 245px,#503 246px,#5c3 247px,#8e6 250px,#9d0 251px,#a82 252px,#aef 253px,#b0e 254px,#adb 255px,#a50 256px,#96f 257px,#841 258px,#40f 261px,#31f 262px,#2c7 263px,#31f 264px,#419 265px,#587 266px,#a5c 269px,#baa 270px,#cba 271px,#d91 272px,#eb3 274px,#f86 277px,#ff1 282px,#fef 314px,#f80 319px,#ea5 322px,#d7a 324px,#c9d 325px,#b85 326px,#a30 327px,#557 330px,#3f3 331px,#30b 332px,#2c8 333px,#334 334px,#434 335px,#869 338px,#98f 339px,#a65 340px,#ae5 341px,#b0f 342px,#ae6 343px,#a70 344px,#9b6 345px,#5a8 349px,#4f2 350px,#497 351px,#4a3 352px,#50c 353px,#7f2 357px,#866 358px,#89c 359px,#894 360px,#7ea 362px,#65d 365px,#5d7 367px,#60f 369px,#758 373px,#786 375px,#707 378px,#679 381px,#69a 384px,#719 388px,#6c9 393px,#6bb 397px,#6ee 403px,#6d1 410px,#6d9 595px)"></i>
<i style="top:144px;background:linear-gradient(90deg,#6d9 0,#6cf 187px,#6e4 197px,#6b4 202px,#718 208px,#679 214px,#6b5 217px,#778 221px,#764 223px,#5f6 228px,#5f7 230px,#6aa 232px,#825 235px,#873 236px,#88e 237px,#86e 238px,#812 239px,#6c4 241px,#546 243px,#4c8 244px,#49e 245px,#4d8 246px,#570 247px,#75d 249px,#966 251px,#a2f 252px,#ab7 253px,#af6 254px,#ae3 255px,#a7b 256px,#9bb 257px,#8aa 258px,#481 261px,#36a 262px,#2da 263px,#2f4 264px,#3b8 265px,#502 266px,#9d9 269px,#b3a 270px,#c60 271px,#d4a 272px,#e89 274px,#f75 277px,#fed 282px,#fec 314px,#f6f 319px,#ee5 321px,#dec 323px,#d30 324px,#c3f 325px,#b13 326px,#812 328px,#4d5 330px,#399 331px,#2e8 332px,#2e3 333px,#386 334px,#4a9 335px,#8cf 338px,#9d7 339px,#a8c 340px,#aea 341px,#af2 342px,#aab 343px,#a1a 344px,#84e 346px,#634 348px,#55a 349px,#4cb 350px,#49e 351px,#4d3 352px,#55a 353px,#792 356px,#820 357px,#876 358px,#88e 359px,#86c 360px,#7a3 362px,#633 365px,#5df 367px,#63c 369px,#769 373px,#775 375px,#689 380px,#690 383px,#718 388px,#6b1 395px,#6ef 402px,#6d0 409px,#6d9 595px)"></i>
<i style="top:146px;background:linear-gradient(90deg,#6d9 0,#6ce 188px,#6df 198px,#6b9 203px,#712 209px,#67b 215px,#6cc 218px,#775 222px,#747 224px,#61a 228px,#5ef 230px,#675 232px,#845 236px,#877 237px,#874 238px,#835 239px,#716 241px,#599 243px,#503 244px,#4b3 245px,#4c1 246px,#52f 247px,#5f0 248px,#8f7 251px,#9d2 252px,#a74 253px,#ad0 254px,#ade 255px,#a98 256px,#9fa 257px,#909 258px,#667 260px,#4fb 261px,#3c5 262px,#302 263px,#2e0 264px,#36a 265px,#488 266px,#94f 269px,#ac3 270px,#bfd 271px,#cfb 272px,#e5a 274px,#f22 276px,#fb1 279px,#fff 286px,#fe7 314px,#f8b 318px,#ec1 321px,#dad 323px,#cdf 324px,#bda 325px,#a99 326px,#77d 328px,#45f 330px,#350 331px,#2db 332px,#312 333px,#3e5 334px,#693 336px,#7f8 337px,#92a 338px,#a12 339px,#aa5 340px,#ae1 341px,#ac9 342px,#a64 343px,#9ba 344px,#7d5 346px,#5d5 348px,#51d 349px,#4ba 350px,#4b8 351px,#512 352px,#7cd 356px,#83f 357px,#877 358px,#874 359px,#7d9 361px,#668 364px,#5ed 366px,#621 368px,#74d 372px,#774 374px,#681 380px,#6a6 383px,#713 387px,#6b8 395px,#6e8 402px,#6d6 409px,#6d9 595px)"></i>
<i style="top:148px;background:linear-gradient(90deg,#6d9 0,#6e2 194px,#6cc 200px,#6d0 205px,#70a 210px,#681 216px,#6e3 219px,#765 222px,#758 224px,#60b 229px,#60a 231px,#6af 233px,#80e 236px,#86b 238px,#849 239px,#7ed 240px,#6ac 242px,#549 244px,#4da 245px,#4be 246px,#500 247px,#59c 248px,#96d 252px,#a26 253px,#a9e 254px,#acb 255px,#aa7 256px,#a2c 257px,#95b 258px,#83d 259px,#42d 262px,#33e 263px,#2e1 264px,#32f 265px,#41c 266px,#57e 267px,#a44 270px,#b93 271px,#ca5 272px,#d7f 273px,#ea6 275px,#f7f 278px,#fef 283px,#fee 313px,#f7a 318px,#e98 321px,#d67 323px,#c87 324px,#b6d 325px,#a18 326px,#54f 329px,#3f8 330px,#31c 331px,#2e3 332px,#354 333px,#451 334px,#863 337px,#979 338px,#a3f 339px,#ab0 340px,#aca 341px,#a93 342px,#a13 343px,#864 345px,#65e 347px,#585 348px,#4f3 349px,#4bc 350px,#4e3 351px,#55b 352px,#772 355px,#7fb 356px,#850 357px,#86c 358px,#803 360px,#641 364px,#5f5 366px,#64c 368px,#75c 372px,#763 374px,#68e 379px,#69d 382px,#711 387px,#6b8 394px,#6e9 401px,#6db 409px,#6d9 595px)"></i>
<i style="top:150px;background:linear-gradient(90deg,#6d9 0,#6e4 195px,#6c6 205px,#70c 210px,#686 216px,#6c8 219px,#764 223px,#73e 225px,#605 230px,#62d 232px,#763 235px,#82a 237px,#857 238px,#850 239px,#810 240px,#6fb 242px,#597 244px,#50f 245px,#4ce 246px,#4e6 247px,#559 248px,#619 249px,#902 252px,#9ce 253px,#a60 254px,#aac 255px,#aa8 256px,#a50 257px,#9a1 258px,#8a1 259px,#49f 262px,#38c 263px,#2f8 264px,#309 265px,#3bf 266px,#4fc 267px,#9bf 270px,#b20 271px,#c48 272px,#d35 273px,#e7a 275px,#f33 277px,#fce 281px,#fff 291px,#fe9 313px,#f93 317px,#ed9 320px,#dda 322px,#d1b 323px,#c27 324px,#af9 325px,#7fb 327px,#4d0 329px,#3a1 330px,#2fe 331px,#302 332px,#3a7 333px,#4c6 334px,#789 336px,#8c4 337px,#9bb 338px,#a5f 339px,#aad 340px,#aa7 341px,#a52 342px,#9b8 343px,#7ef 345px,#5ff 347px,#547 348px,#4de 349px,#4d1 350px,#51c 351px,#65c 353px,#7ac 355px,#81b 356px,#854 357px,#854 358px,#7c7 360px,#672 363px,#602 365px,#634 367px,#744 371px,#762 373px,#689 379px,#6d1 383px,#70a 387px,#6b9 393px,#6ea 400px,#6d9 408px,#6d9 595px)"></i>
<i style="top:152px;background:linear-gradient(90deg,#6d9 0,#6e5 196px,#6cc 206px,#706 211px,#68b 217px,#70a 221px,#75d 224px,#6e3 227px,#61f 230px,#61c 232px,#6b3 234px,#7f7 237px,#849 239px,#826 240px,#742 242px,#550 245px,#4f0 246px,#4df 247px,#529 248px,#5c5 249px,#96e 253px,#a17 254px,#a7f 255px,#a9c 256px,#a66 257px,#9da 258px,#8fa 259px,#678 261px,#3e8 263px,#324 264px,#2f9 265px,#376 266px,#486 267px,#79a 269px,#aa7 271px,#be2 272px,#ce4 273px,#e4a 275px,#f17 277px,#fac 280px,#fff 287px,#fe5 313px,#f83 317px,#eb3 320px,#d98 322px,#cc8 323px,#bbf 324px,#a7d 325px,#5ca 328px,#45f 329px,#35e 330px,#2f5 331px,#334 332px,#408 333px,#7f8 336px,#919 337px,#9ef 338px,#a71 339px,#a9d 340px,#a77 341px,#a06 342px,#875 344px,#5af 347px,#51b 348px,#4dc 349px,#4f7 350px,#560 351px,#754 354px,#82d 356px,#84a 357px,#7ec 359px,#64e 363px,#60a 365px,#65b 367px,#750 371px,#731 374px,#694 378px,#6a9 381px,#709 386px,#6be 393px,#6e4 400px,#6d9 595px)"></i>
<i style="top:154px;background:linear-gradient(90deg,#6d9 0,#6e6 197px,#6c4 206px,#700 212px,#692 218px,#753 224px,#704 227px,#61a 231px,#63c 233px,#80e 238px,#837 239px,#82d 240px,#7ef 241px,#6e5 243px,#599 245px,#520 246px,#4eb 247px,#50b 248px,#582 249px,#729 251px,#907 253px,#9c4 254px,#a47 255px,#a82 256px,#a6d 257px,#a04 258px,#946 259px,#83a 260px,#451 263px,#363 264px,#2ff 265px,#340 266px,#41e 267px,#572 268px,#a26 271px,#b75 272px,#c8b 273px,#d68 274px,#e96 276px,#f77 279px,#fec 284px,#feb 312px,#f72 317px,#e88 320px,#d50 322px,#c6c 323px,#b50 324px,#873 326px,#544 328px,#3fc 329px,#32f 330px,#303 331px,#37a 332px,#475 333px,#85e 336px,#961 337px,#a15 338px,#a74 339px,#a7f 340px,#a3b 341px,#9b0 342px,#803 344px,#626 346px,#56f 347px,#503 348px,#4ed 349px,#52b 350px,#64f 352px,#78d 354px,#7f9 355px,#831 356px,#807 358px,#636 363px,#61d 365px,#73b 370px,#73b 373px,#691 378px,#706 385px,#6be 392px,#6de 400px,#6d9 595px)"></i>
<i style="top:156px;background:linear-gradient(90deg,#6d9 0,#6e6 198px,#6c9 207px,#702 212px,#694 218px,#6fe 222px,#74e 225px,#6e6 228px,#633 231px,#62d 233px,#6b6 235px,#7df 238px,#828 240px,#804 241px,#729 243px,#55c 246px,#508 247px,#501 248px,#550 249px,#5ec 250px,#969 254px,#a03 255px,#a5b 256px,#a67 257px,#a20 258px,#984 259px,#897 260px,#4c3 263px,#3b3 264px,#31b 265px,#320 266px,#3c7 267px,#4f4 268px,#99e 271px,#b00 272px,#c2a 273px,#d1b 274px,#e68 276px,#f27 278px,#fc9 282px,#fff 291px,#fe6 312px,#f8c 316px,#eca 319px,#dc3 321px,#d01 322px,#c0a 323px,#ad9 324px,#7df 326px,#4ca 328px,#3ab 329px,#317 330px,#326 331px,#3cf 332px,#4e9 333px,#78f 335px,#8b8 336px,#99c 337px,#a2d 338px,#a6a 339px,#a54 340px,#9f3 341px,#880 343px,#5d6 346px,#542 347px,#4fe 348px,#50e 349px,#56a 350px,#7ba 354px,#80b 355px,#829 356px,#7d5 358px,#65a 362px,#61f 364px,#6ac 367px,#744 370px,#722 373px,#699 377px,#6ce 381px,#701 385px,#6c4 392px,#6df 399px,#6d9 595px)"></i>
<i style="top:158px;background:linear-gradient(90deg,#6d9 0,#6e6 199px,#6ce 208px,#6fd 213px,#699 219px,#743 225px,#703 228px,#62e 232px,#64a 234px,#7f3 239px,#80c 241px,#763 243px,#5a0 246px,#534 247px,#50a 248px,#531 249px,#5a8 250px,#743 252px,#906 254px,#9b5 255px,#a28 256px,#a53 257px,#a2e 258px,#9b5 259px,#8e9 260px,#7d4 261px,#411 264px,#34c 265px,#316 266px,#383 267px,#482 268px,#77d 270px,#a84 272px,#bc2 273px,#cc7 274px,#e35 276px,#f0a 278px,#fa5 281px,#fff 288px,#fec 311px,#f7b 316px,#ea2 319px,#d7f 321px,#caa 322px,#b9f 323px,#a5a 324px,#5b9 327px,#45d 328px,#36e 329px,#314 330px,#35c 331px,#431 332px,#7f9 335px,#906 336px,#9c8 337px,#a37 338px,#a52 339px,#a1e 340px,#9a3 341px,#812 343px,#649 345px,#596 346px,#527 347px,#50b 348px,#53e 349px,#647 351px,#772 353px,#810 355px,#7ec 357px,#644 362px,#631 364px,#732 369px,#72b 372px,#699 377px,#700 384px,#6c4 391px,#6d9 399px,#6d9 595px)"></i>
<i style="top:160px;background:linear-gradient(90deg,#6d9 0,#6d3 204px,#6e2 210px,#6e8 215px,#6a0 220px,#73f 226px,#6e9 229px,#646 232px,#63e 234px,#6b7 236px,#7c6 239px,#808 241px,#791 243px,#56b 247px,#523 248px,#524 249px,#576 250px,#610 251px,#95e 255px,#9e9 256px,#a32 257px,#a2e 258px,#9d8 259px,#92e 260px,#836 261px,#47b 264px,#38e 265px,#322 266px,#355 267px,#421 268px,#564 269px,#a01 272px,#b52 273px,#c6b 274px,#d4c 275px,#e83 277px,#f6d 280px,#fe9 285px,#fe8 311px,#f67 316px,#e75 319px,#d34 321px,#c4c 322px,#b2c 323px,#851 325px,#538 327px,#401 328px,#346 329px,#327 330px,#3a5 331px,#49d 332px,#858 335px,#947 336px,#9e7 337px,#a33 338px,#a2d 339px,#9dc 340px,#949 341px,#5fa 345px,#568 346px,#520 347px,#528 348px,#578 349px,#79e 353px,#809 355px,#7be 357px,#664 361px,#633 363px,#739 369px,#714 372px,#69f 376px,#6f9 384px,#6ca 391px,#6d5 399px,#6d9 595px)"></i>
<i style="top:162px;background:linear-gradient(90deg,#6d9 0,#6d1 205px,#6e5 211px,#6e0 216px,#6a1 220px,#738 227px,#6cf 230px,#642 233px,#657 235px,#7d8 240px,#7ed 242px,#74c 244px,#5aa 247px,#54a 248px,#52a 249px,#555 250px,#5cd 251px,#758 253px,#900 255px,#9a0 256px,#a04 257px,#a20 258px,#9ec 259px,#964 260px,#88d 261px,#62e 263px,#4ec 264px,#3e1 265px,#344 266px,#33b 267px,#3d0 268px,#4ea 269px,#978 272px,#ada 273px,#c07 274px,#cfc 275px,#e52 277px,#f19 279px,#faa 282px,#fff 289px,#fe3 311px,#f82 315px,#eb8 318px,#da8 320px,#ce1 321px,#be6 322px,#ab2 323px,#7be 325px,#4c3 327px,#3b7 328px,#334 329px,#34f 330px,#3fc 331px,#656 333px,#8ab 335px,#979 336px,#9f6 337px,#a21 338px,#9fc 339px,#990 340px,#81c 342px,#668 344px,#5bb 345px,#54c 346px,#52a 347px,#553 348px,#644 350px,#75b 352px,#7f1 354px,#7d2 356px,#652 361px,#645 363px,#72a 368px,#71c 371px,#6a1 376px,#6f9 383px,#6c9 390px,#6d2 399px,#6d9 595px)"></i>
<i style="top:164px;background:linear-gradient(90deg,#6d9 0,#6cf 206px,#6ea 216px,#6a6 221px,#732 227px,#6ec 230px,#644 234px,#675 236px,#7df 241px,#7c7 243px,#704 245px,#57d 248px,#53f 249px,#547 250px,#59a 251px,#6f5 253px,#94e 256px,#9ca 257px,#a04 258px,#9f1 259px,#98d 260px,#8d6 261px,#7d7 262px,#440 265px,#379 266px,#339 267px,#394 268px,#47f 269px,#5d3 270px,#a5b 273px,#b9b 274px,#ca4 275px,#e1c 277px,#ef9 279px,#f9d 282px,#ffe 289px,#fe9 310px,#f70 315px,#e8d 318px,#d60 320px,#c87 321px,#b77 322px,#8bb 324px,#5a6 326px,#45c 327px,#381 328px,#338 329px,#38a 330px,#45f 331px,#7f9 334px,#8f0 335px,#99d 336px,#9f8 337px,#a01 338px,#9bf 339px,#93b 340px,#61b 344px,#58c 345px,#542 346px,#544 347px,#5fe 349px,#784 352px,#7ea 354px,#7a6 356px,#66e 360px,#645 362px,#72f 368px,#6e6 372px,#6a7 376px,#6f8 382px,#6d0 390px,#6d9 595px)"></i>
<i style="top:166px;background:linear-gradient(90deg,#6d9 0,#6ce 207px,#6e4 217px,#6ad 222px,#72c 228px,#6d6 231px,#655 234px,#663 236px,#7bd 241px,#7cf 243px,#739 245px,#5b8 248px,#563 249px,#54a 250px,#579 251px,#5ee 252px,#8f5 256px,#986 257px,#9db 258px,#9e9 259px,#9a6 260px,#912 261px,#832 262px,#4aa 265px,#3bf 266px,#34b 267px,#36d 268px,#424 269px,#554 270px,#9d6 273px,#b28 274px,#c44 275px,#de0 277px,#ed6 279px,#f8d 282px,#ff7 288px,#fe4 310px,#f89 314px,#ecb 317px,#dcc 319px,#d11 320px,#c25 321px,#b02 322px,#82a 324px,#52a 326px,#407 327px,#361 328px,#352 329px,#3d6 330px,#4cc 331px,#850 334px,#928 335px,#9b3 336px,#9eb 337px,#9d5 338px,#978 339px,#820 341px,#684 343px,#5dd 344px,#570 345px,#54a 346px,#56b 347px,#644 349px,#746 351px,#7d3 353px,#7b8 355px,#65f 360px,#657 362px,#723 367px,#70f 370px,#6a9 375px,#6f2 382px,#6cf 389px,#6d9 595px)"></i>
<i style="top:168px;background:linear-gradient(90deg,#6d9 0,#6cd 208px,#6ec 217px,#6b4 223px,#724 229px,#656 235px,#67d 237px,#7c3 242px,#7ac 244px,#6f7 246px,#592 249px,#55d 250px,#56a 251px,#5bd 252px,#708 254px,#898 256px,#939 257px,#9a7 258px,#9d2 259px,#9b2 260px,#940 261px,#880 262px,#64d 264px,#414 266px,#373 267px,#35c 268px,#3dc 269px,#4e1 270px,#7c7 272px,#aad 274px,#bdd 275px,#cd6 276px,#e38 278px,#f07 280px,#fa1 283px,#ffe 290px,#fea 309px,#f77 314px,#ea1 317px,#d88 319px,#cbb 320px,#bbb 321px,#91e 323px,#612 325px,#4bc 326px,#3c5 327px,#357 328px,#380 329px,#430 330px,#79e 333px,#89b 334px,#952 335px,#9ba 336px,#9d1 337px,#99d 338px,#928 339px,#639 343px,#5af 344px,#565 345px,#561 346px,#606 348px,#76e 351px,#7cd 353px,#78f 355px,#678 359px,#657 361px,#725 367px,#6ac 374px,#6f2 381px,#6d5 389px,#6d9 595px)"></i>
<i style="top:170px;background:linear-gradient(90deg,#6d9 0,#6da 213px,#6d8 219px,#6bc 224px,#721 229px,#6db 232px,#65d 236px,#6da 239px,#7a4 242px,#7b4 244px,#729 246px,#5c9 249px,#57e 250px,#56b 251px,#59c 252px,#60d 253px,#8e5 257px,#968 258px,#9af 259px,#9ae 260px,#95f 261px,#8c1 262px,#7da 263px,#475 266px,#3ad 267px,#361 268px,#3a9 269px,#47d 270px,#5bc 271px,#a2b 274px,#b6d 275px,#c7a 276px,#dfe 278px,#ee5 280px,#f92 283px,#ff7 289px,#fe5 309px,#f63 314px,#e73 317px,#d3c 319px,#c5d 320px,#b49 321px,#88e 323px,#592 325px,#45d 326px,#398 327px,#363 328px,#3bf 329px,#494 330px,#7f9 333px,#8d8 334px,#96d 335px,#9b2 336px,#9aa 337px,#95b 338px,#820 340px,#5fc 343px,#592 344px,#56a 345px,#584 346px,#648 348px,#789 351px,#7bd 353px,#71b 356px,#66b 359px,#689 362px,#71b 366px,#6e8 370px,#6b1 374px,#6ec 381px,#6da 389px,#6d9 595px)"></i>
<i style="top:172px;background:linear-gradient(90deg,#6d9 0,#6dc 214px,#6d4 220px,#6c4 225px,#71b 230px,#667 236px,#685 238px,#7a8 243px,#793 245px,#6ed 247px,#5a9 250px,#57c 251px,#58c 252px,#5dd 253px,#718 255px,#88c 257px,#920 258px,#97f 259px,#99d 260px,#96f 261px,#8f3 262px,#82b 263px,#4de 266px,#3f7 267px,#37b 268px,#38b 269px,#42b 270px,#544 271px,#9a4 274px,#af6 275px,#c17 276px,#dbe 278px,#ebf 280px,#f82 283px,#ff4 289px,#feb 308px,#f7d 313px,#eb3 316px,#daa 318px,#ce9 319px,#bf7 320px,#978 322px,#51d 325px,#410 326px,#381 327px,#383 328px,#40e 329px,#4ff 330px,#748 332px,#847 333px,#906 334px,#979 335px,#99d 336px,#977 337px,#910 338px,#654 342px,#5d0 343px,#587 344px,#57f 345px,#611 347px,#75a 350px,#7b1 352px,#779 354px,#680 358px,#67f 361px,#71b 366px,#6b3 373px,#6ec 380px,#6d9 388px,#6d9 595px)"></i>
<i style="top:174px;background:linear-gradient(90deg,#6d9 0,#6de 215px,#6cf 221px,#6cd 226px,#712 231px,#66d 237px,#6d5 240px,#78b 243px,#79a 245px,#71b 247px,#5dc 250px,#59a 251px,#58c 252px,#5bd 253px,#6c5 255px,#8d1 258px,#945 259px,#97f 260px,#971 261px,#917 262px,#870 263px,#66e 265px,#44e 267px,#3a9 268px,#383 269px,#3ec 270px,#4d9 271px,#79b 273px,#a78 275px,#bab 276px,#caa 277px,#e18 279px,#ef2 281px,#f96 284px,#ff7 290px,#fe6 308px,#f69 313px,#e86 316px,#d61 318px,#c8e 319px,#b89 320px,#8eb 322px,#5f7 324px,#4b6 325px,#3d8 326px,#380 327px,#3b7 328px,#469 329px,#7a5 332px,#888 333px,#926 334px,#977 335px,#97b 336px,#93a 337px,#81c 339px,#61a 342px,#5b4 343px,#58b 344px,#59f 345px,#64e 347px,#774 350px,#7a2 352px,#70f 355px,#677 358px,#698 361px,#714 365px,#6b9 373px,#6e6 380px,#6d9 451px,#6d9 595px)"></i>
<i style="top:176px;background:linear-gradient(90deg,#6d9 0,#6e0 216px,#6c0 223px,#6ea 228px,#709 232px,#678 237px,#6b7 240px,#78e 244px,#77d 246px,#6e6 248px,#5c2 251px,#59b 252px,#5ad 253px,#5fb 254px,#723 256px,#87d 258px,#902 259px,#954 260px,#965 261px,#92c 262px,#8a7 263px,#7da 264px,#4b0 267px,#3e8 268px,#390 269px,#3c3 270px,#47e 271px,#5a5 272px,#9f4 275px,#b38 276px,#c4a 277px,#dda 279px,#ecd 281px,#f86 284px,#ff4 290px,#feb 307px,#f81 312px,#ec2 315px,#dc7 317px,#c2b 319px,#9ca 321px,#57d 324px,#461 325px,#3b5 326px,#394 327px,#3fb 328px,#4cd 329px,#7f6 332px,#8bb 333px,#937 334px,#967 335px,#94e 336px,#8f5 337px,#66b 341px,#5ef 342px,#5a8 343px,#59d 344px,#61f 346px,#749 349px,#797 351px,#729 354px,#689 357px,#68f 360px,#712 365px,#6ba 372px,#6e6 379px,#6d9 595px)"></i>
<i style="top:178px;background:linear-gradient(90deg,#6d9 0,#6e7 218px,#6ca 227px,#70b 232px,#67c 238px,#6d1 241px,#78a 245px,#759 247px,#5f1 251px,#5ad 253px,#5dc 254px,#6d4 256px,#8b8 259px,#91f 260px,#94c 261px,#933 262px,#8cf 263px,#822 264px,#628 266px,#436 268px,#3b2 269px,#3af 270px,#436 271px,#535 272px,#abd 276px,#be1 277px,#d95 279px,#ea3 281px,#f73 284px,#fe7 289px,#fef 306px,#f95 311px,#ef3 314px,#e1d 316px,#cb9 318px,#bc1 319px,#940 321px,#65a 323px,#511 324px,#41f 325px,#3a8 326px,#3bc 327px,#44d 328px,#64a 330px,#83b 332px,#8df 333px,#93a 334px,#94a 335px,#916 336px,#813 338px,#634 341px,#5d3 342px,#5ab 343px,#5fa 345px,#760 349px,#789 351px,#682 357px,#6a6 360px,#70c 364px,#6c1 372px,#6e0 379px,#6d9 595px)"></i>
<i style="top:180px;background:linear-gradient(90deg,#6d9 0,#6d2 223px,#6d0 228px,#704 233px,#683 239px,#6e9 242px,#776 245px,#768 247px,#682 250px,#5db 252px,#5ba 253px,#5cd 254px,#691 256px,#869 259px,#8e1 260px,#926 261px,#92b 262px,#8e9 263px,#85d 264px,#690 266px,#48f 268px,#3e6 269px,#3b1 270px,#403 271px,#4d4 272px,#605 273px,#a3c 276px,#c76 278px,#df2 280px,#ed8 282px,#f89 285px,#ff3 291px,#feb 306px,#f84 311px,#ece 314px,#ddf 316px,#c59 318px,#a14 320px,#5dc 323px,#4b4 324px,#3f2 325px,#3b0 326px,#3f5 327px,#4a9 328px,#7aa 331px,#871 332px,#8f5 333px,#92f 334px,#921 335px,#858 337px,#680 340px,#60b 341px,#5c8 342px,#5bb 343px,#62e 345px,#73a 348px,#77f 350px,#71a 353px,#691 356px,#69e 359px,#709 364px,#6c1 371px,#6da 379px,#6d9 595px)"></i>
<i style="top:182px;background:linear-gradient(90deg,#6d9 0,#6d0 224px,#6d6 229px,#6fc 234px,#68a 239px,#6cd 242px,#772 246px,#749 248px,#5d3 253px,#5cc 254px,#5f9 255px,#6e1 257px,#89c 260px,#8f6 261px,#917 262px,#8f4 263px,#889 264px,#7d9 265px,#4f0 268px,#42a 269px,#3c8 270px,#3e4 271px,#484 272px,#590 273px,#afa 277px,#cf7 279px,#e40 281px,#f46 284px,#fcc 288px,#fff 299px,#fc9 308px,#f3f 312px,#ea3 314px,#d9b 316px,#bf2 318px,#98d 320px,#56b 323px,#46a 324px,#3da 325px,#3cd 326px,#43e 327px,#50c 328px,#7f1 331px,#899 332px,#8fc 333px,#916 334px,#8ee 335px,#806 337px,#64b 340px,#5f1 341px,#5ca 342px,#60f 344px,#74f 348px,#771 350px,#68c 356px,#6d0 360px,#701 364px,#6c1 370px,#6dc 378px,#6d9 595px)"></i>
<i style="top:184px;background:linear-gradient(90deg,#6d9 0,#6ce 225px,#6eb 231px,#6f3 235px,#68f 240px,#6e2 243px,#75f 246px,#756 248px,#68a 251px,#5f5 253px,#5eb 255px,#6a1 257px,#852 260px,#8bd 261px,#8f6 262px,#8f1 263px,#8a6 264px,#816 265px,#652 267px,#47b 269px,#3f1 270px,#3dc 271px,#448 272px,#52a 273px,#7c4 275px,#a7d 277px,#c9c 279px,#e05 281px,#ee1 283px,#f8b 286px,#ff3 292px,#fe0 306px,#f5c 311px,#e74 314px,#d4f 316px,#b83 318px,#902 320px,#638 322px,#509 323px,#434 324px,#3d8 325px,#3fc 326px,#492 327px,#764 330px,#82b 331px,#8b3 332px,#8f5 333px,#8f2 334px,#842 336px,#691 339px,#5e6 341px,#5fb 343px,#72d 347px,#768 349px,#6dc 353px,#68f 356px,#700 363px,#6c7 370px,#6d3 379px,#6d9 595px)"></i>
<i style="top:186px;background:linear-gradient(90deg,#6d9 0,#6cd 226px,#6f9 235px,#698 241px,#75c 247px,#73a 249px,#5f0 254px,#615 256px,#6e9 258px,#87d 261px,#8ca 262px,#8e0 263px,#8b5 264px,#845 265px,#794 266px,#4d4 269px,#42c 270px,#3e8 271px,#421 272px,#4d4 273px,#5e9 274px,#9f9 277px,#c39 279px,#dc4 281px,#eb9 283px,#f79 286px,#fef 292px,#fe5 305px,#f74 310px,#eae 313px,#db1 315px,#c1c 317px,#9d1 319px,#5c4 322px,#4b8 323px,#413 324px,#3ea 325px,#43b 326px,#4ee 327px,#7ac 330px,#856 331px,#8be 332px,#8e1 333px,#8c4 334px,#7f5 336px,#660 339px,#5e9 341px,#625 343px,#740 347px,#75a 349px,#697 355px,#6fd 362px,#6ce 370px,#6d9 595px)"></i>
<i style="top:188px;background:linear-gradient(90deg,#6d9 0,#6cc 227px,#6f2 236px,#69b 241px,#704 245px,#753 248px,#71c 250px,#60f 254px,#608 256px,#6ae 258px,#838 261px,#8c4 263px,#8b6 264px,#865 265px,#7d3 266px,#474 270px,#408 271px,#40f 272px,#491 273px,#57f 274px,#ab5 278px,#cbc 280px,#e15 282px,#ee8 284px,#f8c 287px,#ff1 293px,#fdf 305px,#f5e 310px,#e7f 313px,#d67 315px,#bb0 317px,#949 319px,#690 321px,#55d 322px,#47b 323px,#407 324px,#40f 325px,#487 326px,#7e8 330px,#872 331px,#8bb 332px,#8c1 333px,#82a 335px,#63d 339px,#5f7 341px,#651 343px,#723 346px,#753 348px,#6a0 354px,#6f7 362px,#6cd 369px,#6d9 595px)"></i>
<i style="top:190px;background:linear-gradient(90deg,#6d9 0,#6da 232px,#6eb 237px,#6a1 242px,#747 248px,#6fd 251px,#60c 255px,#62e 257px,#6ef 259px,#85b 262px,#89d 263px,#8aa 264px,#877 265px,#804 266px,#67c 268px,#4c6 270px,#439 271px,#412 272px,#462 273px,#524 274px,#63f 275px,#a35 278px,#c5c 280px,#dd5 282px,#ec0 284px,#f7a 287px,#fed 293px,#fe4 304px,#f75 309px,#eb5 312px,#dc3 314px,#c40 316px,#a0e 318px,#619 321px,#507 322px,#452 323px,#410 324px,#445 325px,#4dc 326px,#76d 329px,#815 330px,#881 331px,#8ab 332px,#898 333px,#7e2 335px,#673 338px,#606 340px,#63b 342px,#732 346px,#730 349px,#6a1 354px,#6f6 361px,#6d3 369px,#6d9 595px)"></i>
<i style="top:192px;background:linear-gradient(90deg,#6d9 0,#6dd 233px,#6e4 238px,#6a9 243px,#740 249px,#6df 252px,#629 255px,#622 257px,#6b8 259px,#81b 262px,#891 264px,#87c 265px,#827 266px,#795 267px,#51e 270px,#478 271px,#429 272px,#448 273px,#4dc 274px,#5d2 275px,#ae6 279px,#cd7 281px,#e21 283px,#f31 286px,#fc1 290px,#ff9 299px,#fa7 307px,#f29 310px,#e87 312px,#d7b 314px,#bd6 316px,#989 318px,#5b0 321px,#4c4 322px,#43e 323px,#42d 324px,#489 325px,#610 327px,#7aa 329px,#835 330px,#882 331px,#890 332px,#80f 334px,#652 338px,#614 340px,#6a5 343px,#738 346px,#717 349px,#6a8 353px,#6ef 361px,#6d9 369px,#6d9 595px)"></i>
<i style="top:194px;background:linear-gradient(90deg,#6d9 0,#6df 234px,#6de 239px,#6b2 244px,#736 250px,#6c2 253px,#627 256px,#645 258px,#6f2 260px,#837 263px,#86f 264px,#873 265px,#83c 266px,#7c8 267px,#650 269px,#4c3 271px,#451 272px,#443 273px,#4a7 274px,#574 275px,#7d8 277px,#a69 279px,#c79 281px,#de2 283px,#ec5 285px,#f7a 288px,#feb 294px,#fd6 304px,#f46 309px,#e54 312px,#d2b 314px,#b65 316px,#901 318px,#66b 320px,#556 321px,#495 322px,#43f 323px,#45a 324px,#4d6 325px,#735 328px,#7d9 329px,#846 330px,#876 331px,#86a 332px,#7cc 334px,#682 337px,#622 339px,#651 341px,#726 345px,#71e 348px,#6aa 353px,#6ef 360px,#6d7 368px,#6d9 595px)"></i>
<i style="top:196px;background:linear-gradient(90deg,#6d9 0,#6e1 235px,#6c9 241px,#6bb 245px,#72f 250px,#6e0 253px,#62e 257px,#66d 259px,#843 264px,#85f 265px,#843 266px,#7ed 267px,#6a4 269px,#515 271px,#488 272px,#452 273px,#486 274px,#527 275px,#622 276px,#b10 280px,#cec 282px,#e2a 284px,#f31 287px,#fbf 291px,#ff0 300px,#fa5 306px,#f2a 309px,#e1b 312px,#cd4 314px,#aee 316px,#600 320px,#50f 321px,#47a 322px,#453 323px,#495 324px,#5ef 326px,#772 328px,#7fa 329px,#84a 330px,#85e 331px,#7f2 333px,#666 337px,#62f 339px,#72a 345px,#6ea 349px,#6b1 353px,#6e8 360px,#6d8 387px,#6d9 595px)"></i>
<i style="top:198px;background:linear-gradient(90deg,#6d9 0,#6e2 236px,#6c6 242px,#6c4 246px,#726 251px,#6c8 254px,#641 257px,#65a 259px,#75b 262px,#812 264px,#83e 266px,#804 267px,#6ee 269px,#4cc 272px,#472 273px,#47b 274px,#4ee 275px,#5c2 276px,#81d 278px,#a95 280px,#c90 282px,#dec 284px,#ec8 286px,#f78 289px,#fe7 295px,#fc4 304px,#f46 308px,#e5a 311px,#d3b 313px,#b88 315px,#93c 317px,#6b8 319px,#5a4 320px,#4da 321px,#474 322px,#478 323px,#4dc 324px,#7a2 328px,#80e 329px,#841 330px,#80a 332px,#690 336px,#63c 338px,#699 341px,#71b 344px,#70e 347px,#6b3 352px,#6e8 359px,#6d9 466px,#6d9 595px)"></i>
<i style="top:200px;background:linear-gradient(90deg,#6d9 0,#6e8 238px,#6be 246px,#71b 252px,#648 258px,#67e 260px,#819 265px,#82d 266px,#80e 267px,#7b7 268px,#67f 270px,#517 272px,#4a2 273px,#482 274px,#4c8 275px,#573 276px,#66e 277px,#b34 281px,#cfd 283px,#e30 285px,#f30 288px,#fbc 292px,#fe6 300px,#f84 306px,#ee6 309px,#e21 311px,#ce6 313px,#b13 315px,#64c 319px,#559 320px,#4ba 321px,#481 322px,#4ad 323px,#52a 324px,#741 327px,#7c5 328px,#814 329px,#82d 330px,#7d3 332px,#677 336px,#649 338px,#71d 344px,#6bb 352px,#6e2 359px,#6d9 595px)"></i>
<i style="top:202px;background:linear-gradient(90deg,#6d9 0,#6d9 242px,#6c5 247px,#718 252px,#6a1 256px,#655 259px,#6a4 261px,#7ed 265px,#80b 267px,#7d0 268px,#6c7 270px,#567 272px,#4df 273px,#49c 274px,#4b7 275px,#536 276px,#60d 277px,#abb 281px,#ca2 283px,#df2 285px,#f11 288px,#faf 292px,#fe4 299px,#f93 305px,#f09 308px,#e5d 310px,#d47 312px,#ba4 314px,#96f 316px,#700 318px,#5ef 319px,#521 320px,#4af 321px,#4a0 322px,#4ec 323px,#771 327px,#7da 328px,#80f 329px,#7e6 331px,#69c 335px,#654 337px,#6a6 340px,#710 343px,#6e9 347px,#6c4 352px,#6dc 359px,#6d9 595px)"></i>
<i style="top:204px;background:linear-gradient(90deg,#6d9 0,#6d6 243px,#6cc 248px,#710 253px,#660 259px,#68c 261px,#7f0 266px,#7db 268px,#705 270px,#524 273px,#4c5 274px,#4b9 275px,#50d 276px,#5bc 277px,#7dc 279px,#b50 282px,#d09 284px,#e32 286px,#f2d 289px,#fb7 293px,#fd9 300px,#f80 305px,#ee4 308px,#e24 310px,#cf2 312px,#b31 314px,#695 318px,#5a3 319px,#4fd 320px,#4b6 321px,#4cd 322px,#533 323px,#717 326px,#7e2 328px,#7eb 330px,#686 335px,#661 337px,#710 343px,#6c3 351px,#6d8 359px,#6d9 595px)"></i>
<i style="top:206px;background:linear-gradient(90deg,#6d9 0,#6d4 244px,#6d2 249px,#706 254px,#66c 260px,#6ef 263px,#7c7 266px,#7db 268px,#738 270px,#56e 273px,#4fb 274px,#4cd 275px,#4f7 276px,#57e 277px,#655 278px,#ada 282px,#cae 284px,#df4 286px,#f0d 289px,#faa 293px,#fd1 300px,#f6b 305px,#ebb 308px,#de4 310px,#c96 312px,#aba 314px,#638 318px,#569 319px,#4ed 320px,#4ce 321px,#506 322px,#61b 324px,#746 326px,#7df 328px,#7c1 330px,#67b 335px,#68e 338px,#707 342px,#6c4 350px,#6d5 359px,#6d9 595px)"></i>
<i style="top:208px;background:linear-gradient(90deg,#6d9 0,#6ca 246px,#6fb 255px,#676 260px,#6cd 263px,#7c7 267px,#7ad 269px,#6e5 271px,#53a 274px,#4f0 275px,#4f4 276px,#552 277px,#604 278px,#816 280px,#b67 283px,#d10 285px,#e31 287px,#f28 290px,#faf 294px,#fc7 300px,#f54 305px,#e8d 308px,#d9e 310px,#c34 312px,#a3e 314px,#6d9 317px,#5eb 318px,#542 319px,#4ef 320px,#4f5 321px,#547 322px,#769 326px,#7d1 328px,#795 330px,#694 334px,#689 337px,#705 342px,#6cb 350px,#6d9 595px)"></i>
<i style="top:210px;background:linear-gradient(90deg,#6d9 0,#6ca 247px,#6f0 256px,#680 261px,#6ec 264px,#7a3 267px,#7ae 269px,#715 271px,#57e 274px,#520 275px,#503 276px,#539 277px,#5c5 278px,#69a 279px,#af3 283px,#cb6 285px,#df3 287px,#f07 290px,#fa1 294px,#fbc 300px,#f38 305px,#e59 308px,#d51 310px,#bca 312px,#89f 315px,#67d 317px,#5b0 318px,#52e 319px,#502 320px,#528 321px,#615 323px,#723 325px,#7b2 327px,#79e 329px,#68c 334px,#6a0 337px,#6fe 341px,#6cb 349px,#6d9 595px)"></i>
<i style="top:212px;background:linear-gradient(90deg,#6d9 0,#6e0 252px,#6e6 257px,#68d 262px,#707 265px,#7a0 268px,#784 270px,#6cc 272px,#558 275px,#521 276px,#533 277px,#598 278px,#64a 279px,#84a 281px,#b78 284px,#d12 286px,#e2d 288px,#f20 291px,#fa4 295px,#fa2 301px,#f19 305px,#e1f 308px,#cfe 310px,#b5b 312px,#718 316px,#630 317px,#587 318px,#52d 319px,#524 320px,#563 321px,#745 325px,#7a6 327px,#777 329px,#6a0 333px,#69c 336px,#6fb 341px,#6d1 349px,#6d9 595px)"></i>
<i style="top:214px;background:linear-gradient(90deg,#6d9 0,#6e3 253px,#6dd 258px,#693 262px,#6e7 265px,#794 269px,#752 271px,#596 275px,#54b 276px,#53e 277px,#57d 278px,#60a 279px,#7d8 281px,#b06 284px,#cb9 286px,#dee 288px,#efe 291px,#f93 295px,#fa1 300px,#f2e 304px,#e52 307px,#d50 309px,#bd5 311px,#8cb 314px,#6be 316px,#5f5 317px,#571 318px,#53c 319px,#551 320px,#617 322px,#75a 325px,#793 327px,#69a 333px,#6c8 337px,#6ed 342px,#6db 350px,#6d9 595px)"></i>
<i style="top:216px;background:linear-gradient(90deg,#6d9 0,#6e5 254px,#6d4 259px,#69d 263px,#731 267px,#77e 270px,#71d 272px,#57e 276px,#557 277px,#575 278px,#5dd 279px,#68c 280px,#878 282px,#b84 285px,#d11 287px,#e25 289px,#f14 292px,#f91 296px,#f7e 301px,#ece 305px,#d98 308px,#c42 310px,#a72 312px,#753 315px,#673 316px,#5cc 317px,#56d 318px,#559 319px,#5e3 321px,#726 324px,#780 326px,#72b 329px,#6ab 332px,#6c1 336px,#6ed 341px,#6dd 350px,#6d9 595px)"></i>
<i style="top:218px;background:linear-gradient(90deg,#6d9 0,#6e5 255px,#6ce 260px,#6a9 264px,#76f 270px,#734 272px,#5b6 276px,#57d 277px,#57c 278px,#5c2 279px,#64e 280px,#80a 282px,#b14 285px,#cb8 287px,#de5 289px,#ef0 292px,#f7e 296px,#f67 301px,#ee9 304px,#dd6 307px,#ca2 309px,#af7 311px,#6fc 315px,#63a 316px,#5b5 317px,#579 318px,#581 319px,#622 321px,#73b 324px,#76f 326px,#6a8 332px,#6ec 340px,#6d8 365px,#6d9 595px)"></i>
<i style="top:220px;background:linear-gradient(90deg,#6d9 0,#6e6 256px,#6b7 265px,#75b 270px,#740 272px,#650 275px,#5aa 277px,#592 278px,#5b8 279px,#621 280px,#6cb 281px,#9a4 284px,#c59 287px,#d9e 289px,#ec7 292px,#f51 295px,#f73 299px,#efd 303px,#e0b 306px,#cf6 308px,#b6f 310px,#78a 314px,#6b4 315px,#611 316px,#5af 317px,#592 318px,#5fb 320px,#70f 323px,#75d 325px,#719 328px,#6ab 332px,#6e5 340px,#6d9 595px)"></i>
<i style="top:222px;background:linear-gradient(90deg,#6d9 0,#6d4 261px,#6b5 265px,#74f 271px,#71c 273px,#5dd 277px,#5b3 278px,#5bd 279px,#606 280px,#68f 281px,#837 283px,#bf4 287px,#d51 289px,#e99 292px,#f34 295px,#f5b 299px,#f0a 302px,#e37 305px,#d3f 307px,#bdb 309px,#736 314px,#67c 315px,#5fa 316px,#5b8 317px,#5b5 318px,#634 320px,#722 323px,#74f 325px,#6b4 331px,#6de 340px,#6d9 595px)"></i>
<i style="top:224px;background:linear-gradient(90deg,#6d9 0,#6d1 262px,#6bf 266px,#73e 272px,#6b0 275px,#5dc 278px,#5d0 279px,#5fb 280px,#665 281px,#7d8 283px,#b8a 287px,#cfe 289px,#e05 291px,#ee9 294px,#f40 297px,#f0f 301px,#e5a 304px,#d7e 306px,#c3b 308px,#99c 311px,#6f1 314px,#655 315px,#5f3 316px,#5ce 317px,#61a 319px,#72b 323px,#727 326px,#6b8 331px,#6df 339px,#6d9 595px)"></i>
<i style="top:226px;background:linear-gradient(90deg,#6d9 0,#6cf 263px,#6dc 268px,#733 272px,#6d3 275px,#609 278px,#5ff 280px,#64a 281px,#6cf 282px,#85f 284px,#bed 288px,#d40 290px,#e7e 293px,#f0e 296px,#f1f 299px,#eb8 302px,#db3 305px,#c8f 307px,#a1d 310px,#76d 313px,#6bc 314px,#63e 315px,#5fa 316px,#60f 318px,#70e 322px,#727 325px,#6be 330px,#6d7 340px,#6d9 595px)"></i>
<i style="top:228px;background:linear-gradient(90deg,#6d9 0,#6ce 264px,#6e6 269px,#725 273px,#6b4 276px,#610 279px,#60f 280px,#63f 281px,#6a6 282px,#804 284px,#b85 288px,#ceb 290px,#e46 293px,#ee7 296px,#efa 299px,#e86 302px,#d67 305px,#c2f 307px,#9af 310px,#72b 313px,#697 314px,#636 315px,#613 317px,#716 322px,#712 325px,#6c3 330px,#6d9 348px,#6d9 595px)"></i>
<i style="top:230px;background:linear-gradient(90deg,#6d9 0,#6da 269px,#715 274px,#628 280px,#642 281px,#68d 282px,#7b6 284px,#be0 289px,#d26 291px,#e57 294px,#ed1 297px,#eb6 300px,#dfd 303px,#d15 305px,#b00 308px,#7a0 312px,#681 314px,#63c 315px,#63c 317px,#717 322px,#6c9 330px,#6d9 595px)"></i>
<i style="top:232px;background:linear-gradient(90deg,#6d9 0,#6e1 270px,#712 274px,#6bd 277px,#648 280px,#682 282px,#776 284px,#c2f 290px,#d55 292px,#e5b 295px,#ea9 298px,#e54 301px,#d46 304px,#b60 307px,#815 311px,#6d7 313px,#64c 315px,#665 317px,#707 321px,#6df 326px,#6d9 595px)"></i>
<i style="top:234px;background:linear-gradient(90deg,#6d9 0,#6e7 271px,#706 275px,#665 281px,#6ce 283px,#7e4 285px,#bca 290px,#d77 293px,#e4e 296px,#e68 299px,#dcb 302px,#c5e 305px,#a29 308px,#7cf 311px,#6c3 313px,#664 315px,#707 321px,#6d5 330px,#6d9 595px)"></i>
<i style="top:236px;background:linear-gradient(90deg,#6d9 0,#6ea 272px,#6fb 276px,#680 281px,#6c4 283px,#7a8 285px,#c0e 291px,#d89 294px,#e2d 297px,#e08 300px,#d15 303px,#b4b 306px,#83b 310px,#714 312px,#68c 314px,#6ad 317px,#703 321px,#6d9 330px,#6d9 595px)"></i>
<i style="top:238px;background:linear-gradient(90deg,#6d9 0,#6ed 273px,#6df 278px,#6a1 282px,#70c 284px,#80c 286px,#ba7 291px,#d36 294px,#dc4 296px,#de3 299px,#d80 301px,#cba 303px,#ae1 306px,#7f9 310px,#701 312px,#69f 314px,#6fc 321px,#6da 334px,#6d9 595px)"></i>
<i style="top:240px;background:linear-gradient(90deg,#6d9 0,#6ee 274px,#6db 279px,#6b7 282px,#702 284px,#7d5 286px,#bdd 292px,#cda 294px,#d72 296px,#da3 298px,#d6c 300px,#cce 302px,#b29 305px,#85a 309px,#74d 311px,#6c9 313px,#6ca 316px,#6f5 321px,#6d9 356px,#6d9 595px)"></i>
<i style="top:242px;background:linear-gradient(90deg,#6d9 0,#6ef 275px,#6db 283px,#745 285px,#82e 287px,#c01 293px,#cd5 295px,#d3f 297px,#d3c 299px,#ccb 301px,#b61 304px,#81d 309px,#73b 311px,#6d8 313px,#6e7 322px,#6d9 595px)"></i>
<i style="top:244px;background:linear-gradient(90deg,#6d9 0,#6f0 276px,#6eb 283px,#73b 285px,#7fa 287px,#b94 293px,#c6e 295px,#cdd 297px,#cda 299px,#c64 301px,#af4 304px,#7ec 309px,#733 311px,#6e3 314px,#6d9 595px)"></i>
<i style="top:246px;background:linear-gradient(90deg,#6d9 0,#6f2 277px,#70f 284px,#777 286px,#8cf 289px,#b24 293px,#bff 295px,#c72 297px,#c6e 299px,#bf5 301px,#a87 304px,#837 308px,#76e 310px,#6fa 313px,#6d9 398px,#6d9 595px)"></i>
<i style="top:248px;background:linear-gradient(90deg,#6d9 0,#6ef 277px,#719 284px,#7b4 287px,#910 290px,#b28 294px,#bd1 296px,#c09 298px,#bc9 300px,#aa2 303px,#808 308px,#733 311px,#6f8 317px,#6d9 399px,#6d9 595px)"></i>
<i style="top:250px;background:linear-gradient(90deg,#6d9 0,#6f3 278px,#73b 285px,#7ec 288px,#b0d 295px,#b7d 297px,#b7a 299px,#b02 301px,#931 305px,#7e2 308px,#737 311px,#6e3 322px,#6d9 595px)"></i>
<i style="top:252px;background:linear-gradient(90deg,#6d9 0,#6f1 278px,#73c 285px,#7cc 288px,#95c 292px,#a8b 295px,#af6 297px,#af3 299px,#a28 302px,#812 307px,#758 310px,#6f6 317px,#6d9 436px,#6d9 595px)"></i>
<i style="top:254px;background:linear-gradient(90deg,#6d9 0,#6f0 278px,#757 286px,#7f1 289px,#a07 295px,#a69 297px,#a66 299px,#9ae 302px,#7e9 307px,#753 310px,#6f0 318px,#6d9 595px)"></i>
<i style="top:256px;background:linear-gradient(90deg,#6d9 0,#6ef 278px,#74f 286px,#809 290px,#9b6 296px,#9d4 299px,#935 302px,#7c3 307px,#735 311px,#6e0 323px,#6d9 595px)"></i>
<i style="top:258px;background:linear-gradient(90deg,#6d9 0,#6f2 279px,#75d 287px,#84a 292px,#929 296px,#941 299px,#882 303px,#779 308px,#6fe 315px,#6d9 363px,#6d9 595px)"></i>
<i style="top:260px;background:linear-gradient(90deg,#6d9 0,#6ef 279px,#748 287px,#855 294px,#8b9 298px,#850 302px,#75e 308px,#6ee 317px,#6d9 595px)"></i>
<i style="top:262px;background:linear-gradient(90deg,#6d9 0,#6f4 281px,#770 290px,#826 297px,#800 301px,#71f 310px,#6db 326px,#6d9 595px)"></i>
<i style="top:264px;background:linear-gradient(90deg,#6d9 0,#6f0 282px,#780 294px,#79a 300px,#6f4 313px,#6d9 551px,#6d9 595px)"></i>
<i style="top:266px;background:linear-gradient(90deg,#6d9 0,#6ef 286px,#723 301px,#6da 324px,#6d9 595px)"></i>
<i style="top:268px;background:linear-gradient(90deg,#6d9 0,#6d9 595px)"></i>
<i style="top:270px;background:linear-gradient(90deg,#6d9 0,#6d9 595px)"></i>
</div></div>
<svg id="sv" style="will-change:transform" width="685" height="988">
<defs><clipPath id="ca"><rect x="79.5" y="8" width="585" height="263.5"/></clipPath><clipPath id="cb"><rect x="79.5" y="325" width="585" height="263.5"/></clipPath><clipPath id="cra"><rect x="316.90" y="8" width="110.20" height="263.5"/></clipPath><clipPath id="crb"><rect x="316.90" y="325" width="110.20" height="263.5"/></clipPath><clipPath id="cc"><rect x="78.5" y="646.5" width="586" height="264"/></clipPath></defs>
<g clip-path="url(#ca)" fill="none" stroke-width="2" stroke-linejoin="round">
<path d="M79.5 106.9L83.6 106.7 89.2 106.9 94.3 106.7 99.7 107.0 105.0 106.6 110.7 107.1 116.2 106.5 122.0 107.2 127.8 106.4 133.7 107.3 135.2 107.2 138.3 106.3 139.8 106.2 141.1 106.3 144.4 107.4 145.9 107.6 147.4 107.4 150.6 106.1 152.2 105.8 153.9 106.2 157.2 107.8 158.6 108.1 160.2 107.7 163.5 105.6 165.1 105.2 166.0 105.4 166.8 105.8 170.3 108.4 171.8 108.8 172.6 108.6 173.4 108.2 176.9 104.8 177.8 104.3 178.5 104.2 179.4 104.4 180.2 105.1 183.8 109.4 184.7 109.9 185.4 110.0 186.2 109.8 187.2 109.0 190.8 103.4 191.7 102.6 192.4 102.4 193.2 102.8 194.1 103.8 197.8 110.8 198.8 111.8 199.6 112.1 200.6 111.7 201.7 110.2 202.8 107.8 205.3 101.0 206.2 99.7 206.9 99.3 207.6 99.8 208.5 101.4 211.2 110.1 212.4 113.2 213.5 114.9 214.5 115.3 215.1 115.1 215.7 114.4 216.8 112.1 218.0 107.9 220.5 96.7 221.2 94.7 221.6 94.2 222.0 94.1 222.3 94.3 222.7 95.0 223.4 97.3 226.1 110.4 227.4 115.7 228.7 118.8 229.5 119.6 230.1 119.8 230.8 119.3 231.5 118.1 232.8 113.8 234.2 106.4 236.6 89.2 237.2 86.7 237.5 86.0 237.8 85.9 238.4 87.1 239.0 90.2 241.5 109.5 243.0 117.9 243.8 121.1 244.7 123.3 245.5 124.6 246.4 124.9 246.8 124.7 247.3 124.2 248.2 122.5 249.0 119.5 249.9 115.1 251.2 104.4 253.5 78.7 254.0 75.5 254.4 74.3 254.9 75.6 255.4 79.1 257.8 106.9 259.4 119.3 260.4 124.0 261.4 127.4 262.6 129.5 263.2 129.9 263.9 129.9 264.5 129.6 265.1 128.9 266.3 126.0 267.2 121.7 268.1 116.1 269.5 100.0 271.6 65.4 272.1 60.6 272.4 59.7 272.8 61.2 273.3 66.7 275.7 106.6 277.1 120.5 278.2 126.5 279.5 130.9 280.3 132.3 281.1 133.4 282.0 133.9 282.9 134.0 283.8 133.5 284.5 132.7 285.2 131.3 285.9 129.3 287.1 123.9 288.1 116.4 288.8 108.0 289.6 95.9 291.6 46.9 292.0 42.7 292.2 42.2 292.6 45.0 292.9 51.5 295.0 100.5 295.8 112.9 296.8 122.0 298.1 129.3 299.0 132.1 299.9 134.2 301.0 135.7 302.2 136.7 303.6 137.1 305.0 136.9 306.2 136.2 307.3 134.9 308.1 133.3 309.0 130.9 310.3 124.3 311.3 115.7 312.0 105.3 312.6 92.6 314.4 30.4 314.8 22.2 315.0 20.4 315.5 27.0 317.1 82.6 318.3 109.3 319.0 118.4 319.9 125.3 320.9 130.7 322.3 134.4 323.7 136.7 325.4 138.1 327.7 139.0 330.8 139.5 339.4 139.7 410.6 139.9 414.1 140.1 416.7 140.6 418.6 141.5 420.2 142.8 421.1 144.2 422.0 145.9 423.3 150.3 424.4 156.8 425.3 166.7 426.6 190.0 428.2 249.2 428.6 257.4 428.9 259.1 429.1 257.3 429.5 249.1 431.3 186.9 431.9 174.2 432.6 163.8 433.6 155.2 434.9 148.6 435.7 146.2 436.6 144.6 437.7 143.3 438.9 142.6 440.3 142.4 441.6 142.8 442.9 143.8 443.9 145.3 444.9 147.4 445.7 150.2 447.1 157.5 448.0 166.6 448.9 179.0 450.9 228.0 451.3 234.5 451.7 237.3 451.9 236.8 452.3 232.6 454.3 183.6 455.0 171.5 455.8 163.1 456.7 155.6 457.9 150.2 458.7 148.2 459.4 146.8 460.1 146.0 461.0 145.5 461.9 145.6 462.8 146.1 463.6 147.2 464.3 148.6 465.7 153.0 466.8 159.0 468.2 172.9 470.6 212.8 471.1 218.3 471.5 219.8 471.8 218.9 472.3 214.1 474.4 179.5 475.8 163.4 476.6 157.8 477.6 153.5 478.8 150.6 479.4 149.9 480.0 149.6 480.6 149.6 481.2 150.0 482.4 152.1 483.5 155.5 484.5 160.2 486.1 172.6 488.5 200.4 489.0 203.9 489.4 205.2 489.9 204.0 490.4 200.8 492.7 175.1 494.0 164.4 494.9 160.0 495.7 157.0 496.6 155.3 497.0 154.8 497.5 154.6 498.4 154.9 499.2 156.2 500.1 158.4 500.9 161.6 502.4 170.0 504.9 189.3 505.5 192.4 506.1 193.6 506.3 193.5 506.7 192.8 507.3 190.3 509.7 173.1 511.0 165.7 512.4 161.4 513.1 160.2 513.8 159.7 514.4 159.9 515.2 160.7 516.5 163.8 517.8 169.1 520.5 182.2 521.2 184.5 521.5 185.2 521.9 185.4 522.3 185.3 522.6 184.8 523.4 182.8 525.9 171.6 527.1 167.4 528.2 165.1 528.8 164.4 529.4 164.2 530.4 164.6 531.4 166.3 532.7 169.4 535.4 178.1 536.3 179.7 537.0 180.2 537.7 179.8 538.6 178.5 541.1 171.7 542.2 169.3 543.3 167.8 544.2 167.4 545.1 167.7 546.1 168.7 549.8 175.7 550.6 176.7 551.5 177.1 552.2 176.9 553.1 176.1 556.7 170.5 557.6 169.7 558.5 169.5 559.2 169.6 560.1 170.1 563.7 174.4 564.5 175.1 565.4 175.3 566.1 175.2 566.9 174.7 570.4 171.3 571.3 170.9 572.1 170.7 573.6 171.1 577.1 173.7 577.9 174.1 578.8 174.3 580.3 173.9 583.7 171.8 585.3 171.4 586.7 171.7 590.0 173.3 591.7 173.7 593.2 173.4 596.5 172.1 598.0 171.9 599.5 172.1 602.8 173.2 604.1 173.3 605.6 173.2 608.7 172.3 610.1 172.2 616.1 173.1 621.9 172.3 627.6 173.0 633.2 172.4 638.9 172.9 644.2 172.5 649.6 172.8 654.7 172.6 660.2 172.8 664.5 172.6" stroke="#0000ff"/>
<path clip-path="url(#cra)" d="M79.5 106.8L328.7 106.8 341.5 106.9 348.5 107.4 350.9 107.7 353.0 108.2 355.0 108.9 356.7 109.7 358.2 110.6 359.7 111.9 361.0 113.3 362.3 115.0 363.6 116.9 364.8 119.2 367.2 124.8 369.5 131.5 375.7 151.7 377.8 157.1 379.8 161.5 381.1 163.6 382.4 165.5 383.7 167.0 385.2 168.4 386.7 169.5 388.4 170.4 390.3 171.1 392.4 171.6 395.5 172.1 399.4 172.4 412.3 172.7 664.5 172.7" stroke="#ff0000" stroke-width="1.8" stroke-dasharray="10.2 9.35" stroke-dashoffset="1.15"/>
<path d="M79.5 106.81H317.40V139.75H426.60V172.69H664.5" stroke="#000" stroke-width="2.2"/>
</g>
<rect x="79.5" y="8.0" width="585.0" height="263.5" fill="none" stroke="#262626" stroke-width="1.0"/><path d="M177.0 271.5V265.5M177.0 8.0V14.0M274.5 271.5V265.5M274.5 8.0V14.0M372.0 271.5V265.5M372.0 8.0V14.0M469.5 271.5V265.5M469.5 8.0V14.0M567.0 271.5V265.5M567.0 8.0V14.0M79.5 73.875H85.5M664.5 73.875H658.5M79.5 139.75H85.5M664.5 139.75H658.5M79.5 205.625H85.5M664.5 205.625H658.5" stroke="#262626" stroke-width="1.0" fill="none"/>
<g clip-path="url(#cb)" fill="none" stroke-width="2" stroke-linejoin="round">
<path d="M79.5 500.6L83.6 500.8 89.1 500.5 94.1 500.8 99.6 500.5 105.0 500.9 110.6 500.4 116.2 501.0 121.9 500.2 127.7 501.2 129.3 501.0 132.4 500.1 133.7 500.0 135.3 500.3 138.4 501.3 139.8 501.5 141.3 501.2 144.5 499.9 145.9 499.7 147.5 500.0 150.8 501.7 152.1 501.9 153.5 501.6 156.9 499.5 158.5 499.1 159.9 499.5 163.4 502.2 164.3 502.6 165.0 502.7 165.8 502.5 166.7 502.0 170.2 498.6 170.9 498.2 171.6 498.0 172.5 498.3 173.4 499.0 176.9 503.4 177.7 503.9 178.4 504.0 179.2 503.7 180.2 502.7 183.8 497.0 184.6 496.4 185.3 496.2 186.1 496.6 187.0 497.5 190.6 504.9 191.4 506.0 192.3 506.3 193.2 505.8 194.2 504.1 197.9 494.4 198.8 493.2 199.5 492.9 200.4 493.5 201.2 495.1 202.2 497.9 204.9 507.6 205.9 509.7 206.4 510.2 206.8 510.3 207.2 510.0 207.7 509.3 208.7 506.7 211.7 493.3 212.7 489.8 213.5 487.8 214.0 487.3 214.4 487.3 214.7 487.5 215.2 488.2 216.2 491.2 217.1 495.7 220.0 512.2 221.0 515.6 221.5 516.4 221.8 516.5 222.3 516.2 222.8 515.1 223.9 510.4 226.9 488.9 228.0 482.5 229.0 479.0 229.5 478.2 229.8 478.1 230.3 478.5 230.8 479.7 231.7 484.1 232.8 492.0 235.8 518.6 236.8 523.7 237.3 525.0 237.7 525.2 238.1 524.7 238.6 523.1 239.7 516.1 242.9 483.0 244.1 472.4 245.1 466.5 245.6 465.2 246.1 464.9 246.6 465.4 247.2 467.4 248.3 474.6 249.5 487.1 252.5 525.3 253.5 532.9 254.0 534.9 254.4 535.5 254.9 534.6 255.4 532.3 256.4 523.7 259.7 475.4 261.1 459.9 262.3 451.1 262.9 449.0 263.2 448.4 263.5 448.3 264.1 449.3 264.7 451.9 265.9 461.7 267.2 479.2 270.5 532.7 271.5 542.6 271.9 545.1 272.2 545.7 272.4 545.8 272.9 544.6 273.4 541.6 274.4 530.7 277.9 468.5 279.3 447.7 280.1 439.1 280.9 433.9 281.6 430.8 282.0 430.0 282.3 429.7 282.8 430.2 283.2 431.2 283.9 434.8 285.3 448.5 286.9 473.0 290.3 539.5 291.3 551.3 291.7 554.3 292.0 555.0 292.2 555.1 292.7 553.7 293.2 550.1 294.1 537.3 297.8 462.8 299.6 434.1 300.5 423.5 301.6 415.4 302.6 411.2 303.1 410.1 303.7 409.6 304.3 410.2 304.8 411.4 305.9 416.7 306.8 424.6 307.8 435.9 309.6 466.8 313.2 546.8 314.2 559.7 314.7 562.8 315.0 563.5 315.5 562.2 316.0 558.5 317.0 544.6 320.6 462.7 322.4 430.8 323.4 418.5 324.4 408.1 325.7 399.8 327.0 393.6 328.4 389.4 330.0 386.6 331.9 384.6 334.5 383.5 337.2 382.9 341.2 382.7 364.6 382.6 399.9 382.7 404.6 382.8 407.7 383.1 410.6 383.9 412.8 385.3 414.6 387.7 416.1 390.9 417.6 396.7 419.0 404.4 420.2 414.7 421.2 427.5 423.3 462.7 426.9 544.6 427.9 558.5 428.4 562.2 428.9 563.5 429.2 562.8 429.7 559.7 430.7 546.8 434.3 466.8 436.1 435.9 437.1 424.6 438.0 416.7 439.1 411.4 439.6 410.2 440.2 409.6 440.8 410.1 441.3 411.2 442.2 415.4 443.3 423.5 444.3 434.1 446.1 462.8 449.7 537.3 450.7 550.1 451.2 553.7 451.7 555.1 451.9 555.0 452.1 554.3 452.6 551.3 453.6 539.5 457.0 473.0 458.5 448.5 460.0 434.8 460.7 431.2 461.1 430.2 461.6 429.7 461.9 430.0 462.3 430.8 463.0 433.9 463.7 439.1 464.6 447.7 466.0 468.5 469.5 530.7 470.5 541.6 471.0 544.6 471.5 545.8 471.7 545.7 471.9 545.1 472.4 542.6 473.4 532.7 476.6 479.2 478.0 461.7 479.2 451.9 479.8 449.3 480.4 448.3 480.6 448.4 481.0 449.0 481.6 451.1 482.8 459.9 484.1 475.4 487.5 523.7 488.5 532.3 489.0 534.6 489.4 535.5 489.9 534.9 490.4 532.9 491.4 525.3 494.4 487.1 495.6 474.6 496.7 467.4 497.3 465.4 497.8 464.9 498.3 465.2 498.7 466.5 499.8 472.4 501.0 483.0 504.2 516.1 505.3 523.1 505.7 524.7 506.2 525.2 506.6 525.0 507.1 523.7 508.0 518.6 511.0 492.0 512.1 484.1 513.1 479.7 513.6 478.5 514.1 478.1 514.4 478.2 514.9 479.0 515.9 482.5 517.0 488.9 520.0 510.4 521.1 515.1 521.5 516.2 522.0 516.5 522.4 516.4 522.9 515.6 523.8 512.2 526.7 495.7 527.7 491.2 528.7 488.2 529.2 487.5 529.5 487.3 529.9 487.3 530.4 487.8 531.2 489.8 532.2 493.3 535.2 506.7 536.2 509.3 536.6 510.0 537.1 510.3 537.5 510.2 538.0 509.7 538.9 507.6 541.7 497.9 542.7 495.1 543.5 493.5 544.4 492.9 545.1 493.2 545.9 494.4 549.7 504.1 550.6 505.8 551.6 506.3 552.4 506.0 553.3 504.9 556.9 497.5 557.8 496.6 558.6 496.2 559.3 496.4 560.1 497.0 563.7 502.7 564.6 503.7 565.5 504.0 566.2 503.9 566.9 503.4 570.4 499.0 571.4 498.3 572.2 498.0 573.0 498.2 573.7 498.6 577.2 502.0 578.0 502.5 578.9 502.7 579.6 502.6 580.5 502.2 584.0 499.5 585.4 499.1 587.0 499.5 590.3 501.6 591.8 501.9 593.1 501.7 596.4 500.0 598.0 499.7 599.4 499.9 602.5 501.2 604.1 501.5 605.4 501.3 608.6 500.3 610.1 500.0 611.5 500.1 614.6 501.0 616.2 501.2 622.0 500.2 627.6 501.0 633.3 500.4 638.9 500.9 644.3 500.5 649.7 500.8 654.8 500.5 660.2 500.8 664.5 500.6" stroke="#0000ff"/>
<path clip-path="url(#crb)" d="M79.5 500.67H664.5" stroke="#ff0000" stroke-width="1.8" stroke-dasharray="10.2 9.35" stroke-dashoffset="1.15"/>
<path d="M79.5 500.67H317.40V382.97H426.60V500.67H664.5" stroke="#000" stroke-width="2.2"/>
</g>
<rect x="79.5" y="325.0" width="585.0" height="263.5" fill="none" stroke="#262626" stroke-width="1.0"/><path d="M177.0 588.5V582.5M177.0 325.0V331.0M274.5 588.5V582.5M274.5 325.0V331.0M372.0 588.5V582.5M372.0 325.0V331.0M469.5 588.5V582.5M469.5 325.0V331.0M567.0 588.5V582.5M567.0 325.0V331.0M79.5 412.8333333333333H85.5M664.5 412.8333333333333H658.5M79.5 500.66666666666663H85.5M664.5 500.66666666666663H658.5" stroke="#262626" stroke-width="1.0" fill="none"/>
<g clip-path="url(#cc)">
<path d="M372.0 910.5L182.00 646.5" stroke="#ff8040" stroke-width="1.6" fill="none"/>
<path d="M372.0 910.5L562.50 646.5" stroke="#ff8040" stroke-width="1.6" fill="none"/>
<path d="M372.0 910.5L336.80 646.5" stroke="#bf00bf" stroke-width="1.7" fill="none"/>
<path d="M372.0 910.5L405.80 646.5" stroke="#bf00bf" stroke-width="1.7" fill="none"/>
<path d="M372.0 910.5L317.40 646.5" stroke="#000" stroke-width="2.0" fill="none"/>
<path d="M372.0 910.5L426.60 646.5" stroke="#000" stroke-width="2.0" fill="none"/>
</g>
<path d="M177.0 910.5V904.5M177.0 646.5V652.5M274.5 910.5V904.5M274.5 646.5V652.5M372.0 910.5V904.5M372.0 646.5V652.5M469.5 910.5V904.5M469.5 646.5V652.5M567.0 910.5V904.5M567.0 646.5V652.5M78.5 734.5H84.5M78.5 822.5H84.5" stroke="#262626" stroke-width="1.3" fill="none"/>
<path d="M78.5 646.5H664.5" stroke="#262626" stroke-opacity="0.5" stroke-width="1"/>
<path d="M78.5 646V910.5M664.5 646V910.5" stroke="#262626" stroke-width="1"/>
<path d="M78 910.25H665" stroke="#262626" stroke-opacity="0.75" stroke-width="1.2"/>
<defs><linearGradient id="cbg" x1="0" y1="0" x2="0" y2="1"><stop offset="0.0000" stop-color="rgb(249,251,21)"/><stop offset="0.0323" stop-color="rgb(245,239,32)"/><stop offset="0.0645" stop-color="rgb(245,226,39)"/><stop offset="0.0968" stop-color="rgb(250,213,45)"/><stop offset="0.1290" stop-color="rgb(254,200,52)"/><stop offset="0.1613" stop-color="rgb(253,189,61)"/><stop offset="0.1935" stop-color="rgb(238,186,52)"/><stop offset="0.2258" stop-color="rgb(218,189,40)"/><stop offset="0.2581" stop-color="rgb(194,194,43)"/><stop offset="0.2903" stop-color="rgb(167,199,59)"/><stop offset="0.3226" stop-color="rgb(139,203,81)"/><stop offset="0.3548" stop-color="rgb(109,205,104)"/><stop offset="0.3871" stop-color="rgb(82,204,126)"/><stop offset="0.4194" stop-color="rgb(59,201,146)"/><stop offset="0.4516" stop-color="rgb(47,197,163)"/><stop offset="0.4839" stop-color="rgb(31,192,178)"/><stop offset="0.5161" stop-color="rgb(5,188,192)"/><stop offset="0.5484" stop-color="rgb(4,182,205)"/><stop offset="0.5806" stop-color="rgb(22,175,217)"/><stop offset="0.6129" stop-color="rgb(30,166,225)"/><stop offset="0.6452" stop-color="rgb(37,157,230)"/><stop offset="0.6774" stop-color="rgb(42,147,238)"/><stop offset="0.7097" stop-color="rgb(45,136,246)"/><stop offset="0.7419" stop-color="rgb(49,125,252)"/><stop offset="0.7742" stop-color="rgb(61,113,255)"/><stop offset="0.8065" stop-color="rgb(68,100,253)"/><stop offset="0.8387" stop-color="rgb(71,89,248)"/><stop offset="0.8710" stop-color="rgb(72,77,241)"/><stop offset="0.9032" stop-color="rgb(71,66,230)"/><stop offset="0.9355" stop-color="rgb(69,55,214)"/><stop offset="0.9677" stop-color="rgb(66,46,192)"/><stop offset="1.0000" stop-color="rgb(62,38,168)"/></linearGradient></defs>
<rect x="644.6" y="657.9" width="30.4" height="224.2" fill="url(#cbg)" stroke="#262626" stroke-width="1.8"/>
<path d="M644.6 834.12h6M644.6 786.14h6M644.6 738.17h6M644.6 690.19h6" stroke="#262626" stroke-width="1"/>
<text x="614.5" y="700.49" font-size="26" text-anchor="middle">0.4</text>
<text x="614.5" y="748.47" font-size="26" text-anchor="middle">0.3</text>
<text x="614.5" y="796.44" font-size="26" text-anchor="middle">0.2</text>
<text x="614.5" y="844.42" font-size="26" text-anchor="middle">0.1</text>
<text x="614.5" y="889" font-size="26" text-anchor="middle">0</text>
<text x="668.01" y="773.62" font-size="22.3" text-anchor="middle" transform="rotate(-90 668.01 773.62)">Power (W)</text>
<rect x="327.2" y="634.7" width="95.3" height="23" rx="7.5" fill="rgb(249,251,21)"/>
<text x="332.19" y="652.75" font-size="25.5" font-style="italic">plateau</text>
<text x="87.96" y="676.95" font-size="33.5">(c)</text>
<text x="220.7" y="681.0" font-size="26">DSW-L</text>
<text x="447.92" y="680.85" font-size="26">DSW-R</text>
<text x="133.34" y="888.16" font-size="26">(classical SW)</text>
<text x="414.24" y="888.16" font-size="26">(classical SW)</text>
<text x="237.26" y="847.15" font-size="20.8">CSW</text>
<text x="481.66" y="847.1" font-size="20.8">CSW</text>
<text x="237.12" y="751.02" font-size="20.8">4</text>
<text x="352.09" y="703.9" font-size="20.8">3</text>
<text x="386.94" y="699.8" font-size="20.8">2</text>
<text x="514.82" y="750.94" font-size="20.8">1</text>
<path d="M226.9 732.7C227.8 730.6 229.3 729.6 231.5 729.6L237.7 729.6M233.9 729.8L230.6 738.8" stroke="#000" stroke-width="1.9" fill="none" stroke-linecap="round"/>
<path d="M343.2 681.5C344.1 679.4 345.6 678.4 347.8 678.4L354.0 678.4M350.2 678.6L346.9 687.6" stroke="#000" stroke-width="1.9" fill="none" stroke-linecap="round"/>
<path d="M376.9 681.5C377.8 679.4 379.3 678.4 381.5 678.4L387.7 678.4M383.9 678.6L380.6 687.6" stroke="#000" stroke-width="1.9" fill="none" stroke-linecap="round"/>
<path d="M505.2 732.7C506.1 730.6 507.6 729.6 509.8 729.6L516.0 729.6M512.2 729.8L508.9 738.8" stroke="#000" stroke-width="1.9" fill="none" stroke-linecap="round"/>
<path d="M227.0 828.3C227.9 826.2 229.4 825.2 231.6 825.2L237.8 825.2M234.0 825.4L230.7 834.4" stroke="#000" stroke-width="1.9" fill="none" stroke-linecap="round"/>
<path d="M471.3 828.6C472.2 826.5 473.7 825.5 475.9 825.5L482.1 825.5M478.3 825.7L475.0 834.7" stroke="#000" stroke-width="1.9" fill="none" stroke-linecap="round"/>
<path d="M251.4 820.7L322.8 759.9" stroke="#000" stroke-width="1.25" fill="none"/><path d="M326.00 757.20L322.35 763.72L322.54 760.15L318.98 759.76Z" fill="#000" stroke="#000" stroke-width="0.75" stroke-linejoin="miter"/>
<path d="M487.4 819.5L417.1 756.8" stroke="#000" stroke-width="1.25" fill="none"/><path d="M414.00 754.00L420.95 756.72L417.39 757.03L417.49 760.60Z" fill="#000" stroke="#000" stroke-width="0.75" stroke-linejoin="miter"/>
<text x="87.04" y="34.95" font-size="33.5">(a)</text>
<text x="137.99" y="35.44" font-size="26">Z=15km</text>
<text x="137.8" y="73.7" font-size="26" fill="#0000ff" color="#0000ff">DSW-L</text>
<text x="392.86" y="90.65" font-size="26" fill="#ff0000" color="#ff0000">input</text>
<text x="526.52" y="136.2" font-size="26" fill="#0000ff" color="#0000ff">DSW-R</text>
<text x="182.2" y="222.4" font-size="26">classical SWs</text>
<text x="86.84" y="359.75" font-size="33.5">(b)</text>
<text x="137.54" y="357.29" font-size="26">Z=15km</text>
<text x="337.62" y="360.25" font-size="26" font-style="italic">plateau</text>
<text x="469.05" y="357.65" font-size="26">classical SWs</text>
<text x="133.15" y="430.35" font-size="26" fill="#0000ff" color="#0000ff">DSW-L</text>
<text x="532.17" y="437.95" font-size="26" fill="#0000ff" color="#0000ff">DSW-R</text>
<text x="363.96" y="570.05" font-size="26" fill="#ff0000" color="#ff0000">input</text>
<text x="21.56" y="139.95" font-size="28.6" text-anchor="middle" transform="rotate(-90 21.56 139.95)">Chirp [GHz]</text>
<text x="22.76" y="457.12" font-size="28.6" text-anchor="middle" transform="rotate(-90 22.76 457.12)">Power [W]</text>
<text x="31.01" y="778.55" font-size="28.6" text-anchor="middle" transform="rotate(-90 31.01 778.55)">Distance [km]</text>
<text x="313.18" y="982.25" font-size="26">Time [ps]</text>
<path d="M226.2 62.6L259.0 67.3" stroke="#0000ff" stroke-width="1.8" fill="none"/><path d="M262.00 67.70L256.63 69.96L258.78 67.24L257.47 64.02Z" fill="#0000ff" stroke="#0000ff" stroke-width="1.08" stroke-linejoin="miter"/>
<path d="M386.5 92.7L364.8 113.3" stroke="#ff0000" stroke-width="1.8" fill="none"/><path d="M362.60 115.40L364.16 109.78L364.96 113.16L368.29 114.13Z" fill="#ff0000" stroke="#ff0000" stroke-width="1.08" stroke-linejoin="miter"/>
<path d="M526.0 128.9L494.8 149.4" stroke="#0000ff" stroke-width="1.8" fill="none"/><path d="M492.30 151.00L494.84 145.75L495.02 149.22L498.13 150.77Z" fill="#0000ff" stroke="#0000ff" stroke-width="1.08" stroke-linejoin="miter"/>
<path d="M269.2 190.4L308.2 139.5" stroke="#000" stroke-width="1.25" fill="none"/><path d="M310.80 136.20L308.60 143.34L308.03 139.81L304.48 140.17Z" fill="#000" stroke="#000" stroke-width="0.75" stroke-linejoin="miter"/>
<path d="M271.8 191.9L412.0 155.6" stroke="#000" stroke-width="1.25" fill="none"/><path d="M416.10 154.50L409.98 158.77L411.70 155.64L408.67 153.74Z" fill="#000" stroke="#000" stroke-width="0.75" stroke-linejoin="miter"/>
<path d="M467.5 358.9L322.3 398.5" stroke="#000" stroke-width="1.25" fill="none"/><path d="M318.20 399.60L324.27 395.25L322.59 398.40L325.64 400.27Z" fill="#000" stroke="#000" stroke-width="0.75" stroke-linejoin="miter"/>
<path d="M467.5 359.5L437.5 388.8" stroke="#000" stroke-width="1.25" fill="none"/><path d="M434.50 391.70L437.69 384.95L437.76 388.52L441.33 388.67Z" fill="#000" stroke="#000" stroke-width="0.75" stroke-linejoin="miter"/>
<path d="M220.3 426.7L252.8 432.3" stroke="#0000ff" stroke-width="1.8" fill="none"/><path d="M255.80 432.80L250.36 434.91L252.60 432.25L251.38 429.00Z" fill="#0000ff" stroke="#0000ff" stroke-width="1.08" stroke-linejoin="miter"/>
<path d="M523.3 426.5L491.2 448.1" stroke="#0000ff" stroke-width="1.8" fill="none"/><path d="M488.70 449.80L491.17 444.52L491.40 447.98L494.52 449.50Z" fill="#0000ff" stroke="#0000ff" stroke-width="1.08" stroke-linejoin="miter"/>
<path d="M357.3 562.6L348.3 514.1" stroke="#ff0000" stroke-width="1.8" fill="none"/><path d="M347.70 511.20L351.57 515.56L348.30 514.39L345.67 516.67Z" fill="#ff0000" stroke="#ff0000" stroke-width="1.08" stroke-linejoin="miter"/>
<text x="71.0" y="281.80" font-size="26" text-anchor="end">-40</text>
<text x="71.0" y="215.93" font-size="26" text-anchor="end">-20</text>
<text x="71.0" y="150.05" font-size="26" text-anchor="end">0</text>
<text x="71.0" y="84.17" font-size="26" text-anchor="end">20</text>
<text x="71.0" y="18.30" font-size="26" text-anchor="end">40</text>
<text x="69.6" y="598.80" font-size="26" text-anchor="end">0</text>
<text x="69.6" y="510.97" font-size="26" text-anchor="end">0.2</text>
<text x="69.6" y="423.13" font-size="26" text-anchor="end">0.4</text>
<text x="69.6" y="335.30" font-size="26" text-anchor="end">0.6</text>
<text x="70.8" y="920.80" font-size="26" text-anchor="end">0</text>
<text x="70.8" y="832.80" font-size="26" text-anchor="end">5</text>
<text x="70.8" y="744.80" font-size="26" text-anchor="end">10</text>
<text x="70.8" y="656.80" font-size="26" text-anchor="end">15</text>
<text x="79.5" y="306.3" font-size="26" text-anchor="middle">-600</text>
<text x="177.0" y="306.3" font-size="26" text-anchor="middle">-400</text>
<text x="274.5" y="306.3" font-size="26" text-anchor="middle">-200</text>
<text x="372.0" y="306.3" font-size="26" text-anchor="middle">0</text>
<text x="469.5" y="306.3" font-size="26" text-anchor="middle">200</text>
<text x="567.0" y="306.3" font-size="26" text-anchor="middle">400</text>
<text x="664.5" y="306.3" font-size="26" text-anchor="middle">600</text>
<text x="79.5" y="623.5" font-size="26" text-anchor="middle">-600</text>
<text x="177.0" y="623.5" font-size="26" text-anchor="middle">-400</text>
<text x="274.5" y="623.5" font-size="26" text-anchor="middle">-200</text>
<text x="372.0" y="623.5" font-size="26" text-anchor="middle">0</text>
<text x="469.5" y="623.5" font-size="26" text-anchor="middle">200</text>
<text x="567.0" y="623.5" font-size="26" text-anchor="middle">400</text>
<text x="664.5" y="623.5" font-size="26" text-anchor="middle">600</text>
<text x="79.5" y="945.5" font-size="26" text-anchor="middle">-600</text>
<text x="177.0" y="945.5" font-size="26" text-anchor="middle">-400</text>
<text x="274.5" y="945.5" font-size="26" text-anchor="middle">-200</text>
<text x="372.0" y="945.5" font-size="26" text-anchor="middle">0</text>
<text x="469.5" y="945.5" font-size="26" text-anchor="middle">200</text>
<text x="567.0" y="945.5" font-size="26" text-anchor="middle">400</text>
<text x="664.5" y="945.5" font-size="26" text-anchor="middle">600</text>
</svg>
</div>
</body></html>
